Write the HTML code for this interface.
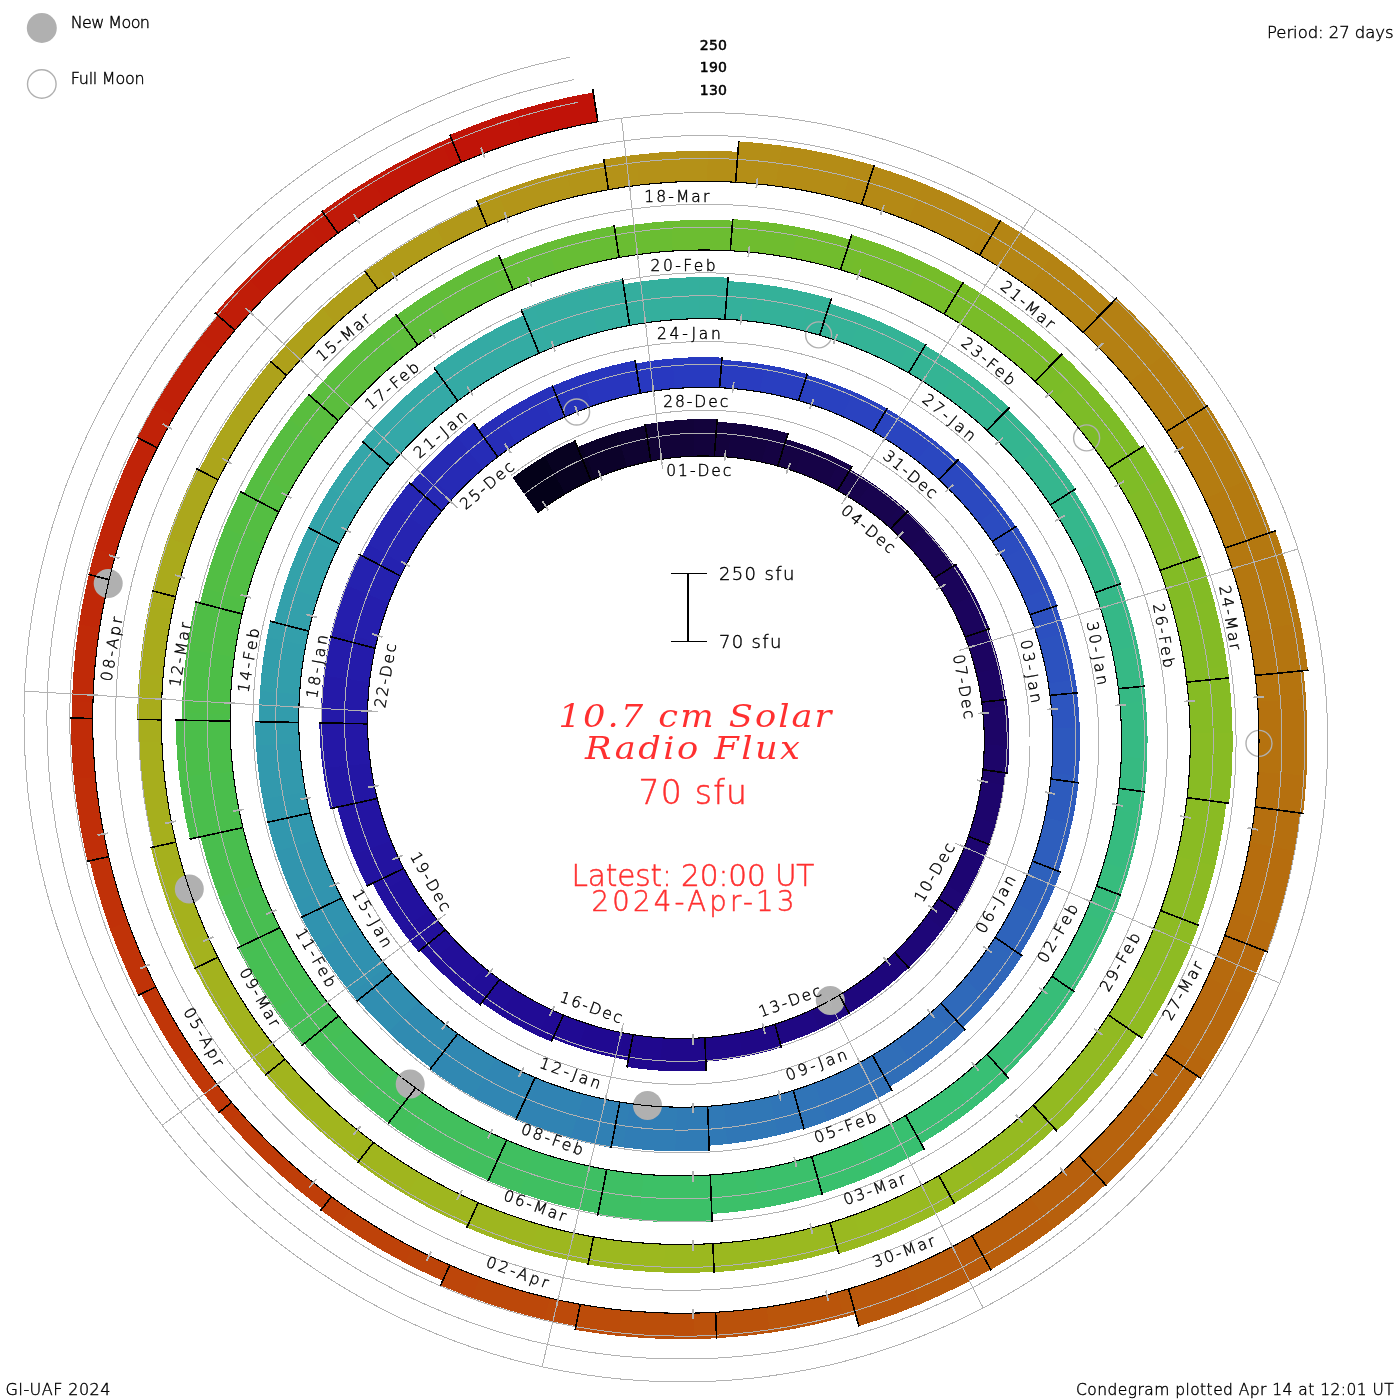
<!DOCTYPE html>
<html lang="en"><head><meta charset="utf-8"><title>10.7 cm Solar Radio Flux Condegram</title>
<style>html,body{margin:0;padding:0;background:#fff}svg{display:block}</style></head>
<body>
<svg width="1400" height="1400" viewBox="0 0 1400 1400">
<rect width="1400" height="1400" fill="#fff"/>
<g shape-rendering="crispEdges" stroke="none">
<polygon fill="#040119" points="537.7,512.8 546.6,506.1 555.8,499.9 565.2,494.0 544.7,456.0 533.7,462.8 523.0,470.1 512.6,477.7"/>
<polygon fill="#080221" points="565.2,494.0 573.6,489.2 582.2,484.7 591.0,480.5 574.7,440.5 564.5,445.4 554.5,450.5 544.7,456.0"/>
<polygon fill="#0a0225" points="591.0,480.5 592.4,479.9 593.7,479.3 595.0,478.7 582.0,445.2 580.5,445.9 579.0,446.6 577.4,447.3"/>
<polygon fill="#0c022a" points="595.0,478.7 605.4,474.4 616.0,470.5 626.7,467.1 617.9,432.3 605.8,436.1 593.8,440.4 582.0,445.2"/>
<polygon fill="#0f0331" points="626.7,467.1 634.7,464.9 642.8,462.9 650.9,461.2 645.4,425.7 636.2,427.6 627.0,429.9 617.9,432.3"/>
<polygon fill="#110335" points="650.9,461.2 653.9,460.6 656.8,460.1 659.7,459.6 655.2,422.8 651.9,423.4 648.5,424.0 645.2,424.6"/>
<polygon fill="#120339" points="659.7,459.6 670.9,458.0 682.2,456.8 693.6,456.2 693.7,419.2 680.8,419.8 667.9,421.1 655.2,422.8"/>
<polygon fill="#13033c" points="693.6,456.2 700.5,456.0 707.4,456.0 714.3,456.2 717.2,419.3 709.3,419.0 701.5,419.0 693.7,419.2"/>
<polygon fill="#14033d" points="714.3,456.2 718.8,456.4 723.3,456.7 727.8,457.0 732.1,422.9 727.1,422.5 722.0,422.2 717.0,421.9"/>
<polygon fill="#140340" points="727.8,457.0 739.2,458.3 750.5,460.0 761.8,462.1 770.3,428.9 757.6,426.4 744.9,424.4 732.1,422.9"/>
<polygon fill="#150343" points="761.8,462.1 767.1,463.3 772.4,464.6 777.7,466.0 788.2,433.3 782.2,431.7 776.3,430.2 770.3,428.9"/>
<polygon fill="#150344" points="777.7,466.0 783.5,467.7 789.3,469.5 795.0,471.5 805.4,445.2 799.1,443.1 792.7,441.0 786.3,439.2"/>
<polygon fill="#160347" points="795.0,471.5 805.8,475.5 816.5,480.0 827.0,485.0 840.5,460.2 829.0,454.7 817.3,449.7 805.4,445.2"/>
<polygon fill="#17034a" points="827.0,485.0 830.6,486.8 834.1,488.6 837.6,490.5 852.2,466.3 848.3,464.2 844.5,462.2 840.5,460.2"/>
<polygon fill="#17044c" points="837.6,490.5 844.2,494.3 850.8,498.3 857.2,502.4 871.5,482.6 864.5,478.1 857.4,473.7 850.2,469.6"/>
<polygon fill="#18044f" points="857.2,502.4 866.8,509.1 876.1,516.1 885.1,523.6 901.8,505.7 892.0,497.6 881.9,489.9 871.5,482.6"/>
<polygon fill="#180451" points="885.1,523.6 887.0,525.2 888.9,526.8 890.7,528.5 907.8,511.1 905.8,509.3 903.8,507.5 901.8,505.7"/>
<polygon fill="#190453" points="890.7,528.5 897.5,534.8 904.0,541.4 910.4,548.2 928.8,532.7 921.9,525.4 914.9,518.2 907.6,511.3"/>
<polygon fill="#1a0456" points="910.4,548.2 918.1,557.1 925.4,566.3 932.4,575.8 952.6,562.8 945.1,552.4 937.1,542.4 928.8,532.7"/>
<polygon fill="#1a0458" points="932.4,575.8 933.0,576.6 933.5,577.4 934.0,578.2 954.4,565.4 953.8,564.5 953.2,563.7 952.6,562.8"/>
<polygon fill="#1a045a" points="934.0,578.2 940.0,587.3 945.7,596.6 951.0,606.2 974.3,594.9 968.6,584.5 962.5,574.3 956.0,564.3"/>
<polygon fill="#1b045d" points="951.0,606.2 956.0,616.3 960.7,626.6 965.0,637.0 989.5,628.6 984.9,617.2 979.8,606.0 974.3,594.9"/>
<polygon fill="#1c045f" points="965.0,637.0 965.2,637.6 965.4,638.2 965.6,638.7 988.8,631.0 988.6,630.4 988.3,629.7 988.1,629.1"/>
<polygon fill="#1c0461" points="965.6,638.7 969.6,650.0 973.2,661.5 976.2,673.1 1000.2,668.2 996.9,655.6 993.1,643.2 988.8,631.0"/>
<polygon fill="#1c0463" points="976.2,673.1 978.4,682.6 980.2,692.3 981.7,702.0 1006.0,699.7 1004.4,689.1 1002.4,678.6 1000.2,668.2"/>
<polygon fill="#1c0465" points="981.7,702.0 981.9,704.2 982.2,706.4 982.5,708.6 1007.6,706.7 1007.3,704.3 1007.0,702.0 1006.7,699.6"/>
<polygon fill="#1d0566" points="982.5,708.6 983.6,720.6 984.2,732.7 984.3,744.8 1009.4,746.0 1009.3,732.9 1008.7,719.8 1007.6,706.7"/>
<polygon fill="#1d0569" points="984.3,744.8 984.0,753.1 983.6,761.4 982.9,769.7 1007.8,773.1 1008.6,764.1 1009.1,755.1 1009.4,746.0"/>
<polygon fill="#1d056a" points="982.9,769.7 982.5,773.5 982.0,777.3 981.5,781.1 1004.1,785.0 1004.6,781.0 1005.1,776.9 1005.6,772.8"/>
<polygon fill="#1d056c" points="981.5,781.1 979.6,793.1 977.2,805.0 974.3,816.9 996.1,823.7 999.3,810.9 1002.0,798.0 1004.1,785.0"/>
<polygon fill="#1d056e" points="974.3,816.9 972.4,823.4 970.4,829.9 968.3,836.4 989.7,844.6 992.0,837.7 994.1,830.7 996.1,823.7"/>
<polygon fill="#1d0570" points="968.3,836.4 966.5,841.5 964.6,846.7 962.5,851.7 982.7,860.8 984.9,855.4 987.0,849.9 988.9,844.4"/>
<polygon fill="#1d0572" points="962.5,851.7 957.7,863.0 952.3,874.1 946.5,885.0 965.4,896.5 971.7,884.9 977.4,873.0 982.7,860.8"/>
<polygon fill="#1e0674" points="946.5,885.0 943.9,889.5 941.2,894.0 938.5,898.5 956.7,911.0 959.7,906.2 962.6,901.4 965.4,896.5"/>
<polygon fill="#1e0675" points="938.5,898.5 934.6,904.4 930.5,910.3 926.4,916.1 942.8,929.2 947.3,923.0 951.6,916.7 955.8,910.3"/>
<polygon fill="#1e0678" points="926.4,916.1 918.8,925.9 910.8,935.5 902.4,944.6 917.1,959.7 926.1,949.9 934.6,939.7 942.8,929.2"/>
<polygon fill="#1e0679" points="902.4,944.6 899.9,947.3 897.3,949.8 894.7,952.4 908.8,968.0 911.6,965.2 914.4,962.5 917.1,959.7"/>
<polygon fill="#1e067b" points="894.7,952.4 888.3,958.5 881.7,964.4 875.0,970.1 887.4,986.5 894.7,980.4 901.7,974.1 908.6,967.7"/>
<polygon fill="#1e067d" points="875.0,970.1 865.1,977.8 854.9,985.1 844.4,992.0 854.7,1009.8 866.0,1002.5 876.9,994.7 887.4,986.5"/>
<polygon fill="#1f077f" points="844.4,992.0 842.7,993.1 841.0,994.1 839.3,995.2 849.2,1013.2 851.1,1012.1 852.9,1011.0 854.7,1009.8"/>
<polygon fill="#1f0780" points="839.3,995.2 830.1,1000.4 820.8,1005.4 811.2,1010.0 819.4,1029.4 829.6,1024.4 839.6,1019.2 849.4,1013.5"/>
<polygon fill="#1f0783" points="811.2,1010.0 799.7,1015.1 787.9,1019.7 775.9,1023.9 781.6,1044.1 794.4,1039.7 807.0,1034.8 819.4,1029.4"/>
<polygon fill="#1f0784" points="775.9,1023.9 775.6,1024.0 775.2,1024.1 774.9,1024.2 780.5,1044.4 780.9,1044.3 781.3,1044.2 781.6,1044.1"/>
<polygon fill="#1f0786" points="774.9,1024.2 763.1,1027.7 751.1,1030.7 739.0,1033.2 742.6,1057.0 755.7,1054.3 768.6,1051.1 781.3,1047.4"/>
<polygon fill="#1f0788" points="739.0,1033.2 727.7,1035.1 716.4,1036.6 704.9,1037.7 705.9,1061.7 718.2,1060.6 730.4,1059.0 742.6,1057.0"/>
<polygon fill="#1f078a" points="704.9,1037.7 703.6,1037.8 702.3,1037.9 701.0,1038.0 701.9,1070.8 703.3,1070.7 704.8,1070.6 706.2,1070.5"/>
<polygon fill="#20088b" points="701.0,1038.0 688.2,1038.5 675.4,1038.5 662.6,1037.9 659.4,1070.6 673.5,1071.2 687.7,1071.3 701.9,1070.8"/>
<polygon fill="#20088e" points="662.6,1037.9 652.8,1037.1 643.0,1036.1 633.2,1034.7 626.9,1066.9 637.7,1068.5 648.5,1069.7 659.4,1070.6"/>
<polygon fill="#20088f" points="633.2,1034.7 630.2,1034.2 627.2,1033.6 624.3,1033.1 618.5,1058.4 621.8,1059.0 625.0,1059.6 628.2,1060.1"/>
<polygon fill="#200991" points="624.3,1033.1 611.7,1030.4 599.1,1027.2 586.7,1023.5 577.9,1047.9 591.3,1052.0 604.9,1055.5 618.5,1058.4"/>
<polygon fill="#200a93" points="586.7,1023.5 578.9,1020.9 571.2,1018.0 563.5,1015.0 552.8,1038.6 561.1,1041.9 569.4,1045.0 577.9,1047.9"/>
<polygon fill="#210a94" points="563.5,1015.0 559.1,1013.1 554.8,1011.2 550.5,1009.2 537.1,1035.4 541.8,1037.6 546.6,1039.7 551.4,1041.7"/>
<polygon fill="#210b95" points="550.5,1009.2 538.8,1003.5 527.3,997.2 516.1,990.5 499.6,1014.8 511.9,1022.2 524.4,1029.1 537.1,1035.4"/>
<polygon fill="#210d97" points="516.1,990.5 510.6,986.9 505.1,983.2 499.7,979.4 481.7,1002.7 487.6,1006.8 493.6,1010.9 499.6,1014.8"/>
<polygon fill="#210d98" points="499.7,979.4 494.5,975.6 489.4,971.6 484.3,967.5 462.8,991.9 468.4,996.4 474.1,1000.8 479.9,1005.1"/>
<polygon fill="#220e99" points="484.3,967.5 474.3,959.0 464.6,950.0 455.4,940.7 431.1,962.2 441.3,972.5 451.9,982.4 462.8,991.9"/>
<polygon fill="#220f9b" points="455.4,940.7 452.0,937.1 448.7,933.4 445.5,929.7 420.2,950.1 423.8,954.2 427.4,958.2 431.1,962.2"/>
<polygon fill="#22109c" points="445.5,929.7 440.1,923.4 435.0,916.9 429.9,910.3 401.3,929.9 406.8,937.3 412.5,944.5 418.4,951.6"/>
<polygon fill="#22119e" points="429.9,910.3 422.3,899.5 415.1,888.3 408.4,876.8 377.5,892.8 384.9,905.5 392.9,917.9 401.3,929.9"/>
<polygon fill="#23129f" points="408.4,876.8 406.8,874.0 405.3,871.2 403.8,868.4 372.5,883.4 374.1,886.5 375.8,889.6 377.5,892.8"/>
<polygon fill="#2313a0" points="403.8,868.4 399.3,859.3 395.0,850.1 391.1,840.8 352.7,854.9 357.2,865.4 361.9,875.8 367.0,886.0"/>
<polygon fill="#2314a2" points="391.1,840.8 386.3,828.3 382.1,815.6 378.3,802.8 338.5,812.0 342.7,826.5 347.4,840.8 352.7,854.9"/>
<polygon fill="#2315a3" points="378.3,802.8 378.0,801.3 377.6,799.9 377.2,798.5 337.3,807.1 337.7,808.8 338.1,810.4 338.5,812.0"/>
<polygon fill="#2316a4" points="377.2,798.5 374.5,786.9 372.2,775.1 370.4,763.3 322.6,768.2 324.6,781.8 327.2,795.3 330.2,808.7"/>
<polygon fill="#2417a6" points="370.4,763.3 368.9,750.2 367.9,737.0 367.4,723.8 319.3,722.9 319.8,738.0 320.9,753.1 322.6,768.2"/>
<polygon fill="#2418a7" points="367.4,723.8 367.4,723.5 367.4,723.2 367.4,722.9 320.9,721.9 320.9,722.2 320.9,722.5 320.9,722.9"/>
<polygon fill="#2419a8" points="367.4,722.9 367.5,709.4 368.2,695.8 369.5,682.3 323.4,675.5 321.9,690.9 321.1,706.4 320.9,721.9"/>
<polygon fill="#241baa" points="369.5,682.3 371.0,670.9 372.9,659.5 375.2,648.2 330.1,636.6 327.4,649.5 325.2,662.5 323.4,675.5"/>
<polygon fill="#251dab" points="375.2,648.2 375.7,646.2 376.1,644.2 376.6,642.1 331.8,629.7 331.2,632.0 330.6,634.3 330.1,636.6"/>
<polygon fill="#251ead" points="376.6,642.1 380.1,628.9 384.1,615.9 388.7,603.0 345.8,585.0 340.5,599.7 335.8,614.6 331.8,629.7"/>
<polygon fill="#2521af" points="388.7,603.0 392.3,593.9 396.2,584.9 400.4,576.0 359.2,554.3 354.4,564.4 349.9,574.7 345.8,585.0"/>
<polygon fill="#2522b0" points="400.4,576.0 402.1,572.5 403.9,569.0 405.7,565.5 368.3,544.1 366.2,548.0 364.2,551.9 362.2,555.9"/>
<polygon fill="#2624b1" points="405.7,565.5 412.4,553.5 419.6,541.7 427.3,530.3 392.8,504.3 384.1,517.3 375.9,530.5 368.3,544.1"/>
<polygon fill="#2626b3" points="427.3,530.3 432.0,523.7 436.9,517.3 441.9,511.0 409.4,482.6 403.7,489.7 398.2,497.0 392.8,504.3"/>
<polygon fill="#2628b4" points="441.9,511.0 445.6,506.5 449.3,502.2 453.2,497.9 423.6,469.2 419.2,474.0 415.0,478.9 410.8,483.9"/>
<polygon fill="#262ab5" points="453.2,497.9 462.7,487.8 472.7,478.1 483.0,468.8 457.2,436.7 445.5,447.1 434.3,457.9 423.6,469.2"/>
<polygon fill="#262cb7" points="483.0,468.8 487.9,464.8 492.8,460.8 497.7,456.9 473.8,423.4 468.2,427.7 462.6,432.1 457.2,436.7"/>
<polygon fill="#272db8" points="497.7,456.9 503.8,452.3 510.1,447.9 516.4,443.6 498.8,415.0 491.8,419.7 484.9,424.6 478.2,429.6"/>
<polygon fill="#272fba" points="516.4,443.6 528.2,436.1 540.4,429.1 552.8,422.6 538.9,392.1 525.2,399.2 511.8,406.8 498.8,415.0"/>
<polygon fill="#2731bb" points="552.8,422.6 556.8,420.7 560.9,418.7 565.0,416.9 552.3,385.8 547.8,387.8 543.3,389.9 538.9,392.1"/>
<polygon fill="#2733bc" points="565.0,416.9 573.8,413.1 582.7,409.6 591.7,406.3 581.7,374.6 571.9,378.2 562.1,382.0 552.5,386.1"/>
<polygon fill="#2835be" points="591.7,406.3 605.1,401.9 618.7,398.1 632.4,394.9 626.5,362.2 611.4,365.7 596.5,369.9 581.7,374.6"/>
<polygon fill="#2837bf" points="632.4,394.9 635.1,394.3 637.7,393.8 640.3,393.3 635.2,360.5 632.3,361.0 629.4,361.6 626.5,362.2"/>
<polygon fill="#2838c0" points="640.3,393.3 651.6,391.3 663.0,389.8 674.5,388.6 672.8,358.5 660.4,359.7 648.0,361.4 635.7,363.5"/>
<polygon fill="#283ac0" points="674.5,388.6 688.6,387.7 702.9,387.3 717.1,387.6 719.2,357.5 703.7,357.2 688.3,357.5 672.8,358.5"/>
<polygon fill="#293bc0" points="717.1,387.6 718.0,387.6 718.8,387.6 719.6,387.7 722.0,357.6 721.0,357.6 720.1,357.5 719.2,357.5"/>
<polygon fill="#293cc0" points="719.6,387.7 733.0,388.6 746.4,390.0 759.7,391.9 765.1,364.6 750.7,362.4 736.3,360.9 721.8,359.9"/>
<polygon fill="#293ec0" points="759.7,391.9 772.8,394.3 785.8,397.2 798.6,400.6 807.1,374.1 793.3,370.4 779.2,367.2 765.1,364.6"/>
<polygon fill="#293fc0" points="798.6,400.6 799.6,400.9 800.7,401.2 801.7,401.5 810.2,375.8 809.1,375.5 808.0,375.1 806.9,374.8"/>
<polygon fill="#2941c0" points="801.7,401.5 815.4,405.9 828.9,410.8 842.2,416.3 853.9,391.8 839.5,385.9 824.9,380.5 810.2,375.8"/>
<polygon fill="#2a42c0" points="842.2,416.3 852.7,421.1 863.0,426.2 873.1,431.7 887.1,408.5 876.2,402.6 865.1,397.0 853.9,391.8"/>
<polygon fill="#2a44c0" points="873.1,431.7 875.7,433.2 878.2,434.6 880.8,436.1 895.2,413.6 892.4,412.0 889.7,410.4 886.9,408.8"/>
<polygon fill="#2a45c0" points="880.8,436.1 893.1,443.8 905.1,452.0 916.7,460.7 933.8,440.1 921.3,430.8 908.4,421.9 895.2,413.6"/>
<polygon fill="#2a47c0" points="916.7,460.7 924.2,466.7 931.6,473.0 938.8,479.5 957.5,460.4 949.8,453.4 941.9,446.7 933.8,440.1"/>
<polygon fill="#2b48c0" points="938.8,479.5 942.4,482.8 945.9,486.2 949.4,489.6 969.8,470.6 966.0,466.9 962.2,463.2 958.3,459.6"/>
<polygon fill="#2b49c0" points="949.4,489.6 959.5,500.2 969.2,511.2 978.4,522.5 1000.9,506.2 991.0,493.9 980.6,482.0 969.8,470.6"/>
<polygon fill="#2b4bc0" points="978.4,522.5 983.1,528.8 987.7,535.1 992.2,541.5 1015.7,526.7 1011.0,519.7 1006.0,512.9 1000.9,506.2"/>
<polygon fill="#2b4cc0" points="992.2,541.5 995.9,547.3 999.6,553.1 1003.2,559.0 1028.2,545.1 1024.4,538.8 1020.5,532.5 1016.4,526.3"/>
<polygon fill="#2c4dc0" points="1003.2,559.0 1010.4,571.8 1017.1,584.9 1023.3,598.3 1049.9,587.7 1043.3,573.2 1036.0,559.0 1028.2,545.1"/>
<polygon fill="#2c4fc0" points="1023.3,598.3 1025.6,603.8 1027.9,609.3 1030.0,614.8 1057.1,605.5 1054.8,599.5 1052.4,593.6 1049.9,587.7"/>
<polygon fill="#2c50c0" points="1030.0,614.8 1033.0,623.1 1035.8,631.5 1038.4,640.0 1065.0,633.1 1062.2,623.9 1059.2,614.9 1056.0,605.9"/>
<polygon fill="#2c52bf" points="1038.4,640.0 1042.3,654.3 1045.6,668.8 1048.3,683.4 1075.5,679.9 1072.7,664.1 1069.2,648.5 1065.0,633.1"/>
<polygon fill="#2d54bf" points="1048.3,683.4 1048.9,687.4 1049.5,691.4 1050.0,695.4 1077.4,692.7 1076.8,688.4 1076.2,684.1 1075.5,679.9"/>
<polygon fill="#2d55bf" points="1050.0,695.4 1051.2,706.2 1052.1,717.0 1052.7,727.9 1079.8,727.8 1079.2,716.1 1078.3,704.4 1077.0,692.7"/>
<polygon fill="#2d58be" points="1052.7,727.9 1052.9,742.9 1052.5,757.8 1051.5,772.8 1078.4,776.0 1079.6,759.9 1080.0,743.8 1079.8,727.8"/>
<polygon fill="#2d5abe" points="1051.5,772.8 1051.4,774.8 1051.1,776.9 1050.9,779.0 1077.8,782.7 1078.0,780.4 1078.2,778.2 1078.4,776.0"/>
<polygon fill="#2d5bbd" points="1050.9,779.0 1049.3,791.8 1047.3,804.6 1044.8,817.3 1071.8,824.0 1074.6,810.3 1076.8,796.6 1078.5,782.8"/>
<polygon fill="#2e5ebd" points="1044.8,817.3 1041.3,832.0 1037.2,846.5 1032.5,860.8 1058.5,870.8 1063.6,855.4 1068.0,839.8 1071.8,824.0"/>
<polygon fill="#2e5fbc" points="1032.5,860.8 1032.5,860.9 1032.4,861.0 1032.4,861.1 1058.4,871.2 1058.4,871.1 1058.5,870.9 1058.5,870.8"/>
<polygon fill="#2e61bc" points="1032.4,861.1 1027.1,875.2 1021.3,889.0 1014.8,902.6 1041.4,916.9 1048.4,902.2 1054.8,887.2 1060.5,872.0"/>
<polygon fill="#2e63bb" points="1014.8,902.6 1008.7,914.4 1002.1,926.0 995.1,937.3 1020.0,954.4 1027.6,942.1 1034.7,929.6 1041.4,916.9"/>
<polygon fill="#2f65bb" points="995.1,937.3 994.1,938.9 993.1,940.5 992.0,942.1 1018.8,961.0 1019.9,959.3 1021.1,957.6 1022.2,955.9"/>
<polygon fill="#2f66ba" points="992.0,942.1 983.3,954.6 974.1,966.7 964.4,978.5 988.6,1000.6 999.2,987.8 1009.3,974.6 1018.8,961.0"/>
<polygon fill="#2f69ba" points="964.4,978.5 956.8,987.0 949.0,995.2 940.9,1003.3 963.0,1027.6 971.8,1018.9 980.3,1009.9 988.6,1000.6"/>
<polygon fill="#2f6ab9" points="940.9,1003.3 938.1,1006.0 935.2,1008.7 932.3,1011.3 955.6,1038.6 958.7,1035.7 961.9,1032.8 965.0,1029.8"/>
<polygon fill="#2f6cb9" points="932.3,1011.3 920.7,1021.3 908.7,1030.9 896.3,1040.0 916.0,1070.0 929.6,1060.1 942.8,1049.6 955.6,1038.6"/>
<polygon fill="#306eb8" points="896.3,1040.0 888.5,1045.3 880.5,1050.4 872.4,1055.3 889.8,1086.7 898.7,1081.4 907.4,1075.8 916.0,1070.0"/>
<polygon fill="#3070b8" points="872.4,1055.3 867.3,1058.3 862.1,1061.2 856.8,1064.1 874.5,1100.0 880.3,1096.9 886.1,1093.7 891.8,1090.4"/>
<polygon fill="#3072b8" points="856.8,1064.1 843.0,1071.0 828.9,1077.3 814.5,1083.1 827.5,1121.0 843.5,1114.7 859.1,1107.7 874.5,1100.0"/>
<polygon fill="#3074b7" points="814.5,1083.1 807.5,1085.7 800.4,1088.1 793.3,1090.4 804.0,1129.0 811.9,1126.5 819.8,1123.8 827.5,1121.0"/>
<polygon fill="#3075b7" points="793.3,1090.4 785.6,1092.7 777.8,1094.8 770.0,1096.8 778.1,1135.3 786.7,1133.1 795.3,1130.8 803.8,1128.3"/>
<polygon fill="#3077b6" points="770.0,1096.8 754.8,1100.1 739.4,1102.8 724.0,1104.9 727.2,1144.1 744.3,1141.8 761.3,1138.9 778.1,1135.3"/>
<polygon fill="#3079b6" points="724.0,1104.9 718.5,1105.4 713.1,1105.9 707.6,1106.3 709.1,1145.6 715.2,1145.2 721.2,1144.7 727.2,1144.1"/>
<polygon fill="#307bb5" points="707.6,1106.3 697.5,1106.9 687.3,1107.2 677.1,1107.2 675.2,1151.4 686.6,1151.4 698.0,1151.2 709.3,1150.6"/>
<polygon fill="#307db5" points="677.1,1107.2 661.4,1106.6 645.8,1105.5 630.2,1103.6 622.8,1147.3 640.3,1149.4 657.7,1150.8 675.2,1151.4"/>
<polygon fill="#307fb4" points="630.2,1103.6 626.8,1103.1 623.4,1102.6 619.9,1102.1 611.4,1145.5 615.2,1146.1 619.0,1146.7 622.8,1147.3"/>
<polygon fill="#3080b4" points="619.9,1102.1 607.8,1099.8 595.8,1097.2 583.9,1094.2 570.5,1138.8 583.9,1142.2 597.4,1145.2 611.0,1147.8"/>
<polygon fill="#3083b3" points="583.9,1094.2 568.7,1089.8 553.7,1084.8 538.9,1079.1 520.1,1121.7 536.7,1128.1 553.5,1133.8 570.5,1138.8"/>
<polygon fill="#3084b3" points="538.9,1079.1 537.6,1078.6 536.4,1078.0 535.1,1077.5 515.8,1119.9 517.3,1120.5 518.7,1121.1 520.1,1121.7"/>
<polygon fill="#3086b3" points="535.1,1077.5 521.9,1071.6 508.8,1065.3 496.1,1058.4 472.9,1097.1 487.2,1104.8 501.7,1111.9 516.4,1118.5"/>
<polygon fill="#3088b2" points="496.1,1058.4 483.0,1050.7 470.2,1042.5 457.7,1033.7 430.1,1069.3 444.0,1079.1 458.3,1088.4 472.9,1097.1"/>
<polygon fill="#308ab2" points="457.7,1033.7 457.1,1033.3 456.5,1032.9 456.0,1032.5 429.1,1066.7 429.8,1067.2 430.4,1067.7 431.0,1068.1"/>
<polygon fill="#308bb1" points="456.0,1032.5 443.3,1022.7 431.1,1012.5 419.3,1001.7 388.4,1032.3 401.5,1044.4 415.1,1055.8 429.1,1066.7"/>
<polygon fill="#308eb1" points="419.3,1001.7 409.9,992.4 400.8,982.8 392.0,972.9 358.1,1000.2 367.9,1011.3 378.0,1022.0 388.4,1032.3"/>
<polygon fill="#308fb0" points="392.0,972.9 390.2,970.7 388.4,968.6 386.6,966.4 351.2,993.7 353.2,996.1 355.2,998.5 357.2,1000.9"/>
<polygon fill="#3091b0" points="386.6,966.4 376.7,953.7 367.3,940.7 358.4,927.2 320.0,949.9 329.8,964.9 340.2,979.5 351.2,993.7"/>
<polygon fill="#3093af" points="358.4,927.2 352.6,917.6 347.1,907.9 341.8,898.0 301.5,917.3 307.4,928.3 313.5,939.2 320.0,949.9"/>
<polygon fill="#3194af" points="341.8,898.0 339.6,893.6 337.4,889.1 335.3,884.7 295.4,901.9 297.7,906.9 300.1,911.9 302.6,916.8"/>
<polygon fill="#3195ae" points="335.3,884.7 328.8,869.8 322.9,854.7 317.6,839.4 275.8,851.6 281.6,868.6 288.1,885.4 295.4,901.9"/>
<polygon fill="#3197ae" points="317.6,839.4 314.9,830.7 312.4,821.9 310.1,813.0 267.6,822.3 270.1,832.1 272.8,841.9 275.8,851.6"/>
<polygon fill="#3198ad" points="310.1,813.0 308.4,806.1 306.9,799.1 305.5,792.1 262.6,799.0 264.1,806.8 265.8,814.5 267.6,822.3"/>
<polygon fill="#3299ad" points="305.5,792.1 302.9,776.1 300.8,759.9 299.5,743.6 256.0,745.1 257.4,763.2 259.6,781.2 262.6,799.0"/>
<polygon fill="#329bac" points="299.5,743.6 299.1,736.5 298.9,729.5 298.7,722.5 255.2,721.6 255.3,729.4 255.6,737.3 256.0,745.1"/>
<polygon fill="#329cac" points="298.7,722.5 298.8,713.1 299.0,703.8 299.5,694.5 260.0,690.9 259.4,701.2 259.1,711.4 259.1,721.7"/>
<polygon fill="#329eab" points="299.5,694.5 300.9,678.1 302.9,661.8 305.6,645.6 266.9,637.1 263.8,655.0 261.5,672.9 260.0,690.9"/>
<polygon fill="#339fab" points="305.6,645.6 306.6,640.7 307.6,635.9 308.7,631.1 270.2,621.2 269.0,626.5 267.9,631.8 266.9,637.1"/>
<polygon fill="#33a0ab" points="308.7,631.1 311.4,619.9 314.5,608.7 317.9,597.7 284.4,585.8 280.7,597.9 277.3,610.0 274.3,622.2"/>
<polygon fill="#33a2aa" points="317.9,597.7 323.3,582.0 329.3,566.6 336.0,551.5 304.2,535.6 296.9,552.1 290.3,568.8 284.4,585.8"/>
<polygon fill="#33a3aa" points="336.0,551.5 337.2,549.0 338.4,546.5 339.6,544.0 308.2,527.4 306.9,530.1 305.5,532.9 304.2,535.6"/>
<polygon fill="#33a4a9" points="339.6,544.0 345.9,531.7 352.7,519.6 359.8,507.8 330.3,488.1 322.5,500.9 315.1,514.1 308.2,527.4"/>
<polygon fill="#34a6a9" points="359.8,507.8 369.0,493.9 378.7,480.3 389.0,467.2 362.1,444.0 350.9,458.3 340.3,472.9 330.3,488.1"/>
<polygon fill="#34a7a8" points="389.0,467.2 389.4,466.7 389.8,466.3 390.1,465.8 363.4,442.5 363.0,443.0 362.6,443.5 362.1,444.0"/>
<polygon fill="#34a8a8" points="390.1,465.8 400.6,453.6 411.6,441.8 423.1,430.5 398.3,403.0 385.8,415.3 373.7,428.2 362.2,441.5"/>
<polygon fill="#34a9a6" points="423.1,430.5 434.3,420.2 445.8,410.4 457.8,401.0 436.3,370.9 423.2,381.1 410.5,391.8 398.3,403.0"/>
<polygon fill="#34aaa5" points="457.8,401.0 459.1,400.0 460.3,399.1 461.6,398.1 438.3,364.6 436.8,365.7 435.4,366.7 434.0,367.8"/>
<polygon fill="#34aaa4" points="461.6,398.1 475.3,388.4 489.5,379.3 504.0,370.8 485.0,334.6 469.0,344.0 453.4,354.0 438.3,364.6"/>
<polygon fill="#34aba3" points="504.0,370.8 515.5,364.6 527.2,358.7 539.1,353.3 523.6,315.5 510.5,321.4 497.6,327.8 485.0,334.6"/>
<polygon fill="#34aca2" points="539.1,353.3 542.6,351.8 546.1,350.3 549.6,348.8 533.1,304.9 529.1,306.5 525.2,308.1 521.3,309.8"/>
<polygon fill="#34aca1" points="549.6,348.8 565.4,342.7 581.5,337.3 597.8,332.6 586.8,287.0 568.7,292.2 550.7,298.2 533.1,304.9"/>
<polygon fill="#34ad9f" points="597.8,332.6 608.3,329.9 619.0,327.5 629.7,325.4 622.5,279.0 610.5,281.4 598.6,284.0 586.8,287.0"/>
<polygon fill="#34ae9e" points="629.7,325.4 635.7,324.4 641.7,323.4 647.7,322.5 643.1,281.2 636.5,282.1 629.9,283.2 623.3,284.3"/>
<polygon fill="#34af9d" points="647.7,322.5 664.7,320.5 681.7,319.3 698.7,318.7 699.3,277.1 680.5,277.7 661.8,279.0 643.1,281.2"/>
<polygon fill="#34af9c" points="698.7,318.7 707.5,318.7 716.2,318.8 724.9,319.2 728.2,277.7 718.5,277.3 708.9,277.1 699.3,277.1"/>
<polygon fill="#34b09b" points="724.9,319.2 733.3,319.7 741.6,320.4 750.0,321.2 755.3,283.4 746.1,282.5 737.0,281.7 727.9,281.1"/>
<polygon fill="#34b199" points="750.0,321.2 767.0,323.5 783.9,326.5 800.7,330.2 810.6,293.3 792.3,289.3 773.8,286.0 755.3,283.4"/>
<polygon fill="#34b198" points="800.7,330.2 807.0,331.7 813.3,333.4 819.6,335.2 831.3,298.9 824.4,296.9 817.5,295.1 810.6,293.3"/>
<polygon fill="#34b297" points="819.6,335.2 829.8,338.3 840.0,341.7 850.0,345.4 862.6,314.6 851.7,310.7 840.8,307.0 829.8,303.6"/>
<polygon fill="#34b396" points="850.0,345.4 866.1,351.8 881.8,358.9 897.3,366.7 913.5,337.7 896.9,329.3 879.9,321.6 862.6,314.6"/>
<polygon fill="#34b495" points="897.3,366.7 901.1,368.7 904.8,370.8 908.6,372.9 925.7,344.4 921.7,342.2 917.6,339.9 913.5,337.7"/>
<polygon fill="#34b494" points="908.6,372.9 919.8,379.5 930.8,386.5 941.6,393.8 960.7,368.0 949.1,360.1 937.2,352.6 925.2,345.4"/>
<polygon fill="#34b592" points="941.6,393.8 955.7,404.0 969.3,414.9 982.4,426.3 1004.6,403.1 990.4,390.8 975.8,379.1 960.7,368.0"/>
<polygon fill="#34b591" points="982.4,426.3 983.9,427.6 985.4,429.0 986.9,430.4 1009.4,407.5 1007.8,406.0 1006.2,404.5 1004.6,403.1"/>
<polygon fill="#34b590" points="986.9,430.4 998.0,441.1 1008.7,452.2 1019.0,463.7 1042.0,444.9 1031.1,432.5 1019.6,420.6 1007.8,409.2"/>
<polygon fill="#35b68e" points="1019.0,463.7 1030.0,477.0 1040.4,490.7 1050.3,504.9 1075.5,489.0 1064.9,473.9 1053.8,459.1 1042.0,444.9"/>
<polygon fill="#35b68d" points="1050.3,504.9 1050.4,505.1 1050.6,505.3 1050.7,505.6 1074.0,490.9 1073.8,490.7 1073.7,490.5 1073.5,490.3"/>
<polygon fill="#35b78c" points="1050.7,505.6 1060.1,520.4 1068.9,535.6 1077.1,551.1 1102.0,539.5 1093.3,522.9 1084.0,506.7 1074.0,490.9"/>
<polygon fill="#35b78a" points="1077.1,551.1 1083.5,564.7 1089.5,578.5 1095.0,592.6 1121.0,583.7 1115.2,568.7 1108.8,554.0 1102.0,539.5"/>
<polygon fill="#35b889" points="1095.0,592.6 1095.9,595.0 1096.8,597.4 1097.6,599.8 1122.7,591.8 1121.8,589.2 1120.8,586.6 1119.9,584.0"/>
<polygon fill="#35b887" points="1097.6,599.8 1103.1,616.6 1107.9,633.6 1112.0,650.8 1137.9,645.9 1133.6,627.7 1128.5,609.6 1122.7,591.8"/>
<polygon fill="#36b985" points="1112.0,650.8 1114.5,663.4 1116.6,676.0 1118.4,688.7 1144.6,686.2 1142.8,672.7 1140.5,659.3 1137.9,645.9"/>
<polygon fill="#36b984" points="1118.4,688.7 1119.0,693.6 1119.5,698.5 1120.0,703.4 1145.9,701.8 1145.4,696.6 1144.8,691.4 1144.2,686.2"/>
<polygon fill="#36ba83" points="1120.0,703.4 1121.2,721.1 1121.6,738.9 1121.3,756.7 1147.2,758.4 1147.6,739.5 1147.1,720.6 1145.9,701.8"/>
<polygon fill="#36ba81" points="1121.3,756.7 1120.8,767.3 1120.0,777.8 1119.0,788.3 1144.7,791.8 1145.8,780.7 1146.7,769.5 1147.2,758.4"/>
<polygon fill="#36bb80" points="1119.0,788.3 1118.1,795.5 1117.1,802.8 1116.0,810.0 1141.5,814.8 1142.7,807.2 1143.8,799.5 1144.7,791.8"/>
<polygon fill="#36bb7f" points="1116.0,810.0 1112.8,827.6 1108.8,845.0 1104.1,862.3 1128.8,870.3 1133.8,852.0 1138.1,833.5 1141.5,814.8"/>
<polygon fill="#37bc7d" points="1104.1,862.3 1101.7,870.2 1099.2,878.1 1096.5,885.9 1120.7,895.2 1123.6,887.0 1126.3,878.6 1128.8,870.3"/>
<polygon fill="#37bc7c" points="1096.5,885.9 1093.1,895.0 1089.5,904.0 1085.8,913.0 1109.6,924.1 1113.7,914.6 1117.5,905.0 1121.0,895.4"/>
<polygon fill="#37bd7a" points="1085.8,913.0 1078.2,929.3 1070.0,945.3 1061.2,961.1 1083.5,975.0 1092.9,958.4 1101.6,941.4 1109.6,924.1"/>
<polygon fill="#37bd79" points="1061.2,961.1 1058.1,966.1 1055.0,971.2 1051.8,976.2 1073.5,991.1 1076.9,985.8 1080.2,980.4 1083.5,975.0"/>
<polygon fill="#37bd78" points="1051.8,976.2 1045.0,986.3 1038.0,996.1 1030.7,1005.9 1052.0,1023.2 1059.7,1012.9 1067.2,1002.4 1074.4,991.7"/>
<polygon fill="#37be76" points="1030.7,1005.9 1019.3,1019.9 1007.3,1033.5 994.7,1046.6 1013.7,1066.5 1027.1,1052.6 1039.8,1038.2 1052.0,1023.2"/>
<polygon fill="#37be75" points="994.7,1046.6 992.2,1049.2 989.6,1051.7 987.1,1054.2 1005.5,1074.5 1008.3,1071.9 1011.0,1069.2 1013.7,1066.5"/>
<polygon fill="#38bf74" points="987.1,1054.2 976.3,1064.1 965.3,1073.6 953.9,1082.8 973.0,1108.5 985.2,1098.7 997.1,1088.5 1008.6,1077.9"/>
<polygon fill="#38bf72" points="953.9,1082.8 939.3,1093.7 924.2,1104.0 908.7,1113.6 924.5,1141.6 941.1,1131.2 957.3,1120.2 973.0,1108.5"/>
<polygon fill="#38c071" points="908.7,1113.6 907.7,1114.2 906.7,1114.9 905.6,1115.5 921.1,1143.5 922.2,1142.9 923.3,1142.2 924.5,1141.6"/>
<polygon fill="#38c070" points="905.6,1115.5 890.7,1123.8 875.5,1131.6 859.9,1138.7 874.5,1174.4 891.4,1166.6 908.0,1158.2 924.3,1149.2"/>
<polygon fill="#39c06d" points="859.9,1138.7 844.1,1145.3 828.0,1151.2 811.7,1156.6 822.1,1193.7 839.8,1187.9 857.3,1181.5 874.5,1174.4"/>
<polygon fill="#3ac06c" points="811.7,1156.6 810.6,1156.9 809.4,1157.3 808.2,1157.6 818.4,1195.2 819.6,1194.8 820.9,1194.4 822.2,1194.1"/>
<polygon fill="#3bc06b" points="808.2,1157.6 790.5,1162.5 772.6,1166.6 754.4,1170.0 759.8,1208.5 779.5,1204.9 799.1,1200.4 818.4,1195.2"/>
<polygon fill="#3cc069" points="754.4,1170.0 739.8,1172.1 725.1,1173.8 710.3,1175.0 711.8,1213.9 727.9,1212.6 743.9,1210.8 759.8,1208.5"/>
<polygon fill="#3cc068" points="710.3,1175.0 706.6,1175.2 703.0,1175.4 699.3,1175.5 700.0,1222.1 704.0,1221.9 708.1,1221.7 712.1,1221.5"/>
<polygon fill="#3dc066" points="699.3,1175.5 680.8,1175.9 662.3,1175.4 643.8,1174.2 638.7,1220.5 659.1,1221.9 679.6,1222.4 700.0,1222.1"/>
<polygon fill="#3ebf64" points="643.8,1174.2 631.4,1173.0 619.0,1171.4 606.7,1169.5 597.7,1215.2 611.3,1217.3 625.0,1219.1 638.7,1220.5"/>
<polygon fill="#3ebf63" points="606.7,1169.5 600.7,1168.4 594.7,1167.3 588.7,1166.0 578.3,1209.4 584.9,1210.8 591.5,1212.1 598.1,1213.3"/>
<polygon fill="#3fbf61" points="588.7,1166.0 570.6,1161.7 552.6,1156.7 534.9,1151.0 519.2,1192.8 538.7,1199.1 558.4,1204.7 578.3,1209.4"/>
<polygon fill="#40bf60" points="534.9,1151.0 525.4,1147.5 516.0,1143.9 506.7,1140.0 488.2,1180.7 498.4,1185.0 508.8,1189.0 519.2,1192.8"/>
<polygon fill="#41bf5e" points="506.7,1140.0 498.8,1136.6 491.0,1133.0 483.2,1129.3 462.6,1168.5 471.1,1172.6 479.7,1176.6 488.3,1180.4"/>
<polygon fill="#42bf5d" points="483.2,1129.3 466.6,1120.6 450.3,1111.3 434.5,1101.2 409.2,1137.6 426.6,1148.6 444.4,1158.9 462.6,1168.5"/>
<polygon fill="#42bf5b" points="434.5,1101.2 428.1,1096.9 421.8,1092.5 415.6,1088.0 388.5,1123.0 395.3,1128.0 402.2,1132.8 409.2,1137.6"/>
<polygon fill="#43bf5a" points="415.6,1088.0 406.7,1081.3 398.0,1074.4 389.5,1067.3 359.8,1100.2 369.2,1108.0 378.7,1115.6 388.5,1123.0"/>
<polygon fill="#44bf58" points="389.5,1067.3 375.4,1054.7 361.9,1041.5 348.9,1027.8 315.4,1056.8 329.6,1071.9 344.4,1086.3 359.8,1100.2"/>
<polygon fill="#45bf56" points="348.9,1027.8 345.4,1023.9 341.9,1020.0 338.5,1016.0 304.1,1043.8 307.8,1048.2 311.6,1052.5 315.4,1056.8"/>
<polygon fill="#45bf55" points="338.5,1016.0 329.9,1005.4 321.5,994.6 313.5,983.5 274.4,1009.6 283.2,1021.8 292.4,1033.8 302.0,1045.5"/>
<polygon fill="#46bf53" points="313.5,983.5 302.9,967.8 292.9,951.6 283.7,935.0 241.7,956.1 251.9,974.4 262.8,992.2 274.4,1009.6"/>
<polygon fill="#47be52" points="283.7,935.0 282.4,932.6 281.1,930.1 279.9,927.7 237.5,947.9 238.9,950.6 240.3,953.3 241.7,956.1"/>
<polygon fill="#48be51" points="279.9,927.7 272.8,913.0 266.2,898.2 260.1,883.1 219.1,897.6 225.7,914.1 232.9,930.4 240.6,946.4"/>
<polygon fill="#49be4e" points="260.1,883.1 253.7,865.1 248.0,846.9 243.1,828.4 200.6,837.7 206.0,857.9 212.1,877.9 219.1,897.6"/>
<polygon fill="#49be4d" points="243.1,828.4 243.1,828.1 243.0,827.9 242.9,827.6 200.4,836.8 200.5,837.1 200.6,837.4 200.6,837.7"/>
<polygon fill="#4abe4c" points="242.9,827.6 238.9,809.2 235.6,790.6 233.1,771.9 179.1,776.8 181.9,797.7 185.5,818.5 190.0,839.1"/>
<polygon fill="#4bbe4a" points="233.1,771.9 231.4,755.0 230.4,738.1 230.1,721.1 175.9,720.1 176.2,739.0 177.3,757.9 179.1,776.8"/>
<polygon fill="#4cbe49" points="230.1,721.1 230.0,718.9 230.1,716.6 230.1,714.4 182.0,712.8 182.0,715.2 182.0,717.7 182.0,720.2"/>
<polygon fill="#4dbe47" points="230.1,714.4 230.7,695.2 232.1,675.9 234.3,656.8 186.8,649.2 184.3,670.3 182.7,691.5 182.0,712.8"/>
<polygon fill="#4fbe46" points="234.3,656.8 236.4,642.4 239.1,628.2 242.1,614.0 195.6,602.0 192.1,617.6 189.2,633.4 186.8,649.2"/>
<polygon fill="#50be45" points="242.1,614.0 243.2,609.3 244.4,604.6 245.6,600.0 203.8,587.8 202.5,592.9 201.2,598.0 200.0,603.1"/>
<polygon fill="#52be44" points="245.6,600.0 251.0,581.4 257.1,563.0 264.0,544.9 224.0,527.6 216.5,547.4 209.7,567.5 203.8,587.8"/>
<polygon fill="#54be42" points="264.0,544.9 268.6,533.8 273.6,522.8 278.8,511.9 240.3,491.7 234.6,503.5 229.2,515.5 224.0,527.6"/>
<polygon fill="#55be41" points="278.8,511.9 282.2,505.4 285.6,498.8 289.1,492.3 254.9,472.2 251.1,479.2 247.3,486.3 243.7,493.4"/>
<polygon fill="#57bd40" points="289.1,492.3 299.0,475.5 309.5,459.1 320.7,443.2 289.3,419.0 277.1,436.2 265.6,454.0 254.9,472.2"/>
<polygon fill="#59bd3e" points="320.7,443.2 326.5,435.6 332.3,428.0 338.4,420.6 308.5,394.5 301.9,402.5 295.5,410.7 289.3,419.0"/>
<polygon fill="#5bbd3d" points="338.4,420.6 344.9,413.0 351.5,405.5 358.3,398.2 331.7,371.9 324.4,379.8 317.2,387.8 310.2,396.0"/>
<polygon fill="#5cbd3c" points="358.3,398.2 372.0,384.3 386.4,370.9 401.3,358.1 378.2,328.7 362.1,342.5 346.6,356.9 331.7,371.9"/>
<polygon fill="#5ebd3b" points="401.3,358.1 406.7,353.7 412.2,349.4 417.8,345.1 396.1,314.7 390.0,319.3 384.1,323.9 378.2,328.7"/>
<polygon fill="#60bd3a" points="417.8,345.1 428.0,337.7 438.4,330.5 449.0,323.6 430.2,292.2 418.7,299.6 407.5,307.3 396.5,315.3"/>
<polygon fill="#62bd38" points="449.0,323.6 465.9,313.4 483.2,304.0 500.9,295.2 486.0,261.7 467.0,271.1 448.3,281.3 430.2,292.2"/>
<polygon fill="#63bd37" points="500.9,295.2 504.9,293.3 509.0,291.5 513.1,289.7 499.2,255.8 494.8,257.7 490.4,259.7 486.0,261.7"/>
<polygon fill="#65bd36" points="513.1,289.7 527.2,283.8 541.5,278.4 556.0,273.4 546.8,242.7 531.3,248.0 516.0,253.7 500.9,260.0"/>
<polygon fill="#67bd34" points="556.0,273.4 574.9,267.7 594.1,262.7 613.5,258.6 608.2,227.0 587.5,231.4 567.0,236.6 546.8,242.7"/>
<polygon fill="#68bd33" points="613.5,258.6 615.4,258.2 617.2,257.9 619.1,257.5 614.1,225.9 612.2,226.2 610.2,226.6 608.2,227.0"/>
<polygon fill="#6abd32" points="619.1,257.5 636.8,254.7 654.7,252.5 672.7,251.0 671.4,220.9 652.3,222.5 633.3,224.7 614.4,227.8"/>
<polygon fill="#6cbd31" points="672.7,251.0 691.8,250.1 711.0,250.0 730.3,250.7 732.6,220.6 712.2,219.9 691.8,220.0 671.4,220.9"/>
<polygon fill="#6dbc30" points="730.3,250.7 731.0,250.7 731.7,250.8 732.4,250.8 735.0,219.3 734.3,219.2 733.5,219.2 732.7,219.1"/>
<polygon fill="#6fbc2f" points="732.4,250.8 752.4,252.4 772.2,254.8 792.0,258.1 798.5,227.1 777.4,223.6 756.3,221.0 735.0,219.3"/>
<polygon fill="#71bc2d" points="792.0,258.1 808.3,261.4 824.5,265.3 840.6,269.8 850.3,239.6 833.1,234.8 815.9,230.7 798.5,227.1"/>
<polygon fill="#73bc2c" points="840.6,269.8 843.8,270.8 847.0,271.7 850.3,272.8 862.2,238.1 858.7,237.0 855.3,235.9 851.8,234.9"/>
<polygon fill="#74bc2b" points="850.3,272.8 869.3,279.3 888.0,286.5 906.4,294.6 922.6,261.7 902.8,253.0 882.6,245.1 862.2,238.1"/>
<polygon fill="#76bc29" points="906.4,294.6 919.2,300.7 931.7,307.2 944.1,314.1 963.0,282.7 949.7,275.3 936.2,268.3 922.6,261.7"/>
<polygon fill="#78bc28" points="944.1,314.1 949.3,317.1 954.5,320.2 959.6,323.4 979.7,292.7 974.2,289.3 968.6,286.0 963.0,282.7"/>
<polygon fill="#79bc28" points="959.6,323.4 976.5,334.4 993.0,346.2 1009.0,358.6 1032.7,330.7 1015.6,317.3 997.9,304.6 979.7,292.7"/>
<polygon fill="#7abc27" points="1009.0,358.6 1017.8,366.0 1026.5,373.6 1035.0,381.4 1060.7,355.2 1051.6,346.8 1042.2,338.6 1032.7,330.7"/>
<polygon fill="#7bbc27" points="1035.0,381.4 1041.4,387.4 1047.6,393.5 1053.7,399.8 1081.8,374.0 1075.3,367.3 1068.6,360.6 1061.8,354.1"/>
<polygon fill="#7dbc27" points="1053.7,399.8 1067.4,414.8 1080.5,430.3 1093.0,446.4 1124.2,424.3 1110.7,406.9 1096.6,390.2 1081.8,374.0"/>
<polygon fill="#7ebc26" points="1093.0,446.4 1098.3,453.6 1103.4,460.9 1108.4,468.3 1140.7,447.9 1135.3,439.9 1129.8,432.1 1124.2,424.3"/>
<polygon fill="#7fbc26" points="1108.4,468.3 1114.6,477.9 1120.6,487.7 1126.4,497.6 1163.4,477.8 1157.1,467.0 1150.6,456.4 1143.9,445.9"/>
<polygon fill="#81bb26" points="1126.4,497.6 1136.1,515.6 1145.0,534.0 1153.2,552.8 1192.3,537.7 1183.5,517.3 1173.8,497.3 1163.4,477.8"/>
<polygon fill="#82bb26" points="1153.2,552.8 1155.5,558.6 1157.8,564.4 1160.0,570.3 1199.7,556.7 1197.3,550.3 1194.9,544.0 1192.3,537.7"/>
<polygon fill="#83bb25" points="1160.0,570.3 1164.7,583.7 1169.0,597.3 1172.9,611.0 1214.1,600.8 1209.8,585.9 1205.2,571.2 1200.1,556.6"/>
<polygon fill="#84bb25" points="1172.9,611.0 1177.9,630.9 1182.1,651.0 1185.4,671.3 1227.4,666.3 1223.9,644.3 1219.4,622.4 1214.1,600.8"/>
<polygon fill="#85bb25" points="1185.4,671.3 1185.9,674.9 1186.3,678.5 1186.8,682.1 1229.0,678.0 1228.5,674.1 1228.0,670.2 1227.4,666.3"/>
<polygon fill="#86bb24" points="1186.8,682.1 1188.5,699.0 1189.7,715.9 1190.2,733.0 1232.6,733.2 1232.0,714.7 1230.8,696.3 1229.0,678.0"/>
<polygon fill="#88bb24" points="1190.2,733.0 1190.1,753.6 1189.2,774.3 1187.4,794.9 1229.4,800.4 1231.4,778.0 1232.5,755.6 1232.6,733.2"/>
<polygon fill="#89bb24" points="1187.4,794.9 1187.3,795.8 1187.2,796.7 1187.1,797.6 1229.0,803.3 1229.2,802.3 1229.3,801.4 1229.4,800.4"/>
<polygon fill="#8abb23" points="1187.1,797.6 1184.4,817.2 1181.0,836.7 1176.8,856.1 1215.2,866.1 1219.8,845.2 1223.5,824.1 1226.4,803.0"/>
<polygon fill="#8cbb23" points="1176.8,856.1 1172.1,874.5 1166.7,892.7 1160.6,910.6 1197.6,924.9 1204.2,905.5 1210.1,885.9 1215.2,866.1"/>
<polygon fill="#8dbb23" points="1160.6,910.6 1159.9,912.3 1159.3,914.0 1158.7,915.8 1196.6,930.9 1197.3,929.0 1198.0,927.2 1198.7,925.3"/>
<polygon fill="#8ebb23" points="1158.7,915.8 1151.0,935.1 1142.5,954.1 1133.2,972.8 1169.0,992.5 1179.0,972.4 1188.3,951.8 1196.6,930.9"/>
<polygon fill="#90bb22" points="1133.2,972.8 1125.4,987.1 1117.1,1001.2 1108.4,1015.0 1142.1,1038.1 1151.6,1023.2 1160.5,1008.0 1169.0,992.5"/>
<polygon fill="#91ba22" points="1108.4,1015.0 1105.9,1018.8 1103.3,1022.6 1100.7,1026.4 1129.2,1047.1 1131.9,1043.0 1134.7,1039.0 1137.4,1034.9"/>
<polygon fill="#92ba22" points="1100.7,1026.4 1088.5,1043.4 1075.5,1059.8 1061.8,1075.7 1087.4,1099.7 1102.1,1082.7 1116.0,1065.2 1129.2,1047.1"/>
<polygon fill="#93ba21" points="1061.8,1075.7 1052.5,1085.7 1043.0,1095.5 1033.2,1105.0 1056.8,1131.0 1067.3,1120.9 1077.5,1110.4 1087.4,1099.7"/>
<polygon fill="#94ba21" points="1033.2,1105.0 1027.8,1110.1 1022.4,1115.0 1016.9,1119.9 1037.1,1144.2 1043.0,1139.1 1048.8,1133.8 1054.5,1128.5"/>
<polygon fill="#95ba21" points="1016.9,1119.9 1000.7,1133.3 983.9,1146.1 966.7,1158.2 983.7,1184.9 1002.1,1172.1 1019.9,1158.5 1037.1,1144.2"/>
<polygon fill="#97ba20" points="966.7,1158.2 957.5,1164.2 948.2,1170.0 938.8,1175.6 954.1,1203.4 964.1,1197.4 974.0,1191.3 983.7,1184.9"/>
<polygon fill="#98ba20" points="938.8,1175.6 930.0,1180.6 921.0,1185.5 912.0,1190.1 925.7,1219.1 935.4,1214.1 944.9,1209.0 954.3,1203.7"/>
<polygon fill="#99ba20" points="912.0,1190.1 892.8,1199.3 873.4,1207.6 853.5,1215.1 863.6,1245.5 884.7,1237.6 905.4,1228.8 925.7,1219.1"/>
<polygon fill="#99b920" points="853.5,1215.1 845.8,1217.8 838.0,1220.3 830.1,1222.8 838.7,1253.6 847.1,1251.1 855.4,1248.4 863.6,1245.5"/>
<polygon fill="#9ab920" points="830.1,1222.8 817.6,1226.4 805.0,1229.6 792.3,1232.6 797.9,1260.7 811.3,1257.6 824.6,1254.1 837.8,1250.3"/>
<polygon fill="#9ab920" points="792.3,1232.6 771.4,1236.7 750.4,1240.0 729.2,1242.4 731.2,1271.0 753.6,1268.4 775.8,1265.0 797.9,1260.7"/>
<polygon fill="#9bb81f" points="729.2,1242.4 723.8,1242.9 718.4,1243.3 712.9,1243.6 714.0,1272.2 719.8,1271.9 725.5,1271.4 731.2,1271.0"/>
<polygon fill="#9bb81f" points="712.9,1243.6 697.1,1244.3 681.2,1244.6 665.2,1244.3 663.7,1272.5 680.5,1272.8 697.3,1272.6 714.0,1271.9"/>
<polygon fill="#9cb81f" points="665.2,1244.3 643.9,1243.1 622.6,1241.1 601.3,1238.2 596.3,1266.0 618.7,1269.1 641.2,1271.3 663.7,1272.5"/>
<polygon fill="#9db71f" points="601.3,1238.2 598.7,1237.8 596.1,1237.3 593.5,1236.9 588.0,1264.6 590.8,1265.1 593.6,1265.5 596.3,1266.0"/>
<polygon fill="#9db71f" points="593.5,1236.9 575.0,1233.3 556.7,1229.1 538.5,1224.2 530.3,1250.4 549.5,1255.6 568.7,1260.1 588.2,1263.9"/>
<polygon fill="#9eb61f" points="538.5,1224.2 518.2,1217.8 498.0,1210.6 478.2,1202.6 466.9,1227.6 487.7,1236.1 508.9,1243.7 530.3,1250.4"/>
<polygon fill="#9eb61f" points="478.2,1202.6 478.1,1202.5 477.9,1202.5 477.8,1202.4 467.0,1226.0 467.2,1226.1 467.3,1226.2 467.5,1226.2"/>
<polygon fill="#9fb61f" points="477.8,1202.4 458.2,1193.5 438.9,1183.7 420.1,1173.2 406.5,1195.3 426.2,1206.4 446.4,1216.6 467.0,1226.0"/>
<polygon fill="#a0b51e" points="420.1,1173.2 404.2,1163.5 388.7,1153.2 373.5,1142.3 357.6,1162.8 373.5,1174.2 389.8,1185.1 406.5,1195.3"/>
<polygon fill="#a0b51e" points="373.5,1142.3 371.1,1140.5 368.7,1138.7 366.3,1136.9 350.5,1156.5 353.0,1158.5 355.5,1160.4 358.1,1162.2"/>
<polygon fill="#a1b51e" points="366.3,1136.9 349.4,1123.3 333.1,1109.1 317.3,1094.1 299.2,1111.6 315.7,1127.3 332.8,1142.3 350.5,1156.5"/>
<polygon fill="#a1b41e" points="317.3,1094.1 306.2,1082.8 295.5,1071.1 285.1,1059.1 265.4,1075.0 276.3,1087.5 287.6,1099.8 299.2,1111.6"/>
<polygon fill="#a2b41e" points="285.1,1059.1 281.3,1054.6 277.6,1050.1 273.9,1045.5 253.5,1060.8 257.3,1065.7 261.2,1070.5 265.2,1075.2"/>
<polygon fill="#a2b31e" points="273.9,1045.5 260.8,1028.0 248.5,1010.1 236.8,991.6 214.6,1004.4 226.8,1023.7 239.8,1042.6 253.5,1060.8"/>
<polygon fill="#a3b21e" points="236.8,991.6 230.2,980.4 223.9,968.9 217.9,957.3 194.8,968.3 201.1,980.5 207.7,992.5 214.6,1004.4"/>
<polygon fill="#a4b21e" points="217.9,957.3 214.0,949.4 210.2,941.5 206.6,933.5 183.0,943.3 186.8,951.7 190.7,960.1 194.8,968.3"/>
<polygon fill="#a5b11d" points="206.6,933.5 198.2,913.3 190.6,892.7 183.8,871.8 159.2,878.7 166.2,900.6 174.2,922.1 183.0,943.3"/>
<polygon fill="#a5b01d" points="183.8,871.8 180.9,862.0 178.3,852.1 175.8,842.1 150.8,847.5 153.4,858.0 156.2,868.4 159.2,878.7"/>
<polygon fill="#a6af1d" points="175.8,842.1 173.2,830.7 170.9,819.2 168.8,807.7 146.1,811.0 148.3,823.1 150.7,835.1 153.4,847.0"/>
<polygon fill="#a7ae1d" points="168.8,807.7 165.6,785.9 163.3,764.0 161.9,742.0 139.0,742.5 140.4,765.5 142.8,788.3 146.1,811.0"/>
<polygon fill="#a7ad1d" points="161.9,742.0 161.6,734.6 161.4,727.2 161.4,719.8 138.5,719.3 138.5,727.1 138.7,734.8 139.0,742.5"/>
<polygon fill="#a8ac1c" points="161.4,719.8 161.5,705.1 162.1,690.5 163.1,675.8 139.2,673.4 138.2,688.7 137.5,704.0 137.3,719.3"/>
<polygon fill="#a9ab1c" points="163.1,675.8 165.4,653.8 168.6,631.9 172.7,610.1 149.2,604.7 144.9,627.5 141.6,650.4 139.2,673.4"/>
<polygon fill="#aaab1c" points="172.7,610.1 173.6,605.7 174.6,601.2 175.6,596.8 152.3,590.8 151.3,595.4 150.2,600.1 149.2,604.7"/>
<polygon fill="#aaaa1c" points="175.6,596.8 179.9,579.7 184.8,562.7 190.3,545.9 167.7,537.7 162.0,555.2 156.9,573.0 152.3,590.8"/>
<polygon fill="#aba71c" points="190.3,545.9 198.0,525.1 206.5,504.5 215.9,484.3 194.5,473.3 184.7,494.4 175.8,515.8 167.7,537.7"/>
<polygon fill="#aca61b" points="215.9,484.3 216.6,482.8 217.3,481.4 218.0,479.9 196.8,468.7 196.0,470.2 195.2,471.8 194.5,473.3"/>
<polygon fill="#aca51b" points="218.0,479.9 227.6,461.6 238.0,443.7 249.0,426.2 231.3,414.1 219.9,432.3 209.1,450.9 199.1,470.0"/>
<polygon fill="#ada21b" points="249.0,426.2 260.8,408.8 273.4,391.9 286.6,375.5 270.5,361.4 256.8,378.5 243.7,396.0 231.3,414.1"/>
<polygon fill="#aea11b" points="286.6,375.5 287.5,374.5 288.3,373.5 289.1,372.5 273.7,358.8 272.8,359.8 272.0,360.9 271.1,361.9"/>
<polygon fill="#aea01a" points="289.1,372.5 304.0,355.7 319.6,339.5 335.8,324.0 322.2,308.6 305.3,324.6 289.2,341.4 273.7,358.8"/>
<polygon fill="#af9d1a" points="335.8,324.0 349.4,312.0 363.5,300.4 377.9,289.2 365.9,272.5 350.9,284.0 336.3,296.0 322.2,308.6"/>
<polygon fill="#b09c1a" points="377.9,289.2 381.3,286.7 384.8,284.2 388.2,281.7 375.8,263.4 372.2,266.0 368.6,268.6 365.0,271.2"/>
<polygon fill="#b09b19" points="388.2,281.7 406.9,269.0 426.0,257.2 445.7,246.1 435.6,226.4 415.2,237.9 395.2,250.2 375.8,263.4"/>
<polygon fill="#b19819" points="445.7,246.1 459.3,239.0 473.1,232.4 487.1,226.1 478.7,205.6 464.1,212.1 449.8,219.0 435.6,226.4"/>
<polygon fill="#b29719" points="487.1,226.1 493.8,223.2 500.5,220.5 507.3,217.8 497.9,192.0 490.8,194.8 483.7,197.7 476.7,200.6"/>
<polygon fill="#b39519" points="507.3,217.8 528.5,210.1 550.1,203.3 572.0,197.4 565.9,170.6 542.9,176.8 520.3,183.9 497.9,192.0"/>
<polygon fill="#b39418" points="572.0,197.4 584.1,194.6 596.3,192.0 608.5,189.7 604.2,162.5 591.4,164.9 578.6,167.6 565.9,170.6"/>
<polygon fill="#b49218" points="608.5,189.7 618.6,188.0 628.8,186.5 639.0,185.1 636.0,154.8 625.2,156.1 614.5,157.7 603.8,159.5"/>
<polygon fill="#b49118" points="639.0,185.1 661.6,182.9 684.4,181.6 707.1,181.3 707.9,150.8 683.9,151.1 659.9,152.4 636.0,154.8"/>
<polygon fill="#b48f17" points="707.1,181.3 716.6,181.4 726.1,181.7 735.6,182.2 738.0,151.8 727.9,151.3 717.9,150.9 707.9,150.8"/>
<polygon fill="#b48e17" points="735.6,182.2 748.9,183.1 762.2,184.4 775.4,186.0 781.5,145.6 767.3,143.9 753.0,142.5 738.8,141.5"/>
<polygon fill="#b48c16" points="775.4,186.0 798.0,189.4 820.5,193.8 842.7,199.1 853.8,159.8 829.9,154.1 805.8,149.3 781.5,145.6"/>
<polygon fill="#b48a16" points="842.7,199.1 849.0,200.8 855.3,202.5 861.6,204.4 874.0,165.5 867.3,163.5 860.6,161.6 853.8,159.8"/>
<polygon fill="#b48915" points="861.6,204.4 877.2,209.3 892.7,214.7 908.1,220.6 923.6,183.6 907.2,177.3 890.6,171.5 873.8,166.2"/>
<polygon fill="#b48715" points="908.1,220.6 929.2,229.5 950.0,239.3 970.4,250.0 990.4,215.3 968.6,203.8 946.3,193.3 923.6,183.6"/>
<polygon fill="#b48614" points="970.4,250.0 973.4,251.7 976.5,253.5 979.6,255.2 1000.3,220.9 997.0,219.0 993.7,217.2 990.4,215.3"/>
<polygon fill="#b48514" points="979.6,255.2 996.3,265.3 1012.7,275.9 1028.7,287.1 1053.1,254.9 1036.0,242.8 1018.4,231.4 1000.5,220.6"/>
<polygon fill="#b48313" points="1028.7,287.1 1047.0,301.1 1064.9,315.8 1082.0,331.3 1110.3,302.3 1091.9,285.7 1072.8,269.9 1053.1,254.9"/>
<polygon fill="#b48113" points="1082.0,331.3 1082.4,331.6 1082.8,332.0 1083.1,332.3 1111.5,303.4 1111.1,303.1 1110.7,302.7 1110.3,302.3"/>
<polygon fill="#b48013" points="1083.1,332.3 1099.3,348.2 1114.8,364.7 1129.6,381.8 1167.2,351.8 1151.1,333.2 1134.3,315.2 1116.8,298.0"/>
<polygon fill="#b47e12" points="1129.6,381.8 1142.5,398.0 1154.8,414.6 1166.5,431.7 1207.2,406.0 1194.5,387.5 1181.2,369.4 1167.2,351.8"/>
<polygon fill="#b47d12" points="1166.5,431.7 1167.9,433.8 1169.3,435.9 1170.7,438.1 1212.4,412.6 1210.9,410.2 1209.4,407.9 1207.8,405.6"/>
<polygon fill="#b47c11" points="1170.7,438.1 1182.8,457.9 1194.1,478.3 1204.5,499.1 1249.0,479.0 1237.7,456.3 1225.5,434.2 1212.4,412.6"/>
<polygon fill="#b47a10" points="1204.5,499.1 1211.8,515.2 1218.7,531.5 1225.0,548.1 1271.2,532.3 1264.4,514.3 1257.0,496.5 1249.0,479.0"/>
<polygon fill="#b47810" points="1225.0,548.1 1226.9,553.4 1228.7,558.7 1230.5,564.0 1281.2,548.4 1279.3,542.5 1277.3,536.7 1275.2,530.9"/>
<polygon fill="#b47710" points="1230.5,564.0 1237.4,586.3 1243.3,609.0 1248.3,631.8 1300.6,622.6 1295.1,597.6 1288.7,572.8 1281.2,548.4"/>
<polygon fill="#b47510" points="1248.3,631.8 1251.0,646.3 1253.3,660.8 1255.2,675.4 1308.0,670.3 1305.9,654.3 1303.4,638.4 1300.6,622.6"/>
<polygon fill="#b5740f" points="1255.2,675.4 1256.1,684.1 1256.9,692.8 1257.6,701.5 1306.0,699.1 1305.3,689.6 1304.4,680.2 1303.4,670.7"/>
<polygon fill="#b5720f" points="1257.6,701.5 1258.8,725.0 1258.9,748.5 1258.1,772.0 1306.5,775.5 1307.4,750.0 1307.2,724.5 1306.0,699.1"/>
<polygon fill="#b5700f" points="1258.1,772.0 1257.4,783.6 1256.4,795.3 1255.1,806.9 1303.2,813.4 1304.5,800.8 1305.6,788.2 1306.5,775.5"/>
<polygon fill="#b56f0f" points="1255.1,806.9 1253.6,818.7 1251.9,830.4 1249.9,842.1 1294.8,851.1 1297.0,838.5 1298.9,825.8 1300.5,813.1"/>
<polygon fill="#b66d0e" points="1249.9,842.1 1245.2,865.2 1239.6,888.2 1233.0,910.8 1276.4,925.4 1283.6,900.9 1289.7,876.1 1294.8,851.1"/>
<polygon fill="#b66b0e" points="1233.0,910.8 1230.3,919.1 1227.5,927.2 1224.7,935.4 1267.4,951.9 1270.5,943.1 1273.5,934.2 1276.4,925.4"/>
<polygon fill="#b66a0e" points="1224.7,935.4 1219.3,949.4 1213.6,963.3 1207.6,977.1 1246.4,995.8 1253.0,981.0 1259.1,966.0 1264.9,950.9"/>
<polygon fill="#b6680e" points="1207.6,977.1 1197.3,998.5 1186.1,1019.4 1174.0,1039.8 1210.3,1063.2 1223.3,1041.2 1235.3,1018.7 1246.4,995.8"/>
<polygon fill="#b7660d" points="1174.0,1039.8 1171.1,1044.5 1168.1,1049.2 1165.1,1053.9 1200.7,1078.3 1203.9,1073.3 1207.1,1068.2 1210.3,1063.2"/>
<polygon fill="#b7650d" points="1165.1,1053.9 1154.8,1068.9 1144.1,1083.7 1132.9,1098.1 1163.3,1123.5 1175.3,1108.2 1186.8,1092.4 1197.8,1076.3"/>
<polygon fill="#b7630d" points="1132.9,1098.1 1117.6,1116.3 1101.5,1133.9 1084.7,1150.9 1111.7,1179.9 1129.7,1161.8 1146.9,1143.0 1163.3,1123.5"/>
<polygon fill="#b7620d" points="1084.7,1150.9 1082.9,1152.5 1081.2,1154.2 1079.4,1155.9 1106.1,1185.3 1108.0,1183.5 1109.9,1181.7 1111.7,1179.9"/>
<polygon fill="#b7600d" points="1079.4,1155.9 1063.5,1170.3 1047.1,1184.1 1030.2,1197.4 1053.0,1228.9 1071.1,1214.8 1088.6,1200.1 1105.6,1184.7"/>
<polygon fill="#b85e0c" points="1030.2,1197.4 1011.3,1210.9 991.9,1223.7 972.0,1235.8 990.8,1269.9 1012.1,1257.0 1032.8,1243.4 1053.0,1228.9"/>
<polygon fill="#b85d0c" points="972.0,1235.8 971.4,1236.1 970.8,1236.5 970.2,1236.8 988.7,1270.6 989.3,1270.3 990.0,1269.9 990.6,1269.5"/>
<polygon fill="#b85b0c" points="970.2,1236.8 949.1,1248.3 927.6,1258.9 905.6,1268.6 919.8,1304.4 943.2,1294.1 966.2,1282.8 988.7,1270.6"/>
<polygon fill="#b9580c" points="905.6,1268.6 886.8,1276.0 867.8,1282.8 848.6,1288.9 858.9,1326.1 879.4,1319.6 899.7,1312.4 919.8,1304.4"/>
<polygon fill="#b9570b" points="848.6,1288.9 844.9,1290.0 841.1,1291.1 837.4,1292.1 843.9,1317.3 847.8,1316.2 851.6,1315.1 855.5,1313.9"/>
<polygon fill="#ba550b" points="837.4,1292.1 814.1,1298.1 790.5,1303.1 766.6,1307.1 769.9,1332.8 794.8,1328.7 819.5,1323.5 843.9,1317.3"/>
<polygon fill="#ba520b" points="766.6,1307.1 749.7,1309.3 732.7,1311.1 715.6,1312.3 716.6,1338.2 734.4,1336.9 752.2,1335.1 769.9,1332.8"/>
<polygon fill="#bb510b" points="715.6,1312.3 708.5,1312.7 701.5,1312.9 694.4,1313.1 694.5,1339.1 701.9,1338.9 709.2,1338.6 716.6,1338.2"/>
<polygon fill="#bb4e0a" points="694.4,1313.1 670.2,1313.1 646.0,1312.1 621.8,1310.1 618.7,1335.9 643.9,1338.0 669.2,1339.1 694.5,1339.1"/>
<polygon fill="#bc4c0a" points="621.8,1310.1 607.9,1308.5 594.1,1306.6 580.2,1304.3 575.2,1329.8 589.7,1332.2 604.1,1334.2 618.7,1335.9"/>
<polygon fill="#bc4a0a" points="580.2,1304.3 570.1,1302.4 560.0,1300.4 550.0,1298.1 544.6,1319.6 555.0,1321.9 565.5,1324.1 576.0,1326.0"/>
<polygon fill="#bc480a" points="550.0,1298.1 526.4,1292.1 503.1,1285.2 480.0,1277.2 472.0,1297.9 495.9,1306.1 520.1,1313.4 544.6,1319.6"/>
<polygon fill="#bd460a" points="480.0,1277.2 469.9,1273.4 459.8,1269.4 449.8,1265.1 440.6,1285.3 451.0,1289.7 461.5,1293.9 472.0,1297.9"/>
<polygon fill="#bd4409" points="449.8,1265.1 437.4,1259.6 425.2,1253.8 413.1,1247.7 404.9,1262.8 417.4,1269.1 430.0,1275.1 442.7,1280.8"/>
<polygon fill="#be4209" points="413.1,1247.7 391.6,1236.1 370.6,1223.5 350.2,1210.1 340.2,1224.0 361.2,1237.9 382.8,1250.8 404.9,1262.8"/>
<polygon fill="#be4009" points="350.2,1210.1 343.9,1205.7 337.6,1201.2 331.4,1196.6 320.9,1210.2 327.3,1214.9 333.7,1219.5 340.2,1224.0"/>
<polygon fill="#bf3e09" points="331.4,1196.6 318.1,1186.4 305.0,1175.8 292.3,1164.8 281.9,1176.0 295.0,1187.3 308.4,1198.2 322.1,1208.7"/>
<polygon fill="#bf3b08" points="292.3,1164.8 274.3,1148.1 256.9,1130.6 240.3,1112.5 228.7,1122.4 245.7,1141.0 263.5,1158.9 281.9,1176.0"/>
<polygon fill="#c03908" points="240.3,1112.5 237.4,1109.1 234.5,1105.7 231.6,1102.3 219.7,1111.9 222.7,1115.4 225.7,1118.9 228.7,1122.4"/>
<polygon fill="#c03808" points="231.6,1102.3 218.9,1086.6 206.8,1070.5 195.2,1054.1 181.5,1063.0 193.4,1080.0 205.8,1096.5 218.8,1112.6"/>
<polygon fill="#c03608" points="195.2,1054.1 181.8,1033.3 169.3,1012.1 157.6,990.3 142.8,997.5 154.8,1019.9 167.7,1041.7 181.5,1063.0"/>
<polygon fill="#c03408" points="157.6,990.3 157.0,989.2 156.5,988.1 155.9,986.9 141.1,994.0 141.7,995.2 142.3,996.3 142.8,997.5"/>
<polygon fill="#c03308" points="155.9,986.9 145.8,965.7 136.5,944.2 128.1,922.2 109.7,928.5 118.4,951.2 127.9,973.4 138.3,995.3"/>
<polygon fill="#c03108" points="128.1,922.2 120.8,900.6 114.3,878.8 108.7,856.7 89.6,860.8 95.5,883.6 102.2,906.2 109.7,928.5"/>
<polygon fill="#c03008" points="108.7,856.7 108.2,854.7 107.8,852.8 107.3,850.8 86.0,855.2 86.5,857.3 86.9,859.3 87.4,861.3"/>
<polygon fill="#c02e08" points="107.3,850.8 102.4,826.5 98.4,802.0 95.5,777.3 73.8,779.0 76.8,804.6 80.9,830.0 86.0,855.2"/>
<polygon fill="#c02c08" points="95.5,777.3 93.9,757.7 93.0,738.1 92.7,718.5 70.9,718.0 71.2,738.4 72.2,758.7 73.8,779.0"/>
<polygon fill="#c02b08" points="92.7,718.5 92.7,713.2 92.8,707.9 92.9,702.6 71.9,701.7 71.8,707.1 71.7,712.6 71.7,718.0"/>
<polygon fill="#c02a08" points="92.9,702.6 94.1,677.7 96.3,652.8 99.6,628.1 78.9,624.5 75.5,650.1 73.2,675.9 71.9,701.7"/>
<polygon fill="#c02808" points="99.6,628.1 102.3,611.9 105.5,595.7 109.1,579.7 88.8,574.5 85.0,591.1 81.7,607.7 78.9,624.5"/>
<polygon fill="#c02708" points="109.1,579.7 111.1,571.4 113.3,563.0 115.6,554.8 95.5,548.7 93.1,557.2 90.9,565.8 88.8,574.5"/>
<polygon fill="#c02508" points="115.6,554.8 122.9,530.8 131.3,507.1 140.6,483.8 121.4,475.3 111.8,499.4 103.1,523.9 95.5,548.7"/>
<polygon fill="#c02308" points="140.6,483.8 145.9,471.7 151.4,459.8 157.3,447.9 138.7,438.1 132.7,450.4 126.9,462.8 121.4,475.3"/>
<polygon fill="#c02208" points="157.3,447.9 162.7,437.3 168.4,426.8 174.3,416.4 155.0,404.8 148.9,415.5 143.0,426.4 137.3,437.4"/>
<polygon fill="#c02008" points="174.3,416.4 187.4,394.9 201.4,374.0 216.2,353.6 198.5,339.6 183.1,360.7 168.6,382.5 155.0,404.8"/>
<polygon fill="#c01f08" points="216.2,353.6 222.3,345.7 228.5,337.9 234.9,330.3 217.9,315.5 211.3,323.4 204.9,331.5 198.5,339.6"/>
<polygon fill="#c01d08" points="234.9,330.3 244.9,318.7 255.1,307.4 265.7,296.3 247.5,277.8 236.5,289.3 225.7,301.1 215.3,313.2"/>
<polygon fill="#c01b08" points="265.7,296.3 283.8,278.6 302.6,261.7 322.1,245.5 306.3,224.9 286.0,241.7 266.4,259.4 247.5,277.8"/>
<polygon fill="#c01a08" points="322.1,245.5 327.3,241.4 332.6,237.3 337.9,233.3 322.8,212.2 317.3,216.4 311.8,220.6 306.3,224.9"/>
<polygon fill="#c01908" points="337.9,233.3 353.1,222.4 368.6,212.0 384.5,202.0 370.8,178.6 354.2,189.0 338.0,199.9 322.2,211.3"/>
<polygon fill="#c01708" points="384.5,202.0 406.4,189.3 428.9,177.4 451.9,166.5 441.3,141.6 417.2,153.0 393.7,165.3 370.8,178.6"/>
<polygon fill="#c01508" points="451.9,166.5 455.0,165.2 458.0,163.8 461.1,162.5 450.9,137.4 447.6,138.8 444.5,140.2 441.3,141.6"/>
<polygon fill="#c01408" points="461.1,162.5 481.6,154.1 502.4,146.5 523.4,139.6 515.2,111.0 493.1,118.2 471.3,126.2 449.8,134.9"/>
<polygon fill="#c01208" points="523.4,139.6 548.0,132.7 572.8,126.7 597.9,121.8 593.3,92.4 567.0,97.5 540.9,103.7 515.2,111.0"/>
</g>
<g fill="none" stroke="#b2b2b2" stroke-width="1" shape-rendering="crispEdges">
<polyline points="524.4,494.2 531.1,489.1 538.0,484.2 545.1,479.5 552.3,475.1 559.6,470.8 567.1,466.7 574.7,462.9 582.4,459.3 590.2,455.9 598.1,452.7 606.1,449.7 614.2,447.0 622.4,444.5 630.7,442.3 639.0,440.3 647.4,438.5 655.9,437.0 664.4,435.7 672.9,434.7 681.5,433.9 690.1,433.4 698.8,433.1 707.4,433.1 716.1,433.3 724.7,433.8 733.4,434.6 742.0,435.5 750.6,436.8 759.2,438.3 767.7,440.0 776.2,442.0 784.7,444.3 793.1,446.7 801.4,449.5 809.6,452.5 817.8,455.7 825.9,459.1 833.8,462.8 841.7,466.8 849.5,470.9 857.1,475.3 864.6,479.9 872.0,484.8 879.3,489.8 886.4,495.1 893.3,500.6 900.2,506.3 906.8,512.2 913.3,518.3 919.6,524.6 925.7,531.0 931.6,537.7 937.4,544.5 942.9,551.5 948.3,558.7 953.4,566.0 958.4,573.5 963.1,581.1 967.6,588.9 971.9,596.8 975.9,604.9 979.8,613.0 983.3,621.3 986.7,629.7 989.8,638.2 992.6,646.8 995.2,655.4 997.6,664.2 999.7,673.0 1001.5,681.9 1003.1,690.9 1004.5,699.9 1005.5,708.9 1006.3,718.0 1006.9,727.1 1007.1,736.3 1007.1,745.4 1006.9,754.6 1006.3,763.7 1005.5,772.9 1004.5,782.0 1003.2,791.1 1001.6,800.2 999.7,809.2 997.6,818.2 995.2,827.1 992.5,835.9 989.6,844.7 986.5,853.4 983.0,862.0 979.4,870.6 975.4,879.0 971.3,887.3 966.9,895.5 962.2,903.6 957.3,911.5 952.2,919.3 946.8,926.9 941.2,934.4 935.4,941.8 929.4,949.0 923.1,956.0 916.7,962.8 910.0,969.4 903.2,975.9 896.2,982.2 888.9,988.2 881.5,994.1 873.9,999.7 866.2,1005.1 858.3,1010.3 850.2,1015.3 842.0,1020.0 833.6,1024.5 825.1,1028.8 816.5,1032.8 807.8,1036.5 798.9,1040.1 790.0,1043.3 780.9,1046.3 771.7,1049.0 762.5,1051.5 753.2,1053.7 743.8,1055.6 734.3,1057.3 724.8,1058.7 715.3,1059.8 705.7,1060.6 696.1,1061.1 686.4,1061.4 676.8,1061.4 667.1,1061.1 657.5,1060.5 647.8,1059.7 638.2,1058.5 628.6,1057.1 619.1,1055.4 609.6,1053.4 600.1,1051.2 590.7,1048.6 581.4,1045.8 572.1,1042.7 563.0,1039.4 553.9,1035.8 544.9,1031.9 536.1,1027.7 527.3,1023.3 518.7,1018.6 510.2,1013.7 501.8,1008.5 493.6,1003.1 485.6,997.4 477.7,991.5 470.0,985.4 462.4,979.0 455.1,972.5 447.9,965.7 440.9,958.6 434.1,951.4 427.5,944.0 421.2,936.4 415.0,928.6 409.1,920.6 403.4,912.4 398.0,904.1 392.8,895.6 387.8,886.9 383.1,878.1 378.6,869.1 374.4,860.1 370.5,850.9 366.8,841.5 363.4,832.1 360.2,822.5 357.4,812.9 354.8,803.2 352.5,793.3 350.5,783.5 348.8,773.5 347.3,763.5 346.2,753.5 345.3,743.4 344.8,733.3 344.5,723.1 344.6,713.0 344.9,702.8 345.5,692.7 346.4,682.6 347.6,672.4 349.2,662.4 351.0,652.3 353.1,642.3 355.5,632.4 358.1,622.5 361.1,612.7 364.4,603.0 367.9,593.4 371.7,583.8 375.8,574.4 380.2,565.1 384.9,555.9 389.8,546.9 395.0,537.9 400.4,529.2 406.2,520.6 412.1,512.1 418.3,503.8 424.8,495.7 431.5,487.8 438.4,480.1 445.6,472.6 453.0,465.2 460.6,458.1 468.4,451.2 476.4,444.6 484.6,438.1 493.0,431.9 501.6,426.0 510.4,420.2 519.3,414.8 528.4,409.6 537.7,404.6 547.1,400.0 556.6,395.6 566.3,391.4 576.1,387.6 586.0,384.0 596.0,380.8 606.2,377.8 616.4,375.1 626.7,372.7 637.1,370.6 647.5,368.8 658.0,367.3 668.5,366.2 679.1,365.3 689.7,364.7 700.4,364.5 711.0,364.5 721.7,364.9 732.3,365.5 742.9,366.5 753.6,367.8 764.1,369.4 774.7,371.3 785.1,373.5 795.6,376.1 805.9,378.9 816.2,382.0 826.4,385.5 836.5,389.2 846.5,393.2 856.3,397.6 866.1,402.2 875.7,407.1 885.2,412.2 894.5,417.7 903.7,423.4 912.7,429.4 921.6,435.7 930.2,442.2 938.7,449.0 947.0,456.0 955.1,463.3 963.0,470.8 970.6,478.6 978.1,486.6 985.3,494.8 992.3,503.2 999.0,511.8 1005.5,520.6 1011.7,529.6 1017.7,538.8 1023.4,548.2 1028.8,557.7 1034.0,567.4 1038.9,577.3 1043.5,587.3 1047.8,597.4 1051.8,607.7 1055.5,618.1 1058.9,628.6 1062.0,639.2 1064.8,649.9 1067.3,660.7 1069.5,671.6 1071.3,682.5 1072.9,693.5 1074.1,704.5 1075.0,715.6 1075.6,726.7 1075.8,737.9 1075.7,749.0 1075.4,760.2 1074.6,771.3 1073.6,782.4 1072.2,793.6 1070.5,804.6 1068.5,815.6 1066.2,826.6 1063.5,837.5 1060.5,848.3 1057.2,859.1 1053.6,869.7 1049.7,880.3 1045.5,890.7 1040.9,901.1 1036.1,911.3 1031.0,921.3 1025.5,931.2 1019.8,941.0 1013.8,950.6 1007.5,960.0 1000.9,969.3 994.1,978.3 987.0,987.2 979.6,995.8 972.0,1004.3 964.1,1012.5 956.0,1020.5 947.6,1028.3 939.1,1035.8 930.3,1043.1 921.2,1050.1 912.0,1056.9 902.6,1063.4 893.0,1069.6 883.2,1075.6 873.2,1081.2 863.0,1086.6 852.7,1091.7 842.2,1096.5 831.6,1101.0 820.9,1105.2 810.0,1109.0 799.0,1112.6 787.9,1115.8 776.7,1118.7 765.5,1121.3 754.1,1123.5 742.7,1125.5 731.2,1127.1 719.6,1128.3 708.1,1129.3 696.4,1129.8 684.8,1130.1 673.2,1130.0 661.5,1129.6 649.9,1128.8 638.2,1127.7 626.6,1126.2 615.1,1124.5 603.6,1122.3 592.1,1119.9 580.7,1117.1 569.4,1114.0 558.2,1110.5 547.1,1106.7 536.1,1102.6 525.2,1098.2 514.4,1093.4 503.8,1088.4 493.3,1083.0 482.9,1077.3 472.7,1071.3 462.7,1065.0 452.9,1058.4 443.3,1051.6 433.8,1044.4 424.6,1037.0 415.5,1029.3 406.7,1021.3 398.1,1013.1 389.8,1004.6 381.7,995.8 373.9,986.9 366.3,977.7 359.0,968.3 351.9,958.6 345.1,948.8 338.6,938.7 332.4,928.5 326.5,918.0 320.9,907.4 315.7,896.7 310.7,885.7 306.0,874.7 301.7,863.5 297.6,852.1 294.0,840.6 290.6,829.1 287.6,817.4 284.9,805.6 282.6,793.8 280.6,781.8 278.9,769.8 277.6,757.8 276.7,745.7 276.1,733.6 275.8,721.5 275.9,709.3 276.4,697.2 277.2,685.0 278.4,672.9 279.9,660.8 281.8,648.8 284.0,636.8 286.6,624.9 289.5,613.0 292.8,601.2 296.4,589.5 300.4,577.9 304.7,566.4 309.3,555.1 314.3,543.9 319.6,532.8 325.2,521.8 331.2,511.1 337.4,500.5 344.0,490.0 350.9,479.8 358.0,469.8 365.5,459.9 373.3,450.3 381.3,440.9 389.6,431.7 398.2,422.8 407.0,414.1 416.2,405.7 425.5,397.5 435.1,389.6 444.9,382.0 455.0,374.7 465.3,367.6 475.7,360.9 486.4,354.5 497.3,348.3 508.3,342.5 519.6,337.0 530.9,331.8 542.5,327.0 554.2,322.5 566.0,318.3 577.9,314.5 590.0,311.0 602.2,307.9 614.4,305.1 626.8,302.7 639.2,300.6 651.7,298.9 664.2,297.6 676.8,296.6 689.4,296.0 702.1,295.8 714.7,295.9 727.3,296.4 740.0,297.3 752.6,298.5 765.2,300.1 777.7,302.1 790.2,304.4 802.6,307.1 815.0,310.2 827.2,313.6 839.4,317.4 851.5,321.5 863.4,326.0 875.2,330.8 886.9,336.0 898.4,341.5 909.8,347.4 921.0,353.6 932.0,360.1 942.9,367.0 953.5,374.1 963.9,381.6 974.2,389.4 984.2,397.5 993.9,405.9 1003.5,414.5 1012.7,423.5 1021.8,432.7 1030.5,442.2 1039.0,451.9 1047.2,461.9 1055.1,472.1 1062.7,482.6 1070.0,493.3 1077.0,504.2 1083.7,515.3 1090.1,526.6 1096.1,538.1 1101.8,549.8 1107.2,561.6 1112.2,573.6 1116.9,585.8 1121.2,598.1 1125.2,610.5 1128.8,623.1 1132.0,635.7 1134.9,648.5 1137.4,661.3 1139.5,674.2 1141.3,687.2 1142.7,700.3 1143.7,713.3 1144.3,726.5 1144.5,739.6 1144.4,752.7 1143.8,765.9 1142.9,779.0 1141.6,792.1 1139.9,805.2 1137.9,818.2 1135.4,831.2 1132.6,844.1 1129.4,856.9 1125.8,869.7 1121.9,882.3 1117.6,894.8 1112.9,907.2 1107.9,919.5 1102.5,931.6 1096.7,943.6 1090.6,955.4 1084.2,967.1 1077.4,978.5 1070.2,989.8 1062.8,1000.8 1055.0,1011.7 1046.9,1022.3 1038.5,1032.6 1029.8,1042.8 1020.8,1052.7 1011.5,1062.3 1001.9,1071.7 992.0,1080.7 981.9,1089.5 971.5,1098.0 960.9,1106.2 950.0,1114.1 938.9,1121.7 927.6,1129.0 916.0,1135.9 904.3,1142.5 892.3,1148.8 880.2,1154.7 867.9,1160.2 855.4,1165.4 842.8,1170.3 830.0,1174.8 817.1,1178.9 804.0,1182.6 790.9,1185.9 777.7,1188.9 764.3,1191.5 750.9,1193.7 737.4,1195.5 723.9,1196.9 710.3,1197.9 696.7,1198.5 683.1,1198.8 669.4,1198.6 655.8,1198.0 642.2,1197.1 628.5,1195.7 615.0,1194.0 601.5,1191.8 588.0,1189.3 574.6,1186.3 561.3,1183.0 548.1,1179.3 535.0,1175.2 522.0,1170.7 509.1,1165.8 496.4,1160.6 483.8,1154.9 471.4,1149.0 459.1,1142.6 447.1,1135.9 435.2,1128.8 423.5,1121.4 412.1,1113.7 400.8,1105.6 389.8,1097.2 379.1,1088.5 368.6,1079.4 358.3,1070.1 348.3,1060.4 338.6,1050.4 329.2,1040.2 320.1,1029.7 311.3,1018.9 302.8,1007.9 294.6,996.6 286.8,985.1 279.3,973.3 272.1,961.3 265.3,949.1 258.8,936.7 252.7,924.1 246.9,911.3 241.5,898.4 236.5,885.3 231.9,872.1 227.7,858.7 223.8,845.2 220.3,831.5 217.3,817.8 214.6,804.0 212.4,790.1 210.5,776.1 209.0,762.0 208.0,748.0 207.4,733.9 207.2,719.7 207.3,705.6 207.9,691.4 209.0,677.3 210.4,663.2 212.2,649.1 214.5,635.1 217.1,621.2 220.2,607.3 223.6,593.5 227.5,579.8 231.8,566.2 236.5,552.8 241.5,539.5 247.0,526.3 252.8,513.2 259.0,500.4 265.6,487.7 272.6,475.2 279.9,462.9 287.6,450.8 295.6,439.0 304.0,427.3 312.7,415.9 321.8,404.8 331.2,393.9 340.9,383.3 350.9,373.0 361.2,362.9 371.8,353.2 382.7,343.8 393.9,334.7 405.3,325.9 417.0,317.4 429.0,309.3 441.2,301.5 453.6,294.1 466.2,287.0 479.1,280.3 492.1,274.0 505.4,268.1 518.8,262.5 532.3,257.3 546.1,252.6 559.9,248.2 573.9,244.2 588.1,240.6 602.3,237.5 616.6,234.7 631.0,232.4 645.5,230.5 660.0,229.0 674.6,227.9 689.2,227.3 703.8,227.1 718.5,227.3 733.1,227.9 747.7,229.0 762.3,230.5 776.9,232.4 791.4,234.7 805.8,237.5 820.2,240.7 834.5,244.3 848.6,248.3 862.7,252.7 876.6,257.6 890.4,262.8 904.1,268.5 917.5,274.5 930.8,281.0 944.0,287.8 956.9,295.0 969.6,302.6 982.1,310.6 994.4,318.9 1006.4,327.6 1018.2,336.6 1029.7,346.0 1040.9,355.7 1051.9,365.8 1062.6,376.2 1073.0,386.8 1083.0,397.8 1092.8,409.1 1102.2,420.7 1111.3,432.5 1120.0,444.7 1128.4,457.0 1136.4,469.7 1144.1,482.5 1151.4,495.6 1158.3,508.9 1164.8,522.4 1171.0,536.1 1176.7,550.0 1182.1,564.0 1187.0,578.2 1191.5,592.6 1195.6,607.0 1199.3,621.6 1202.5,636.4 1205.4,651.2 1207.8,666.1 1209.7,681.0 1211.2,696.1 1212.3,711.1 1213.0,726.3 1213.2,741.4 1213.0,756.5 1212.3,771.7 1211.2,786.8 1209.6,801.9 1207.6,816.9 1205.2,831.9 1202.3,846.9 1199.0,861.7 1195.3,876.5 1191.1,891.1 1186.5,905.6 1181.5,920.0 1176.1,934.3 1170.2,948.4 1163.9,962.3 1157.3,976.1 1150.2,989.6 1142.7,1003.0 1134.9,1016.1 1126.6,1029.0 1118.0,1041.7 1109.0,1054.1 1099.7,1066.3 1089.9,1078.2 1079.9,1089.8 1069.5,1101.1 1058.8,1112.1 1047.7,1122.9 1036.3,1133.3 1024.7,1143.3 1012.7,1153.0 1000.4,1162.4 987.9,1171.4 975.1,1180.1 962.1,1188.4 948.8,1196.3 935.2,1203.8 921.5,1211.0 907.5,1217.7 893.4,1224.0 879.1,1230.0 864.5,1235.5 849.9,1240.5 835.0,1245.2 820.1,1249.4 805.0,1253.2 789.8,1256.5 774.5,1259.5 759.1,1261.9 743.6,1263.9 728.1,1265.5 712.5,1266.6 696.9,1267.3 681.2,1267.5 665.6,1267.2 650.0,1266.5 634.3,1265.3 618.8,1263.7 603.2,1261.7 587.7,1259.1 572.3,1256.1 557.0,1252.7 541.7,1248.9 526.6,1244.5 511.6,1239.8 496.8,1234.6 482.0,1229.0 467.5,1222.9 453.1,1216.4 438.9,1209.5 424.9,1202.2 411.1,1194.5 397.6,1186.3 384.3,1177.8 371.2,1168.9 358.4,1159.6 345.8,1149.9 333.5,1139.9 321.5,1129.5 309.9,1118.8 298.5,1107.7 287.4,1096.2 276.7,1084.5 266.3,1072.4 256.3,1060.1 246.6,1047.4 237.3,1034.5 228.4,1021.3 219.8,1007.8 211.7,994.1 203.9,980.1 196.6,965.9 189.6,951.5 183.1,936.9 177.0,922.1 171.4,907.1 166.1,891.9 161.3,876.6 157.0,861.1 153.1,845.6 149.6,829.9 146.7,814.1 144.1,798.2 142.1,782.2 140.5,766.2 139.3,750.1 138.7,734.0 138.5,717.9 138.7,701.7 139.5,685.6 140.7,669.5 142.4,653.4 144.5,637.4 147.1,621.4 150.2,605.5 153.8,589.7 157.8,573.9 162.3,558.3 167.2,542.9 172.5,527.5 178.4,512.4 184.6,497.4 191.3,482.5 198.5,467.9 206.0,453.5 214.0,439.2 222.4,425.3 231.2,411.5 240.4,398.0 250.0,384.8 260.0,371.9 270.4,359.2 281.1,346.9 292.2,334.8 303.6,323.1 315.4,311.7 327.5,300.7 340.0,290.0 352.8,279.6 365.8,269.7 379.2,260.1 392.8,250.9 406.7,242.1 420.9,233.7 435.3,225.7 449.9,218.1 464.8,211.0 479.9,204.3 495.1,198.0 510.6,192.2 526.2,186.8 542.0,181.8 558.0,177.4 574.0,173.4 590.2,169.8 606.5,166.8 622.9,164.2 639.4,162.1 655.9,160.4 672.5,159.3 689.1,158.6 705.7,158.4 722.3,158.7 739.0,159.5 755.6,160.7 772.2,162.5 788.7,164.7 805.2,167.4 821.6,170.6 837.9,174.3 854.1,178.4 870.1,183.0 886.1,188.1 901.9,193.7 917.5,199.7 933.0,206.1 948.3,213.1 963.3,220.4 978.2,228.2 992.9,236.5 1007.3,245.1 1021.4,254.2 1035.3,263.7 1048.9,273.6 1062.3,283.9 1075.3,294.6 1088.0,305.7 1100.4,317.1 1112.5,328.9 1124.2,341.1 1135.6,353.6 1146.6,366.4 1157.2,379.6 1167.5,393.0 1177.4,406.8 1186.8,420.9 1195.9,435.2 1204.5,449.8 1212.8,464.7 1220.5,479.8 1227.9,495.1 1234.8,510.6 1241.3,526.4 1247.2,542.3 1252.8,558.4 1257.8,574.7 1262.4,591.1 1266.5,607.6 1270.2,624.3 1273.3,641.1 1276.0,658.0 1278.2,674.9 1279.8,692.0 1281.0,709.0 1281.7,726.2 1281.9,743.3 1281.6,760.4 1280.7,777.6 1279.4,794.7 1277.6,811.7 1275.3,828.8 1272.5,845.7 1269.2,862.6 1265.4,879.4 1261.1,896.1 1256.4,912.6 1251.1,929.0 1245.4,945.3 1239.2,961.4 1232.5,977.3 1225.4,993.1 1217.8,1008.6 1209.8,1023.9 1201.3,1039.0 1192.3,1053.8 1183.0,1068.4 1173.2,1082.7 1163.0,1096.7 1152.3,1110.4 1141.3,1123.8 1129.9,1136.9 1118.1,1149.6 1106.0,1162.1 1093.4,1174.1 1080.6,1185.8 1067.3,1197.2 1053.8,1208.1 1039.9,1218.7 1025.7,1228.8 1011.3,1238.5 996.5,1247.9 981.5,1256.7 966.2,1265.2 950.6,1273.2 934.8,1280.8 918.8,1287.9 902.6,1294.5 886.2,1300.6 869.6,1306.3 852.9,1311.5 836.0,1316.2 818.9,1320.5 801.8,1324.2 784.5,1327.4 767.1,1330.1 749.7,1332.4 732.1,1334.1 714.6,1335.3 697.0,1336.0 679.3,1336.1 661.7,1335.8 644.1,1335.0 626.4,1333.6 608.9,1331.7 591.4,1329.3 573.9,1326.4 556.5,1323.0 539.3,1319.1 522.1,1314.7 505.1,1309.8 488.2,1304.4 471.5,1298.5 454.9,1292.1 438.5,1285.2 422.3,1277.8 406.4,1270.0 390.6,1261.7 375.1,1253.0 359.9,1243.8 344.9,1234.1 330.2,1224.1 315.8,1213.5 301.7,1202.6 287.9,1191.3 274.4,1179.5 261.3,1167.4 248.5,1154.9 236.1,1142.0 224.1,1128.7 212.5,1115.1 201.2,1101.2 190.4,1086.9 179.9,1072.3 169.9,1057.4 160.4,1042.2 151.2,1026.7 142.6,1011.0 134.3,995.0 126.6,978.7 119.3,962.3 112.5,945.6 106.1,928.7 100.3,911.7 95.0,894.4 90.1,877.1 85.8,859.5 82.0,841.9 78.7,824.1 75.9,806.2 73.6,788.3 71.9,770.2 70.7,752.2 70.0,734.1 69.8,715.9 70.1,697.8 71.0,679.7 72.4,661.6 74.4,643.5 76.9,625.5 79.8,607.5 83.4,589.7 87.4,571.9 91.9,554.3 97.0,536.8 102.6,519.4 108.7,502.2 115.3,485.2 122.3,468.4 129.9,451.7 138.0,435.3 146.5,419.1 155.5,403.2 165.0,387.5 174.9,372.2 185.3,357.0 196.1,342.2 207.3,327.7 219.0,313.6 231.1,299.7 243.6,286.3 256.4,273.2 269.7,260.4 283.3,248.1 297.3,236.1 311.7,224.5 326.4,213.4 341.4,202.7 356.7,192.4 372.3,182.6 388.2,173.2 404.4,164.3 420.9,155.9 437.5,147.9 454.5,140.4 471.6,133.4 489.0,126.9 506.5,121.0 524.2,115.5 542.1,110.5 560.1,106.1 578.3,102.2"/>
<polyline points="511.0,475.5 518.3,470.1 525.8,464.8 533.4,459.8 541.2,455.0 549.1,450.4 557.2,446.1 565.4,442.0 573.7,438.1 582.1,434.4 590.7,431.0 599.3,427.9 608.1,425.0 616.9,422.3 625.8,419.9 634.8,417.8 643.9,415.9 653.0,414.3 662.2,413.0 671.4,411.9 680.6,411.1 689.9,410.5 699.2,410.2 708.5,410.2 717.9,410.5 727.2,411.1 736.5,411.9 745.8,413.0 755.0,414.3 764.3,415.9 773.5,417.8 782.6,420.0 791.7,422.4 800.7,425.1 809.6,428.1 818.5,431.3 827.3,434.8 835.9,438.6 844.5,442.6 853.0,446.8 861.3,451.3 869.5,456.1 877.6,461.1 885.5,466.3 893.3,471.7 900.9,477.4 908.4,483.3 915.7,489.5 922.8,495.8 929.8,502.4 936.5,509.2 943.1,516.1 949.5,523.3 955.6,530.7 961.6,538.2 967.3,545.9 972.8,553.8 978.1,561.9 983.2,570.1 988.0,578.4 992.5,586.9 996.9,595.6 1001.0,604.4 1004.8,613.3 1008.3,622.3 1011.7,631.4 1014.7,640.6 1017.5,649.9 1020.0,659.3 1022.2,668.8 1024.2,678.4 1025.8,688.0 1027.2,697.7 1028.4,707.4 1029.2,717.1 1029.8,726.9 1030.0,736.7 1030.0,746.5 1029.7,756.4 1029.1,766.2 1028.2,776.0 1027.1,785.8 1025.6,795.5 1023.9,805.2 1021.9,814.9 1019.6,824.5 1017.0,834.1 1014.1,843.6 1011.0,853.0 1007.6,862.3 1003.9,871.5 999.9,880.6 995.7,889.7 991.2,898.6 986.5,907.3 981.4,916.0 976.2,924.4 970.7,932.8 964.9,941.0 958.9,949.0 952.7,956.8 946.2,964.5 939.5,972.0 932.6,979.3 925.4,986.4 918.1,993.3 910.5,1000.0 902.8,1006.4 894.8,1012.7 886.7,1018.7 878.4,1024.5 869.9,1030.0 861.3,1035.3 852.5,1040.4 843.5,1045.2 834.4,1049.7 825.2,1054.0 815.8,1058.0 806.3,1061.7 796.7,1065.2 787.0,1068.4 777.2,1071.3 767.3,1073.9 757.4,1076.2 747.3,1078.2 737.2,1080.0 727.0,1081.4 716.8,1082.6 706.6,1083.5 696.3,1084.0 686.0,1084.3 675.7,1084.3 665.3,1083.9 655.0,1083.3 644.7,1082.3 634.5,1081.1 624.2,1079.6 614.0,1077.7 603.8,1075.6 593.7,1073.2 583.7,1070.4 573.8,1067.4 563.9,1064.1 554.1,1060.5 544.4,1056.6 534.8,1052.4 525.4,1048.0 516.0,1043.2 506.8,1038.2 497.8,1032.9 488.9,1027.4 480.1,1021.6 471.6,1015.5 463.1,1009.2 454.9,1002.7 446.9,995.8 439.0,988.8 431.4,981.5 423.9,974.0 416.7,966.3 409.7,958.4 402.9,950.2 396.4,941.9 390.1,933.3 384.0,924.6 378.2,915.7 372.7,906.6 367.4,897.4 362.4,888.0 357.7,878.4 353.2,868.7 349.0,858.9 345.1,848.9 341.5,838.8 338.2,828.7 335.1,818.4 332.4,808.0 330.0,797.5 327.9,787.0 326.1,776.4 324.5,765.7 323.3,755.0 322.5,744.3 321.9,733.5 321.6,722.7 321.7,711.9 322.1,701.0 322.7,690.2 323.7,679.4 325.1,668.7 326.7,657.9 328.6,647.2 330.9,636.6 333.5,626.0 336.3,615.5 339.5,605.1 343.0,594.7 346.8,584.5 350.9,574.3 355.3,564.3 360.0,554.4 364.9,544.6 370.2,535.0 375.7,525.5 381.6,516.2 387.7,507.1 394.0,498.1 400.7,489.3 407.6,480.7 414.7,472.2 422.1,464.0 429.7,456.0 437.6,448.3 445.7,440.7 454.0,433.4 462.6,426.3 471.3,419.5 480.3,412.9 489.4,406.6 498.7,400.5 508.3,394.7 517.9,389.2 527.8,384.0 537.8,379.0 548.0,374.4 558.3,370.0 568.7,365.9 579.2,362.2 589.9,358.7 600.7,355.6 611.5,352.7 622.5,350.2 633.5,348.0 644.6,346.1 655.8,344.5 667.0,343.3 678.2,342.4 689.5,341.8 700.8,341.6 712.1,341.6 723.5,342.0 734.8,342.8 746.1,343.8 757.3,345.2 768.6,347.0 779.7,349.0 790.9,351.4 801.9,354.1 812.9,357.1 823.8,360.4 834.6,364.1 845.3,368.1 855.9,372.4 866.4,377.0 876.8,381.9 887.0,387.1 897.0,392.6 906.9,398.5 916.7,404.6 926.2,410.9 935.6,417.6 944.8,424.6 953.8,431.8 962.6,439.2 971.1,447.0 979.5,455.0 987.6,463.2 995.5,471.7 1003.1,480.4 1010.5,489.3 1017.6,498.5 1024.5,507.8 1031.1,517.4 1037.4,527.2 1043.5,537.1 1049.2,547.3 1054.7,557.6 1059.8,568.0 1064.7,578.6 1069.2,589.4 1073.4,600.3 1077.4,611.3 1081.0,622.5 1084.2,633.7 1087.2,645.1 1089.8,656.5 1092.1,668.1 1094.0,679.7 1095.7,691.3 1096.9,703.0 1097.9,714.8 1098.5,726.5 1098.7,738.3 1098.6,750.2 1098.2,762.0 1097.4,773.8 1096.3,785.6 1094.8,797.3 1093.0,809.0 1090.8,820.7 1088.3,832.3 1085.5,843.9 1082.3,855.3 1078.8,866.7 1075.0,878.0 1070.8,889.2 1066.3,900.2 1061.5,911.2 1056.3,921.9 1050.9,932.6 1045.1,943.1 1039.0,953.4 1032.7,963.6 1026.0,973.5 1019.0,983.3 1011.8,992.9 1004.2,1002.3 996.4,1011.4 988.3,1020.3 980.0,1029.0 971.4,1037.5 962.5,1045.7 953.4,1053.7 944.1,1061.3 934.5,1068.8 924.8,1075.9 914.8,1082.8 904.6,1089.4 894.2,1095.6 883.6,1101.6 872.9,1107.3 862.0,1112.7 850.9,1117.7 839.6,1122.4 828.3,1126.8 816.8,1130.9 805.1,1134.6 793.4,1138.0 781.6,1141.1 769.6,1143.8 757.6,1146.2 745.5,1148.2 733.4,1149.9 721.2,1151.2 708.9,1152.1 696.6,1152.7 684.3,1153.0 672.0,1152.9 659.7,1152.4 647.4,1151.6 635.1,1150.4 622.9,1148.8 610.7,1146.9 598.5,1144.7 586.4,1142.0 574.4,1139.1 562.4,1135.8 550.6,1132.1 538.8,1128.1 527.2,1123.7 515.7,1119.0 504.3,1114.0 493.1,1108.6 482.0,1102.9 471.1,1096.9 460.3,1090.5 449.8,1083.9 439.4,1076.9 429.2,1069.6 419.2,1062.1 409.5,1054.2 400.0,1046.1 390.7,1037.6 381.6,1028.9 372.8,1019.9 364.3,1010.7 356.0,1001.2 348.0,991.5 340.3,981.6 332.9,971.4 325.7,961.0 318.9,950.3 312.4,939.5 306.2,928.5 300.3,917.3 294.7,905.9 289.5,894.4 284.6,882.7 280.0,870.8 275.8,858.9 271.9,846.8 268.4,834.5 265.2,822.2 262.4,809.8 259.9,797.3 257.8,784.7 256.1,772.0 254.8,759.3 253.8,746.6 253.2,733.8 252.9,721.0 253.1,708.2 253.6,695.4 254.5,682.6 255.7,669.8 257.3,657.1 259.3,644.3 261.7,631.7 264.4,619.1 267.5,606.6 271.0,594.2 274.8,581.9 279.0,569.6 283.6,557.6 288.5,545.6 293.7,533.8 299.3,522.1 305.3,510.6 311.6,499.2 318.2,488.0 325.1,477.1 332.4,466.3 339.9,455.7 347.8,445.3 356.0,435.2 364.5,425.3 373.3,415.7 382.3,406.3 391.7,397.1 401.3,388.3 411.2,379.7 421.3,371.4 431.6,363.4 442.2,355.7 453.1,348.3 464.1,341.2 475.4,334.4 486.8,327.9 498.5,321.8 510.3,316.1 522.3,310.6 534.5,305.5 546.8,300.8 559.2,296.4 571.8,292.4 584.5,288.8 597.4,285.5 610.3,282.6 623.3,280.1 636.4,277.9 649.5,276.1 662.7,274.7 675.9,273.7 689.2,273.1 702.5,272.9 715.8,273.0 729.2,273.6 742.5,274.5 755.7,275.8 769.0,277.5 782.2,279.6 795.3,282.1 808.4,284.9 821.4,288.2 834.3,291.8 847.0,295.8 859.7,300.2 872.3,304.9 884.7,310.0 897.0,315.5 909.1,321.3 921.1,327.5 932.9,334.0 944.4,340.9 955.8,348.1 967.0,355.7 978.0,363.5 988.7,371.7 999.3,380.2 1009.5,389.1 1019.5,398.2 1029.3,407.6 1038.7,417.3 1047.9,427.3 1056.8,437.6 1065.5,448.1 1073.8,458.8 1081.8,469.9 1089.4,481.1 1096.8,492.6 1103.8,504.3 1110.5,516.2 1116.8,528.3 1122.8,540.5 1128.4,553.0 1133.7,565.6 1138.6,578.4 1143.1,591.4 1147.3,604.4 1151.0,617.6 1154.4,630.9 1157.4,644.3 1160.0,657.8 1162.3,671.4 1164.1,685.0 1165.5,698.7 1166.5,712.5 1167.2,726.3 1167.4,740.1 1167.2,753.9 1166.7,767.7 1165.7,781.5 1164.3,795.3 1162.5,809.0 1160.3,822.7 1157.8,836.3 1154.8,849.9 1151.4,863.3 1147.6,876.7 1143.5,890.0 1138.9,903.1 1134.0,916.1 1128.7,929.0 1123.0,941.8 1117.0,954.3 1110.5,966.7 1103.7,978.9 1096.6,990.9 1089.1,1002.7 1081.3,1014.3 1073.1,1025.7 1064.6,1036.8 1055.7,1047.7 1046.6,1058.4 1037.1,1068.7 1027.3,1078.8 1017.2,1088.6 1006.9,1098.2 996.2,1107.4 985.3,1116.3 974.2,1124.9 962.7,1133.2 951.1,1141.1 939.2,1148.7 927.0,1156.0 914.7,1162.9 902.1,1169.5 889.4,1175.6 876.5,1181.5 863.4,1186.9 850.1,1192.0 836.7,1196.6 823.2,1200.9 809.5,1204.8 795.7,1208.3 781.8,1211.4 767.8,1214.1 753.7,1216.4 739.6,1218.3 725.4,1219.8 711.2,1220.8 696.9,1221.4 682.6,1221.7 668.3,1221.5 654.0,1220.9 639.7,1219.8 625.4,1218.4 611.2,1216.5 597.0,1214.3 582.9,1211.6 568.9,1208.5 554.9,1205.0 541.0,1201.1 527.3,1196.7 513.7,1192.0 500.2,1186.9 486.9,1181.4 473.7,1175.5 460.7,1169.2 447.8,1162.5 435.2,1155.5 422.8,1148.1 410.5,1140.3 398.5,1132.2 386.8,1123.7 375.3,1114.9 364.0,1105.7 353.0,1096.2 342.3,1086.4 331.8,1076.2 321.7,1065.8 311.8,1055.1 302.3,1044.0 293.1,1032.7 284.2,1021.2 275.6,1009.3 267.4,997.2 259.5,984.9 252.0,972.3 244.9,959.5 238.1,946.5 231.7,933.4 225.7,920.0 220.1,906.4 214.8,892.7 210.0,878.8 205.6,864.8 201.6,850.6 198.0,836.3 194.8,821.9 192.0,807.5 189.6,792.9 187.7,778.3 186.2,763.6 185.1,748.8 184.5,734.0 184.3,719.2 184.5,704.4 185.1,689.6 186.2,674.8 187.7,660.1 189.6,645.3 192.0,630.7 194.8,616.1 198.0,601.6 201.7,587.1 205.7,572.8 210.2,558.6 215.1,544.5 220.4,530.5 226.1,516.7 232.2,503.1 238.8,489.7 245.7,476.4 253.0,463.3 260.6,450.5 268.7,437.8 277.1,425.4 285.9,413.3 295.1,401.3 304.5,389.7 314.4,378.3 324.5,367.2 335.0,356.4 345.8,346.0 357.0,335.8 368.4,325.9 380.1,316.4 392.1,307.2 404.3,298.4 416.8,289.9 429.6,281.8 442.6,274.0 455.8,266.6 469.3,259.7 482.9,253.1 496.7,246.8 510.8,241.0 525.0,235.7 539.3,230.7 553.8,226.1 568.5,222.0 583.3,218.2 598.1,215.0 613.1,212.1 628.2,209.7 643.3,207.7 658.5,206.2 673.7,205.1 689.0,204.4 704.3,204.2 719.6,204.4 734.9,205.1 750.2,206.2 765.5,207.8 780.7,209.8 795.9,212.3 810.9,215.2 826.0,218.5 840.9,222.3 855.7,226.5 870.4,231.2 884.9,236.2 899.3,241.7 913.6,247.6 927.7,254.0 941.6,260.7 955.3,267.9 968.8,275.4 982.0,283.4 995.1,291.7 1007.9,300.4 1020.5,309.5 1032.8,319.0 1044.8,328.8 1056.5,339.0 1068.0,349.5 1079.1,360.3 1089.9,371.5 1100.5,383.0 1110.6,394.8 1120.5,406.9 1129.9,419.3 1139.1,431.9 1147.8,444.9 1156.2,458.1 1164.2,471.5 1171.8,485.2 1179.0,499.1 1185.8,513.2 1192.2,527.5 1198.2,542.0 1203.7,556.6 1208.9,571.5 1213.6,586.5 1217.8,601.6 1221.7,616.8 1225.1,632.2 1228.0,647.7 1230.5,663.2 1232.5,678.9 1234.1,694.6 1235.2,710.3 1235.9,726.1 1236.1,741.9 1235.8,757.7 1235.1,773.5 1233.9,789.3 1232.3,805.0 1230.2,820.7 1227.7,836.4 1224.6,852.0 1221.2,867.5 1217.3,882.9 1212.9,898.1 1208.1,913.3 1202.9,928.3 1197.2,943.2 1191.0,957.9 1184.5,972.4 1177.5,986.8 1170.1,1000.9 1162.3,1014.8 1154.1,1028.6 1145.5,1042.0 1136.5,1055.2 1127.1,1068.2 1117.3,1080.9 1107.2,1093.3 1096.7,1105.4 1085.8,1117.2 1074.6,1128.7 1063.0,1139.9 1051.2,1150.7 1039.0,1161.2 1026.5,1171.3 1013.7,1181.1 1000.6,1190.5 987.3,1199.5 973.7,1208.1 959.8,1216.4 945.7,1224.2 931.3,1231.7 916.8,1238.7 902.0,1245.3 887.0,1251.4 871.9,1257.1 856.6,1262.4 841.1,1267.3 825.5,1271.7 809.8,1275.6 793.9,1279.1 777.9,1282.1 761.9,1284.6 745.8,1286.7 729.6,1288.3 713.3,1289.5 697.0,1290.2 680.7,1290.4 664.4,1290.1 648.1,1289.3 631.9,1288.1 615.6,1286.4 599.4,1284.2 583.3,1281.6 567.2,1278.5 551.2,1274.9 535.3,1270.8 519.6,1266.3 503.9,1261.4 488.5,1255.9 473.1,1250.0 458.0,1243.7 443.0,1237.0 428.2,1229.7 413.6,1222.1 399.3,1214.0 385.1,1205.6 371.3,1196.7 357.6,1187.4 344.3,1177.7 331.2,1167.6 318.4,1157.1 305.9,1146.3 293.8,1135.1 281.9,1123.5 270.4,1111.6 259.3,1099.3 248.5,1086.8 238.0,1073.9 228.0,1060.7 218.3,1047.2 209.0,1033.4 200.1,1019.4 191.6,1005.1 183.5,990.5 175.9,975.7 168.7,960.7 161.9,945.5 155.6,930.0 149.7,914.4 144.2,898.6 139.3,882.7 134.7,866.6 130.7,850.4 127.1,834.0 124.0,817.6 121.4,801.0 119.3,784.4 117.6,767.7 116.4,750.9 115.8,734.2 115.6,717.4 115.9,700.6 116.7,683.8 117.9,667.0 119.7,650.2 121.9,633.5 124.7,616.9 127.9,600.4 131.6,583.9 135.8,567.5 140.5,551.3 145.6,535.2 151.2,519.2 157.3,503.4 163.8,487.8 170.8,472.4 178.2,457.2 186.1,442.1 194.4,427.4 203.2,412.8 212.3,398.5 221.9,384.5 231.9,370.7 242.3,357.3 253.1,344.1 264.3,331.3 275.9,318.7 287.8,306.6 300.1,294.7 312.7,283.2 325.7,272.1 338.9,261.4 352.5,251.0 366.5,241.0 380.6,231.5 395.1,222.3 409.9,213.6 424.9,205.3 440.1,197.4 455.6,190.0 471.3,183.0 487.2,176.5 503.3,170.5 519.5,164.9 536.0,159.8 552.5,155.1 569.2,151.0 586.1,147.3 603.0,144.1 620.1,141.4 637.2,139.3 654.4,137.6 671.6,136.4 688.9,135.7 706.2,135.5 723.5,135.8 740.8,136.6 758.1,138.0 775.3,139.8 792.5,142.1 809.6,145.0 826.7,148.3 843.6,152.1 860.5,156.4 877.2,161.3 893.8,166.6 910.2,172.3 926.4,178.6 942.5,185.3 958.4,192.5 974.1,200.2 989.5,208.3 1004.7,216.9 1019.7,225.9 1034.4,235.4 1048.9,245.3 1063.0,255.6 1076.9,266.3 1090.4,277.4 1103.6,288.9 1116.5,300.8 1129.0,313.1 1141.2,325.7 1153.0,338.7 1164.5,352.1 1175.5,365.8 1186.2,379.8 1196.4,394.1 1206.2,408.7 1215.6,423.6 1224.6,438.8 1233.1,454.2 1241.2,469.9 1248.9,485.9 1256.0,502.0 1262.7,518.4 1268.9,534.9 1274.7,551.7 1279.9,568.6 1284.7,585.7 1288.9,602.9 1292.7,620.2 1296.0,637.6 1298.7,655.2 1301.0,672.8 1302.7,690.5 1303.9,708.2 1304.6,726.0 1304.8,743.8 1304.4,761.6 1303.6,779.4 1302.2,797.2 1300.3,814.9 1297.9,832.6 1295.0,850.2 1291.5,867.7 1287.6,885.2 1283.1,902.5 1278.2,919.7 1272.7,936.7 1266.7,953.6 1260.3,970.3 1253.3,986.9 1245.9,1003.2 1238.0,1019.3 1229.7,1035.2 1220.8,1050.9 1211.5,1066.2 1201.8,1081.4 1191.6,1096.2 1181.0,1110.7 1170.0,1125.0 1158.5,1138.9 1146.7,1152.5 1134.4,1165.7 1121.8,1178.6 1108.8,1191.1 1095.4,1203.3 1081.7,1215.0 1067.6,1226.4 1053.2,1237.3 1038.4,1247.9 1023.4,1258.0 1008.1,1267.6 992.5,1276.8 976.6,1285.6 960.4,1293.9 944.0,1301.7 927.4,1309.1 910.6,1316.0 893.6,1322.3 876.4,1328.2 859.0,1333.6 841.4,1338.5 823.7,1342.9 805.9,1346.7 788.0,1350.1 769.9,1352.9 751.8,1355.2 733.6,1356.9 715.4,1358.2 697.1,1358.9 678.8,1359.0 660.5,1358.7 642.2,1357.8 623.9,1356.4 605.7,1354.4 587.5,1351.9 569.4,1348.9 551.4,1345.3 533.5,1341.3 515.7,1336.7 498.0,1331.6 480.5,1325.9 463.1,1319.8 446.0,1313.2 429.0,1306.0 412.2,1298.4 395.6,1290.2 379.3,1281.6 363.2,1272.6 347.4,1263.0 331.9,1253.0 316.6,1242.5 301.7,1231.6 287.1,1220.3 272.8,1208.5 258.8,1196.3 245.2,1183.7 232.0,1170.7 219.1,1157.3 206.7,1143.5 194.6,1129.4 182.9,1114.9 171.7,1100.1 160.9,1085.0 150.5,1069.5 140.6,1053.8 131.1,1037.7 122.2,1021.4 113.6,1004.8 105.6,988.0 98.1,970.9 91.0,953.6 84.5,936.1 78.4,918.4 72.9,900.5 67.9,882.5 63.4,864.3 59.5,846.0 56.0,827.6 53.2,809.0 50.8,790.4 49.0,771.7 47.8,753.0 47.1,734.2 46.9,715.4 47.3,696.6 48.2,677.8 49.7,659.0 51.7,640.3 54.3,621.6 57.4,603.1 61.0,584.5 65.2,566.1 70.0,547.9 75.2,529.7 81.0,511.7 87.3,493.9 94.2,476.3 101.5,458.8 109.4,441.6 117.7,424.6 126.6,407.8 135.9,391.3 145.8,375.1 156.0,359.1 166.8,343.5 178.0,328.1 189.7,313.1 201.8,298.5 214.3,284.1 227.3,270.2 240.6,256.6 254.4,243.4 268.5,230.6 283.0,218.2 297.9,206.3 313.1,194.7 328.7,183.6 344.6,173.0 360.7,162.8 377.2,153.1 394.0,143.9 411.1,135.2 428.3,126.9 445.9,119.2 463.6,112.0 481.6,105.3 499.8,99.1 518.1,93.4 536.7,88.3 555.3,83.7 574.1,79.6"/>
<polyline points="497.7,456.9 505.6,451.1 513.6,445.5 521.8,440.1 530.2,435.0 538.7,430.1 547.3,425.4 556.1,421.0 565.0,416.9 574.1,413.0 583.3,409.4 592.5,406.0 601.9,402.9 611.4,400.1 621.0,397.5 630.6,395.3 640.3,393.3 650.1,391.6 660.0,390.2 669.8,389.0 679.8,388.2 689.7,387.6 699.7,387.4 709.7,387.4 719.6,387.7 729.6,388.3 739.6,389.2 749.5,390.4 759.5,391.8 769.3,393.6 779.2,395.7 789.0,398.0 798.7,400.6 808.3,403.6 817.9,406.7 827.4,410.2 836.7,414.0 846.0,418.0 855.2,422.3 864.2,426.9 873.1,431.7 881.9,436.8 890.5,442.2 899.0,447.8 907.3,453.6 915.5,459.7 923.5,466.1 931.3,472.7 938.9,479.5 946.3,486.5 953.5,493.8 960.5,501.3 967.3,508.9 973.9,516.8 980.2,524.9 986.3,533.2 992.2,541.6 997.8,550.2 1003.2,559.0 1008.3,568.0 1013.2,577.1 1017.8,586.3 1022.2,595.7 1026.2,605.2 1030.0,614.9 1033.5,624.6 1036.8,634.5 1039.7,644.4 1042.4,654.5 1044.7,664.6 1046.8,674.8 1048.6,685.1 1050.0,695.5 1051.2,705.8 1052.1,716.3 1052.7,726.7 1052.9,737.2 1052.9,747.6 1052.5,758.1 1051.9,768.6 1050.9,779.1 1049.7,789.5 1048.1,799.9 1046.2,810.3 1044.1,820.6 1041.6,830.9 1038.8,841.1 1035.7,851.2 1032.4,861.2 1028.7,871.2 1024.7,881.0 1020.5,890.7 1016.0,900.3 1011.1,909.8 1006.1,919.2 1000.7,928.4 995.1,937.4 989.2,946.3 983.0,955.0 976.6,963.5 969.9,971.9 963.0,980.1 955.8,988.0 948.4,995.8 940.8,1003.4 933.0,1010.7 924.9,1017.8 916.6,1024.7 908.1,1031.3 899.5,1037.7 890.6,1043.9 881.6,1049.8 872.3,1055.4 862.9,1060.7 853.4,1065.8 843.7,1070.6 833.8,1075.2 823.8,1079.4 813.7,1083.4 803.5,1087.1 793.2,1090.4 782.7,1093.5 772.2,1096.3 761.5,1098.7 750.8,1100.9 740.1,1102.7 729.2,1104.2 718.4,1105.5 707.4,1106.4 696.5,1106.9 685.5,1107.2 674.5,1107.1 663.6,1106.8 652.6,1106.1 641.6,1105.0 630.7,1103.7 619.8,1102.0 608.9,1100.1 598.1,1097.8 587.4,1095.2 576.7,1092.2 566.1,1089.0 555.6,1085.5 545.2,1081.6 534.9,1077.4 524.7,1073.0 514.7,1068.2 504.8,1063.2 495.0,1057.8 485.4,1052.2 475.9,1046.3 466.6,1040.1 457.5,1033.6 448.6,1026.9 439.8,1019.9 431.3,1012.6 423.0,1005.1 414.9,997.4 407.0,989.4 399.3,981.2 391.9,972.7 384.7,964.1 377.8,955.2 371.1,946.1 364.7,936.8 358.5,927.3 352.6,917.7 347.0,907.8 341.7,897.8 336.7,887.7 332.0,877.4 327.6,866.9 323.4,856.3 319.6,845.6 316.1,834.8 312.9,823.9 310.0,812.8 307.5,801.7 305.2,790.5 303.3,779.3 301.8,767.9 300.5,756.6 299.6,745.1 299.0,733.7 298.7,722.2 298.8,710.7 299.2,699.3 300.0,687.8 301.1,676.3 302.5,664.9 304.2,653.5 306.3,642.2 308.7,630.9 311.5,619.6 314.5,608.5 317.9,597.4 321.7,586.5 325.7,575.6 330.1,564.8 334.7,554.2 339.7,543.7 345.0,533.4 350.6,523.2 356.5,513.1 362.7,503.2 369.2,493.5 375.9,484.0 383.0,474.7 390.3,465.6 397.9,456.7 405.8,448.0 413.9,439.5 422.2,431.3 430.8,423.3 439.6,415.6 448.7,408.1 458.0,400.8 467.5,393.9 477.2,387.2 487.1,380.8 497.2,374.7 507.5,368.8 517.9,363.3 528.5,358.1 539.3,353.2 550.2,348.5 561.3,344.3 572.5,340.3 583.8,336.6 595.2,333.3 606.7,330.3 618.3,327.7 630.0,325.4 641.8,323.4 653.6,321.7 665.5,320.5 677.4,319.5 689.3,318.9 701.3,318.7 713.3,318.8 725.3,319.2 737.2,320.0 749.2,321.1 761.1,322.6 773.0,324.5 784.8,326.7 796.6,329.2 808.3,332.1 819.9,335.3 831.5,338.9 842.9,342.8 854.2,347.0 865.4,351.6 876.5,356.4 887.5,361.7 898.2,367.2 908.9,373.0 919.3,379.2 929.6,385.7 939.7,392.4 949.7,399.5 959.4,406.9 968.9,414.5 978.1,422.4 987.2,430.6 996.0,439.1 1004.6,447.8 1012.9,456.8 1021.0,466.0 1028.8,475.5 1036.3,485.2 1043.5,495.1 1050.5,505.2 1057.1,515.6 1063.5,526.1 1069.6,536.8 1075.3,547.7 1080.8,558.8 1085.9,570.0 1090.7,581.4 1095.1,592.9 1099.2,604.6 1103.0,616.4 1106.5,628.3 1109.6,640.3 1112.3,652.4 1114.7,664.5 1116.8,676.8 1118.5,689.1 1119.8,701.5 1120.8,713.9 1121.4,726.3 1121.6,738.8 1121.5,751.3 1121.0,763.8 1120.2,776.2 1119.0,788.7 1117.4,801.1 1115.5,813.5 1113.2,825.8 1110.5,838.1 1107.5,850.3 1104.1,862.4 1100.4,874.4 1096.3,886.3 1091.9,898.1 1087.1,909.7 1082.0,921.3 1076.6,932.6 1070.8,943.9 1064.7,954.9 1058.3,965.8 1051.5,976.5 1044.5,987.0 1037.1,997.4 1029.4,1007.5 1021.5,1017.3 1013.2,1027.0 1004.7,1036.4 995.8,1045.6 986.7,1054.5 977.4,1063.1 967.8,1071.5 957.9,1079.6 947.8,1087.4 937.5,1094.9 927.0,1102.2 916.2,1109.1 905.2,1115.7 894.1,1122.0 882.7,1128.0 871.2,1133.6 859.5,1138.9 847.7,1143.9 835.7,1148.5 823.5,1152.8 811.3,1156.7 798.9,1160.3 786.4,1163.5 773.8,1166.3 761.1,1168.8 748.4,1170.9 735.6,1172.7 722.7,1174.0 709.8,1175.0 696.8,1175.6 683.9,1175.9 670.9,1175.7 657.9,1175.2 644.9,1174.3 632.0,1173.1 619.1,1171.4 606.2,1169.4 593.4,1167.0 580.7,1164.2 568.0,1161.1 555.4,1157.6 542.9,1153.7 530.6,1149.4 518.3,1144.8 506.2,1139.8 494.2,1134.5 482.4,1128.9 470.7,1122.8 459.2,1116.5 447.9,1109.8 436.8,1102.7 425.9,1095.4 415.2,1087.7 404.7,1079.7 394.4,1071.4 384.4,1062.8 374.6,1053.9 365.1,1044.8 355.9,1035.3 346.9,1025.6 338.2,1015.6 329.8,1005.3 321.7,994.8 313.8,984.1 306.4,973.1 299.2,962.0 292.3,950.6 285.8,938.9 279.6,927.2 273.8,915.2 268.3,903.0 263.1,890.7 258.3,878.2 253.9,865.6 249.8,852.9 246.1,840.0 242.8,827.0 239.9,814.0 237.3,800.8 235.1,787.5 233.3,774.2 231.9,760.9 230.9,747.4 230.3,734.0 230.0,720.5 230.2,707.1 230.8,693.6 231.7,680.1 233.0,666.7 234.8,653.3 236.9,639.9 239.4,626.6 242.3,613.4 245.6,600.2 249.2,587.2 253.3,574.2 257.7,561.4 262.5,548.7 267.7,536.1 273.2,523.6 279.1,511.4 285.4,499.3 292.0,487.3 298.9,475.6 306.2,464.1 313.9,452.8 321.9,441.6 330.2,430.8 338.8,420.1 347.7,409.7 357.0,399.6 366.5,389.8 376.3,380.2 386.4,370.9 396.8,361.8 407.4,353.1 418.4,344.7 429.5,336.6 440.9,328.9 452.5,321.4 464.3,314.3 476.4,307.6 488.6,301.2 501.1,295.1 513.7,289.4 526.5,284.1 539.4,279.1 552.5,274.5 565.7,270.3 579.1,266.5 592.5,263.1 606.1,260.1 619.8,257.4 633.5,255.2 647.3,253.3 661.2,251.9 675.1,250.8 689.0,250.2 703.0,250.0 717.0,250.2 731.0,250.7 744.9,251.7 758.9,253.1 772.8,254.9 786.6,257.1 800.4,259.8 814.1,262.8 827.7,266.2 841.3,270.0 854.7,274.2 868.0,278.8 881.2,283.8 894.2,289.2 907.1,294.9 919.8,301.0 932.4,307.6 944.7,314.4 956.9,321.7 968.8,329.2 980.6,337.2 992.1,345.5 1003.3,354.1 1014.3,363.0 1025.1,372.3 1035.6,381.9 1045.8,391.8 1055.7,402.0 1065.4,412.4 1074.7,423.2 1083.7,434.2 1092.4,445.6 1100.8,457.1 1108.8,468.9 1116.5,481.0 1123.9,493.2 1130.9,505.7 1137.5,518.4 1143.7,531.3 1149.6,544.4 1155.1,557.6 1160.3,571.0 1165.0,584.6 1169.3,598.3 1173.3,612.2 1176.8,626.1 1179.9,640.2 1182.7,654.3 1185.0,668.6 1186.9,682.9 1188.4,697.2 1189.4,711.6 1190.1,726.1 1190.3,740.6 1190.1,755.0 1189.5,769.5 1188.4,784.0 1187.0,798.4 1185.1,812.8 1182.8,827.1 1180.1,841.4 1176.9,855.6 1173.4,869.7 1169.4,883.7 1165.1,897.6 1160.3,911.4 1155.1,925.0 1149.5,938.5 1143.6,951.9 1137.2,965.0 1130.5,978.0 1123.3,990.8 1115.8,1003.4 1108.0,1015.7 1099.7,1027.9 1091.2,1039.8 1082.2,1051.4 1073.0,1062.8 1063.3,1073.9 1053.4,1084.8 1043.2,1095.4 1032.6,1105.6 1021.7,1115.6 1010.6,1125.2 999.2,1134.6 987.4,1143.6 975.5,1152.2 963.2,1160.5 950.8,1168.5 938.1,1176.1 925.1,1183.3 912.0,1190.1 898.6,1196.6 885.1,1202.7 871.4,1208.4 857.5,1213.6 843.5,1218.5 829.3,1223.0 815.0,1227.1 800.5,1230.7 786.0,1234.0 771.3,1236.8 756.6,1239.1 741.8,1241.1 726.9,1242.6 712.0,1243.7 697.1,1244.3 682.1,1244.6 667.1,1244.3 652.2,1243.7 637.2,1242.6 622.3,1241.1 607.4,1239.1 592.5,1236.7 577.8,1233.9 563.1,1230.6 548.5,1227.0 534.0,1222.8 519.6,1218.3 505.4,1213.4 491.3,1208.0 477.4,1202.2 463.6,1196.0 450.0,1189.4 436.5,1182.5 423.3,1175.1 410.3,1167.3 397.6,1159.2 385.0,1150.6 372.7,1141.8 360.7,1132.5 348.9,1122.9 337.4,1113.0 326.2,1102.7 315.3,1092.1 304.7,1081.2 294.4,1069.9 284.4,1058.4 274.8,1046.5 265.5,1034.4 256.6,1022.0 248.0,1009.4 239.8,996.5 231.9,983.4 224.5,970.0 217.4,956.4 210.8,942.6 204.5,928.6 198.6,914.4 193.2,900.1 188.1,885.5 183.5,870.9 179.3,856.1 175.6,841.1 172.2,826.1 169.4,811.0 166.9,795.7 164.9,780.4 163.3,765.1 162.2,749.7 161.6,734.2 161.4,718.7 161.6,703.3 162.3,687.8 163.4,672.3 165.0,656.9 167.1,641.5 169.5,626.2 172.5,611.0 175.9,595.8 179.7,580.7 183.9,565.8 188.6,550.9 193.8,536.2 199.3,521.6 205.3,507.2 211.7,493.0 218.5,478.9 225.8,465.1 233.4,451.5 241.4,438.0 249.8,424.8 258.7,411.9 267.8,399.2 277.4,386.8 287.3,374.6 297.6,362.7 308.2,351.2 319.2,339.9 330.5,329.0 342.1,318.4 354.0,308.1 366.3,298.1 378.8,288.6 391.6,279.3 404.6,270.5 418.0,262.0 431.6,253.9 445.4,246.3 459.4,239.0 473.7,232.1 488.1,225.6 502.8,219.6 517.6,214.0 532.6,208.8 547.8,204.0 563.0,199.7 578.5,195.9 594.0,192.4 609.6,189.5 625.3,187.0 641.1,184.9 657.0,183.3 672.9,182.2 688.9,181.5 704.8,181.3 720.8,181.6 736.8,182.3 752.7,183.5 768.6,185.1 784.5,187.2 800.3,189.8 816.1,192.9 831.7,196.4 847.3,200.3 862.7,204.7 878.0,209.6 893.2,214.9 908.2,220.6 923.1,226.8 937.8,233.4 952.3,240.5 966.6,248.0 980.6,255.8 994.5,264.1 1008.1,272.9 1021.4,282.0 1034.5,291.4 1047.4,301.3 1059.9,311.6 1072.1,322.2 1084.0,333.2 1095.7,344.5 1106.9,356.1 1117.9,368.1 1128.5,380.5 1138.7,393.1 1148.6,406.0 1158.1,419.2 1167.2,432.7 1175.9,446.5 1184.3,460.5 1192.2,474.7 1199.7,489.2 1206.8,503.9 1213.4,518.9 1219.6,534.0 1225.4,549.3 1230.8,564.7 1235.7,580.4 1240.1,596.1 1244.1,612.0 1247.6,628.1 1250.6,644.2 1253.2,660.4 1255.3,676.7 1256.9,693.1 1258.1,709.5 1258.8,725.9 1259.0,742.4 1258.7,758.9 1257.9,775.3 1256.7,791.8 1255.0,808.2 1252.8,824.6 1250.1,840.9 1247.0,857.1 1243.3,873.2 1239.3,889.3 1234.7,905.2 1229.7,921.0 1224.2,936.6 1218.3,952.1 1211.9,967.4 1205.0,982.6 1197.7,997.5 1190.0,1012.2 1181.9,1026.7 1173.3,1041.0 1164.3,1055.0 1154.9,1068.8 1145.1,1082.3 1135.0,1095.5 1124.4,1108.4 1113.4,1121.0 1102.1,1133.3 1090.4,1145.2 1078.4,1156.9 1066.0,1168.1 1053.3,1179.0 1040.3,1189.6 1027.0,1199.7 1013.4,1209.5 999.4,1218.9 985.3,1227.9 970.8,1236.5 956.1,1244.6 941.2,1252.3 926.0,1259.6 910.6,1266.5 895.0,1272.9 879.3,1278.8 863.3,1284.3 847.2,1289.3 830.9,1293.9 814.6,1298.0 798.0,1301.6 781.4,1304.7 764.7,1307.4 747.9,1309.5 731.1,1311.2 714.2,1312.4 697.2,1313.1 680.2,1313.2 663.3,1312.9 646.3,1312.2 629.4,1310.9 612.4,1309.1 595.6,1306.8 578.8,1304.0 562.1,1300.8 545.4,1297.0 528.9,1292.8 512.5,1288.1 496.3,1282.9 480.2,1277.3 464.2,1271.1 448.4,1264.5 432.9,1257.5 417.5,1250.0 402.3,1242.0 387.4,1233.6 372.7,1224.8 358.3,1215.5 344.1,1205.8 330.2,1195.7 316.6,1185.2 303.3,1174.3 290.3,1163.0 277.7,1151.4 265.4,1139.3 253.4,1126.9 241.8,1114.2 230.6,1101.1 219.8,1087.7 209.3,1073.9 199.2,1059.9 189.6,1045.6 180.3,1031.0 171.5,1016.1 163.1,1000.9 155.2,985.5 147.7,969.9 140.7,954.1 134.1,938.0 128.0,921.8 122.3,905.4 117.2,888.8 112.5,872.0 108.3,855.1 104.6,838.1 101.4,821.0 98.7,803.8 96.5,786.5 94.8,769.2 93.6,751.8 92.9,734.3 92.7,716.9 93.0,699.4 93.8,681.9 95.2,664.5 97.0,647.1 99.4,629.7 102.2,612.4 105.6,595.2 109.5,578.1 113.8,561.1 118.7,544.2 124.0,527.5 129.9,510.9 136.2,494.5 143.0,478.3 150.3,462.3 158.0,446.4 166.2,430.8 174.8,415.5 184.0,400.4 193.5,385.5 203.5,370.9 213.9,356.7 224.7,342.7 235.9,329.0 247.6,315.7 259.6,302.7 272.0,290.0 284.7,277.7 297.9,265.8 311.3,254.2 325.1,243.1 339.3,232.3 353.7,222.0 368.5,212.1 383.5,202.6 398.9,193.5 414.4,184.9 430.3,176.7 446.4,169.0 462.7,161.8 479.2,155.1 495.9,148.8 512.8,143.0 529.9,137.7 547.1,132.9 564.5,128.6 582.0,124.8 599.6,121.5 617.3,118.7 635.1,116.5 652.9,114.7 670.8,113.5 688.8,112.8 706.7,112.6 724.7,113.0 742.7,113.8 760.6,115.2 778.5,117.1 796.3,119.6 814.1,122.5 831.8,126.0 849.4,130.0 866.9,134.5 884.2,139.5 901.4,145.0 918.5,151.0 935.4,157.5 952.1,164.5 968.5,172.0 984.8,180.0 1000.8,188.4 1016.6,197.3 1032.2,206.7 1047.4,216.5 1062.4,226.8 1077.1,237.5 1091.5,248.6 1105.5,260.2 1119.2,272.2 1132.6,284.5 1145.6,297.3 1158.2,310.4 1170.5,323.9 1182.3,337.8 1193.8,352.0 1204.8,366.5 1215.5,381.4 1225.6,396.6 1235.4,412.0 1244.7,427.8 1253.5,443.8 1261.9,460.1 1269.8,476.7 1277.2,493.4 1284.2,510.4 1290.6,527.6 1296.6,545.0 1302.0,562.5 1306.9,580.2 1311.3,598.1 1315.2,616.1 1318.6,634.2 1321.4,652.4 1323.8,670.6 1325.5,689.0 1326.8,707.4 1327.5,725.8 1327.7,744.3 1327.3,762.8 1326.4,781.2 1325.0,799.7 1323.0,818.1 1320.5,836.4 1317.4,854.7 1313.8,872.9 1309.7,890.9 1305.1,908.9 1299.9,926.7 1294.3,944.4 1288.1,961.9 1281.4,979.3 1274.2,996.4 1266.5,1013.3 1258.3,1030.0 1249.6,1046.5 1240.4,1062.7 1230.8,1078.7 1220.7,1094.4 1210.1,1109.8 1199.1,1124.8 1187.6,1139.6 1175.7,1154.0 1163.4,1168.1 1150.7,1181.8 1137.6,1195.2 1124.1,1208.1 1110.2,1220.7 1096.0,1232.9 1081.4,1244.7 1066.4,1256.0 1051.2,1266.9 1035.6,1277.4 1019.7,1287.4 1003.5,1296.9 987.0,1306.0 970.2,1314.6 953.3,1322.7 936.0,1330.3 918.6,1337.4 900.9,1344.0 883.1,1350.1 865.0,1355.7 846.8,1360.7 828.5,1365.3 810.0,1369.2 791.4,1372.7 772.7,1375.6 754.0,1378.0 735.1,1379.8 716.2,1381.0 697.3,1381.8 678.3,1381.9 659.3,1381.5 640.4,1380.6 621.4,1379.1 602.5,1377.1 583.7,1374.5 564.9,1371.3 546.3,1367.7 527.7,1363.4 509.3,1358.7 491.0,1353.3 472.8,1347.5 454.8,1341.1 437.0,1334.2 419.4,1326.8 402.1,1318.9 384.9,1310.5 368.0,1301.5 351.3,1292.1 335.0,1282.2 318.9,1271.8 303.1,1261.0 287.6,1249.7 272.5,1237.9 257.7,1225.7 243.2,1213.0 229.1,1200.0 215.4,1186.5 202.1,1172.6 189.2,1158.4 176.7,1143.7 164.7,1128.7 153.0,1113.4 141.8,1097.7 131.1,1081.7 120.9,1065.3 111.1,1048.7 101.8,1031.8 92.9,1014.6 84.6,997.2 76.8,979.5 69.5,961.5 62.8,943.4 56.5,925.1 50.8,906.6 45.6,887.9 41.0,869.1 36.9,850.1 33.4,831.0 30.4,811.8 28.0,792.5 26.2,773.2 24.9,753.8 24.2,734.4 24.0,714.9 24.4,695.4 25.4,676.0 26.9,656.5 29.0,637.1 31.7,617.8 34.9,598.6 38.7,579.4 43.1,560.4 48.0,541.4 53.4,522.7 59.5,504.0 66.0,485.6 73.1,467.3 80.7,449.3 88.8,431.4 97.5,413.8 106.7,396.5 116.4,379.4 126.5,362.6 137.2,346.1 148.4,329.9 160.0,314.1 172.1,298.5 184.6,283.3 197.6,268.5 211.0,254.1 224.8,240.0 239.0,226.4 253.7,213.2 268.7,200.3 284.1,188.0 299.9,176.1 316.0,164.6 332.4,153.6 349.2,143.1 366.2,133.0 383.6,123.5 401.2,114.5 419.1,106.0 437.3,98.0 455.7,90.5 474.3,83.6 493.1,77.2 512.1,71.3 531.2,66.0 550.6,61.3 570.0,57.1"/>
<line x1="662.5" y1="469.2" x2="621.5" y2="118.1"/>
<line x1="841.5" y1="504.3" x2="1035.8" y2="209.0"/>
<line x1="959.2" y1="650.4" x2="1297.9" y2="549.0"/>
<line x1="955.2" y1="843.2" x2="1279.8" y2="983.2"/>
<line x1="824.6" y1="992.1" x2="983.2" y2="1308.0"/>
<line x1="623.6" y1="1022.8" x2="542.1" y2="1366.8"/>
<line x1="445.6" y1="914.3" x2="162.1" y2="1125.4"/>
<line x1="377.5" y1="711.7" x2="24.6" y2="691.2"/>
<line x1="457.6" y1="508.0" x2="250.4" y2="312.5"/>
</g>
<circle cx="830.3" cy="1000.4" r="14.5" fill="#b0b0b0"/>
<circle cx="647.5" cy="1105.6" r="14.5" fill="#b0b0b0"/>
<circle cx="410.2" cy="1084.0" r="14.5" fill="#b0b0b0"/>
<circle cx="189.3" cy="888.9" r="14.5" fill="#b0b0b0"/>
<circle cx="108.2" cy="583.6" r="14.5" fill="#b0b0b0"/>
<circle cx="576.6" cy="412.0" r="13" fill="none" stroke="#b0b0b0" stroke-width="1.4"/>
<circle cx="818.6" cy="334.9" r="13" fill="none" stroke="#b0b0b0" stroke-width="1.4"/>
<circle cx="1086.6" cy="437.9" r="13" fill="none" stroke="#b0b0b0" stroke-width="1.4"/>
<circle cx="1259.0" cy="743.4" r="13" fill="none" stroke="#b0b0b0" stroke-width="1.4"/>
<polyline fill="none" stroke="#000" stroke-width="1.1" shape-rendering="crispEdges" points="537.7,512.8 543.9,508.1 550.2,503.6 556.7,499.3 563.3,495.1 570.1,491.2 576.9,487.4 583.9,483.8 591.0,480.5 598.2,477.3 605.5,474.4 612.9,471.6 620.3,469.1 627.9,466.8 635.5,464.7 643.2,462.8 650.9,461.2 658.7,459.7 666.6,458.5 674.5,457.6 682.4,456.8 690.3,456.3 698.3,456.0 706.3,456.0 714.3,456.2 722.3,456.6 730.3,457.2 738.2,458.1 746.2,459.3 754.1,460.6 762.0,462.2 769.9,464.0 777.7,466.0 785.4,468.3 793.1,470.8 800.7,473.6 808.3,476.5 815.7,479.7 823.1,483.1 830.4,486.7 837.6,490.5 844.7,494.6 851.6,498.8 858.5,503.3 865.2,507.9 871.8,512.8 878.3,517.8 884.6,523.1 890.7,528.5 896.7,534.1 902.6,539.9 908.3,545.9 913.8,552.0 919.1,558.3 924.3,564.8 929.3,571.4 934.0,578.2 938.6,585.1 943.0,592.1 947.2,599.3 951.2,606.6 955.0,614.1 958.5,621.6 961.9,629.3 965.0,637.0 967.9,644.9 970.6,652.8 973.0,660.9 975.2,669.0 977.2,677.1 978.9,685.4 980.4,693.7 981.7,702.0 982.7,710.4 983.4,718.8 984.0,727.3 984.2,735.7 984.3,744.2 984.0,752.7 983.6,761.2 982.9,769.7 981.9,778.2 980.7,786.6 979.2,795.0 977.5,803.4 975.6,811.7 973.4,820.0 971.0,828.2 968.3,836.4 965.4,844.5 962.2,852.5 958.8,860.4 955.2,868.2 951.4,875.9 947.3,883.6 943.0,891.1 938.5,898.5 933.7,905.7 928.8,912.8 923.6,919.8 918.2,926.6 912.6,933.3 906.9,939.9 900.9,946.2 894.7,952.4 888.4,958.4 881.9,964.3 875.2,969.9 868.3,975.4 861.3,980.6 854.1,985.7 846.7,990.5 839.3,995.2 831.6,999.6 823.9,1003.8 816.0,1007.8 808.0,1011.5 799.9,1015.1 791.6,1018.3 783.3,1021.4 774.9,1024.2 766.4,1026.8 757.8,1029.1 749.1,1031.2 740.4,1033.0 731.6,1034.5 722.7,1035.8 713.9,1036.9 704.9,1037.7 696.0,1038.2 687.0,1038.5 678.0,1038.5 669.0,1038.3 660.1,1037.8 651.1,1037.0 642.1,1035.9 633.2,1034.7 624.3,1033.1 615.4,1031.3 606.6,1029.2 597.8,1026.9 589.2,1024.3 580.5,1021.4 572.0,1018.3 563.5,1015.0 555.1,1011.4 546.9,1007.5 538.7,1003.4 530.7,999.1 522.7,994.5 514.9,989.7 507.3,984.7 499.7,979.4 492.4,974.0 485.2,968.3 478.1,962.3 471.2,956.2 464.5,949.9 458.0,943.4 451.6,936.7 445.5,929.7 439.5,922.7 433.8,915.4 428.2,907.9 422.9,900.3 417.8,892.6 412.9,884.7 408.2,876.6 403.8,868.4 399.6,860.0 395.7,851.6 392.0,843.0 388.5,834.3 385.3,825.5 382.4,816.6 379.7,807.6 377.2,798.5 375.1,789.3 373.2,780.1 371.5,770.8 370.2,761.5 369.1,752.1 368.2,742.7 367.7,733.3 367.4,723.8 367.4,714.3 367.7,704.8 368.3,695.3 369.1,685.9 370.2,676.4 371.6,667.0 373.3,657.6 375.2,648.2 377.4,638.9 379.9,629.7 382.6,620.5 385.7,611.4 388.9,602.4 392.5,593.5 396.3,584.7 400.4,576.0 404.7,567.4 409.3,558.9 414.1,550.5 419.2,542.3 424.5,534.2 430.1,526.3 435.9,518.6 441.9,511.0 448.1,503.5 454.6,496.3 461.3,489.2 468.2,482.4 475.3,475.7 482.6,469.2 490.1,462.9 497.7,456.9 505.6,451.1 513.6,445.5 521.8,440.1 530.1,435.0 538.7,430.1 547.3,425.4 556.1,421.0 565.0,416.9 574.1,413.0 583.3,409.4 592.5,406.0 601.9,402.9 611.4,400.1 621.0,397.5 630.6,395.3 640.3,393.3 650.1,391.6 659.9,390.2 669.8,389.0 679.7,388.2 689.7,387.6 699.6,387.4 709.6,387.4 719.6,387.7 729.6,388.3 739.6,389.2 749.5,390.4 759.4,391.8 769.3,393.6 779.1,395.7 788.9,398.0 798.6,400.6 808.3,403.5 817.8,406.7 827.3,410.2 836.7,414.0 846.0,418.0 855.1,422.3 864.2,426.9 873.1,431.7 881.9,436.8 890.5,442.1 899.0,447.8 907.3,453.6 915.4,459.7 923.4,466.1 931.2,472.6 938.8,479.5 946.2,486.5 953.5,493.7 960.5,501.2 967.3,508.9 973.8,516.8 980.2,524.8 986.3,533.1 992.2,541.5 997.8,550.2 1003.2,559.0 1008.3,567.9 1013.2,577.0 1017.8,586.3 1022.1,595.6 1026.2,605.2 1030.0,614.8 1033.5,624.6 1036.7,634.4 1039.7,644.4 1042.3,654.4 1044.7,664.6 1046.8,674.8 1048.6,685.0 1050.0,695.4 1051.2,705.7 1052.1,716.2 1052.7,726.6 1052.9,737.1 1052.9,747.6 1052.5,758.0 1051.9,768.5 1050.9,779.0 1049.7,789.4 1048.1,799.8 1046.2,810.2 1044.1,820.5 1041.6,830.8 1038.8,841.0 1035.8,851.1 1032.4,861.1 1028.7,871.1 1024.8,880.9 1020.5,890.6 1016.0,900.2 1011.2,909.7 1006.1,919.1 1000.7,928.3 995.1,937.3 989.2,946.2 983.1,954.9 976.6,963.5 970.0,971.8 963.1,980.0 955.9,988.0 948.5,995.7 940.9,1003.3 933.1,1010.6 925.0,1017.7 916.7,1024.6 908.2,1031.2 899.6,1037.6 890.7,1043.8 881.7,1049.7 872.4,1055.3 863.1,1060.7 853.5,1065.8 843.8,1070.6 834.0,1075.1 824.0,1079.4 813.9,1083.3 803.6,1087.0 793.3,1090.4 782.8,1093.5 772.3,1096.2 761.7,1098.7 751.0,1100.8 740.2,1102.7 729.4,1104.2 718.5,1105.4 707.6,1106.3 696.7,1106.9 685.7,1107.2 674.7,1107.1 663.7,1106.8 652.7,1106.1 641.8,1105.1 630.9,1103.7 619.9,1102.1 609.1,1100.1 598.3,1097.8 587.5,1095.2 576.9,1092.3 566.3,1089.0 555.8,1085.5 545.4,1081.7 535.1,1077.5 524.9,1073.1 514.9,1068.3 504.9,1063.3 495.2,1057.9 485.5,1052.3 476.1,1046.4 466.8,1040.2 457.7,1033.7 448.7,1027.0 440.0,1020.0 431.4,1012.8 423.1,1005.3 415.0,997.5 407.1,989.5 399.4,981.3 392.0,972.9 384.8,964.2 377.9,955.3 371.2,946.3 364.8,937.0 358.6,927.5 352.7,917.8 347.1,908.0 341.8,898.0 336.8,887.9 332.1,877.6 327.6,867.1 323.5,856.5 319.7,845.8 316.2,835.0 313.0,824.1 310.1,813.0 307.5,801.9 305.3,790.7 303.4,779.5 301.8,768.2 300.5,756.8 299.6,745.4 299.0,733.9 298.7,722.5 298.8,711.0 299.2,699.5 300.0,688.0 301.0,676.6 302.4,665.1 304.2,653.7 306.3,642.4 308.7,631.1 311.4,619.9 314.5,608.7 317.9,597.7 321.6,586.7 325.6,575.8 330.0,565.1 334.6,554.4 339.6,544.0 344.9,533.6 350.5,523.4 356.4,513.3 362.6,503.5 369.0,493.8 375.8,484.2 382.8,474.9 390.1,465.8 397.7,456.9 405.6,448.2 413.7,439.7 422.0,431.5 430.6,423.5 439.4,415.7 448.5,408.2 457.8,401.0 467.3,394.0 477.0,387.3 486.9,380.9 497.0,374.8 507.2,369.0 517.7,363.4 528.3,358.2 539.1,353.3 550.0,348.7 561.0,344.4 572.2,340.4 583.5,336.7 594.9,333.4 606.4,330.4 618.0,327.7 629.7,325.4 641.5,323.4 653.3,321.8 665.2,320.5 677.1,319.5 689.0,318.9 701.0,318.7 713.0,318.8 724.9,319.2 736.9,320.0 748.9,321.1 760.8,322.6 772.7,324.4 784.5,326.6 796.3,329.1 808.0,332.0 819.6,335.2 831.2,338.8 842.6,342.6 853.9,346.9 865.1,351.4 876.2,356.3 887.2,361.5 897.9,367.0 908.6,372.9 919.1,379.0 929.4,385.5 939.5,392.3 949.4,399.3 959.1,406.7 968.6,414.3 977.9,422.2 986.9,430.4 995.8,438.9 1004.3,447.6 1012.7,456.5 1020.7,465.8 1028.5,475.2 1036.1,484.9 1043.3,494.8 1050.3,504.9 1057.0,515.2 1063.3,525.8 1069.4,536.5 1075.2,547.4 1080.6,558.4 1085.7,569.7 1090.5,581.0 1095.0,592.6 1099.1,604.2 1102.9,616.0 1106.4,627.9 1109.5,639.9 1112.2,652.0 1114.7,664.2 1116.7,676.4 1118.4,688.7 1119.7,701.1 1120.7,713.5 1121.3,725.9 1121.6,738.4 1121.5,750.9 1121.0,763.4 1120.2,775.8 1119.0,788.3 1117.4,800.7 1115.5,813.1 1113.2,825.4 1110.6,837.7 1107.6,849.9 1104.2,862.0 1100.5,874.0 1096.5,885.9 1092.1,897.7 1087.3,909.3 1082.2,920.9 1076.8,932.3 1071.0,943.5 1064.9,954.6 1058.5,965.5 1051.8,976.2 1044.7,986.7 1037.4,997.0 1029.7,1007.1 1021.7,1017.0 1013.5,1026.6 1005.0,1036.1 996.1,1045.2 987.1,1054.2 977.7,1062.8 968.1,1071.2 958.3,1079.3 948.2,1087.1 937.9,1094.7 927.3,1101.9 916.6,1108.8 905.6,1115.5 894.5,1121.8 883.1,1127.8 871.6,1133.4 859.9,1138.7 848.1,1143.7 836.1,1148.3 824.0,1152.6 811.7,1156.6 799.3,1160.1 786.9,1163.4 774.3,1166.2 761.6,1168.7 748.9,1170.8 736.0,1172.6 723.2,1174.0 710.3,1175.0 697.3,1175.6 684.4,1175.9 671.4,1175.8 658.4,1175.3 645.4,1174.4 632.5,1173.1 619.6,1171.5 606.7,1169.5 593.9,1167.1 581.1,1164.3 568.5,1161.2 555.9,1157.7 543.4,1153.8 531.0,1149.6 518.8,1145.0 506.7,1140.0 494.7,1134.7 482.8,1129.1 471.2,1123.1 459.7,1116.7 448.3,1110.1 437.2,1103.0 426.3,1095.7 415.6,1088.0 405.1,1080.1 394.8,1071.8 384.8,1063.2 375.0,1054.3 365.5,1045.2 356.2,1035.7 347.2,1026.0 338.5,1016.0 330.1,1005.8 322.0,995.3 314.2,984.6 306.7,973.6 299.5,962.4 292.6,951.0 286.1,939.4 279.9,927.7 274.0,915.7 268.5,903.5 263.3,891.2 258.5,878.8 254.1,866.2 250.0,853.4 246.3,840.6 242.9,827.6 240.0,814.5 237.4,801.4 235.2,788.1 233.4,774.8 232.0,761.4 230.9,748.0 230.3,734.6 230.1,721.1 230.2,707.6 230.7,694.2 231.6,680.7 233.0,667.3 234.7,653.9 236.8,640.5 239.3,627.2 242.1,614.0 245.4,600.8 249.0,587.8 253.1,574.8 257.5,561.9 262.3,549.2 267.4,536.6 272.9,524.2 278.8,511.9 285.1,499.8 291.7,487.9 298.6,476.1 305.9,464.6 313.5,453.3 321.5,442.2 329.8,431.3 338.4,420.6 347.3,410.2 356.5,400.1 366.0,390.2 375.9,380.6 385.9,371.3 396.3,362.3 406.9,353.5 417.8,345.1 429.0,337.0 440.3,329.2 451.9,321.8 463.8,314.7 475.8,307.9 488.0,301.5 500.5,295.4 513.1,289.7 525.8,284.3 538.8,279.4 551.9,274.8 565.1,270.5 578.4,266.7 591.9,263.3 605.4,260.2 619.1,257.5 632.8,255.3 646.6,253.4 660.5,251.9 674.4,250.9 688.3,250.2 702.3,250.0 716.3,250.1 730.3,250.7 744.2,251.7 758.2,253.0 772.1,254.8 785.9,257.0 799.7,259.6 813.4,262.6 827.1,266.0 840.6,269.8 854.0,274.0 867.3,278.6 880.5,283.5 893.6,288.9 906.4,294.6 919.2,300.7 931.7,307.2 944.1,314.1 956.2,321.3 968.2,328.8 980.0,336.8 991.5,345.0 1002.7,353.6 1013.8,362.5 1024.5,371.8 1035.0,381.4 1045.3,391.2 1055.2,401.4 1064.9,411.9 1074.2,422.6 1083.2,433.7 1092.0,444.9 1100.3,456.5 1108.4,468.3 1116.1,480.3 1123.5,492.6 1130.5,505.0 1137.1,517.7 1143.4,530.6 1149.3,543.7 1154.8,556.9 1160.0,570.3 1164.7,583.9 1169.1,597.6 1173.1,611.4 1176.6,625.3 1179.8,639.4 1182.5,653.5 1184.9,667.8 1186.8,682.1 1188.3,696.4 1189.4,710.8 1190.0,725.3 1190.3,739.7 1190.1,754.2 1189.5,768.7 1188.5,783.2 1187.1,797.6 1185.2,812.0 1182.9,826.3 1180.2,840.6 1177.1,854.8 1173.6,868.9 1169.7,882.9 1165.3,896.8 1160.6,910.6 1155.4,924.3 1149.9,937.8 1143.9,951.1 1137.6,964.3 1130.8,977.3 1123.7,990.1 1116.3,1002.6 1108.4,1015.0 1100.2,1027.2 1091.7,1039.1 1082.8,1050.8 1073.5,1062.2 1063.9,1073.3 1054.0,1084.2 1043.8,1094.7 1033.2,1105.0 1022.4,1115.0 1011.3,1124.7 999.8,1134.0 988.1,1143.0 976.2,1151.7 964.0,1160.0 951.5,1168.0 938.8,1175.6 925.9,1182.9 912.8,1189.7 899.4,1196.2 885.9,1202.3 872.2,1208.0 858.3,1213.3 844.3,1218.2 830.1,1222.8 815.8,1226.8 801.4,1230.5 786.9,1233.8 772.2,1236.6 757.5,1239.0 742.7,1241.0 727.8,1242.5 712.9,1243.6 698.0,1244.3 683.0,1244.6 668.0,1244.4 653.1,1243.7 638.1,1242.7 623.2,1241.2 608.3,1239.3 593.5,1236.9 578.7,1234.1 564.0,1230.9 549.4,1227.2 534.9,1223.1 520.5,1218.6 506.3,1213.7 492.2,1208.3 478.2,1202.6 464.4,1196.4 450.8,1189.9 437.4,1182.9 424.2,1175.6 411.2,1167.8 398.4,1159.7 385.8,1151.2 373.5,1142.3 361.4,1133.1 349.6,1123.5 338.1,1113.6 326.9,1103.4 316.0,1092.8 305.3,1081.9 295.0,1070.7 285.1,1059.1 275.4,1047.3 266.1,1035.2 257.1,1022.9 248.5,1010.2 240.3,997.3 232.4,984.2 225.0,970.9 217.9,957.3 211.2,943.5 204.9,929.5 199.0,915.3 193.5,901.0 188.4,886.5 183.8,871.8 179.6,857.1 175.8,842.1 172.4,827.1 169.5,812.0 167.1,796.7 165.0,781.5 163.4,766.1 162.3,750.7 161.6,735.3 161.4,719.8 161.6,704.3 162.2,688.8 163.3,673.4 164.9,658.0 166.9,642.6 169.4,627.3 172.3,612.0 175.6,596.8 179.4,581.7 183.6,566.8 188.3,551.9 193.4,537.2 198.9,522.6 204.9,508.2 211.2,494.0 218.0,479.9 225.2,466.1 232.8,452.4 240.8,439.0 249.2,425.7 258.0,412.8 267.2,400.1 276.7,387.6 286.6,375.5 296.9,363.6 307.5,352.0 318.4,340.7 329.7,329.7 341.3,319.1 353.2,308.8 365.4,298.8 377.9,289.2 390.7,280.0 403.7,271.1 417.0,262.6 430.6,254.5 444.4,246.8 458.4,239.5 472.6,232.6 487.1,226.1 501.7,220.0 516.5,214.4 531.5,209.1 546.6,204.4 561.9,200.0 577.3,196.1 592.9,192.7 608.5,189.7 624.2,187.1 640.0,185.0 655.8,183.4 671.7,182.2 687.7,181.5 703.6,181.3 719.6,181.5 735.6,182.2 751.5,183.4 767.5,185.0 783.3,187.1 799.1,189.6 814.9,192.6 830.6,196.1 846.1,200.0 861.6,204.4 876.9,209.2 892.1,214.5 907.1,220.2 922.0,226.3 936.7,232.9 951.2,239.9 965.5,247.4 979.6,255.2 993.4,263.5 1007.1,272.2 1020.4,281.3 1033.6,290.7 1046.4,300.6 1058.9,310.8 1071.2,321.4 1083.1,332.3 1094.8,343.6 1106.1,355.2 1117.1,367.2 1127.7,379.5 1137.9,392.1 1147.8,405.0 1157.4,418.2 1166.5,431.7 1175.3,445.4 1183.6,459.4 1191.6,473.6 1199.1,488.1 1206.2,502.8 1212.9,517.7 1219.2,532.8 1225.0,548.1 1230.4,563.5 1235.3,579.1 1239.8,594.9 1243.8,610.8 1247.3,626.8 1250.4,642.9 1253.0,659.1 1255.2,675.4 1256.8,691.8 1258.0,708.2 1258.7,724.6 1259.0,741.1 1258.7,757.5 1258.0,774.0 1256.8,790.5 1255.1,806.9 1253.0,823.3 1250.3,839.6 1247.2,855.8 1243.7,871.9 1239.6,888.0 1235.1,903.9 1230.1,919.7 1224.7,935.4 1218.8,950.9 1212.4,966.2 1205.6,981.3 1198.4,996.3 1190.7,1011.0 1182.6,1025.6 1174.0,1039.8 1165.1,1053.9 1155.7,1067.7 1146.0,1081.2 1135.8,1094.4 1125.3,1107.3 1114.3,1120.0 1103.1,1132.3 1091.4,1144.3 1079.4,1155.9 1067.1,1167.2 1054.4,1178.1 1041.4,1188.7 1028.1,1198.9 1014.5,1208.7 1000.6,1218.2 986.4,1227.2 972.0,1235.8 957.3,1244.0 942.4,1251.7 927.3,1259.0 911.9,1265.9 896.3,1272.4 880.6,1278.3 864.7,1283.9 848.6,1288.9 832.3,1293.5 815.9,1297.7 799.4,1301.3 782.8,1304.5 766.1,1307.2 749.3,1309.4 732.5,1311.1 715.6,1312.3 698.7,1313.0 681.7,1313.3 664.7,1313.0 647.8,1312.2 630.8,1311.0 613.9,1309.3 597.0,1307.0 580.2,1304.3 563.5,1301.1 546.9,1297.4 530.3,1293.2 513.9,1288.5 497.7,1283.4 481.5,1277.8 465.6,1271.7 449.8,1265.1 434.2,1258.1 418.8,1250.7 403.6,1242.7 388.7,1234.4 374.0,1225.6 359.5,1216.3 345.3,1206.7 331.4,1196.6 317.8,1186.2 304.5,1175.3 291.5,1164.0 278.8,1152.4 266.5,1140.4 254.5,1128.0 242.8,1115.3 231.6,1102.3 220.7,1088.9 210.2,1075.2 200.1,1061.2 190.4,1046.9 181.1,1032.3 172.3,1017.4 163.9,1002.3 155.9,986.9 148.4,971.3 141.3,955.5 134.7,939.5 128.5,923.2 122.8,906.8 117.6,890.3 112.9,873.5 108.7,856.7 104.9,839.7 101.7,822.6 98.9,805.4 96.6,788.1 94.9,770.8 93.7,753.4 92.9,735.9 92.7,718.5 93.0,701.0 93.7,683.5 95.0,666.1 96.8,648.7 99.1,631.3 101.9,614.0 105.3,596.8 109.1,579.7 113.4,562.7 118.2,545.8 123.5,529.1 129.3,512.5 135.6,496.0 142.3,479.8 149.6,463.7 157.3,447.9 165.4,432.3 174.0,416.9 183.1,401.8 192.6,386.9 202.5,372.3 212.9,358.0 223.7,344.0 234.9,330.3 246.4,316.9 258.4,303.9 270.8,291.2 283.5,278.9 296.6,266.9 310.0,255.3 323.8,244.1 337.9,233.3 352.4,223.0 367.1,213.0 382.1,203.5 397.4,194.4 413.0,185.7 428.8,177.5 444.8,169.8 461.1,162.5 477.6,155.7 494.3,149.4 511.2,143.5 528.2,138.2 545.4,133.3 562.8,129.0 580.3,125.1 597.9,121.8"/>
<g stroke="#000" stroke-width="1.6" shape-rendering="crispEdges">
<line x1="591.0" y1="480.5" x2="574.5" y2="440.1"/>
<line x1="650.9" y1="461.2" x2="645.1" y2="424.1"/>
<line x1="714.3" y1="456.2" x2="717.2" y2="418.8"/>
<line x1="777.7" y1="466.0" x2="788.3" y2="432.9"/>
<line x1="837.6" y1="490.5" x2="852.4" y2="465.9"/>
<line x1="890.7" y1="528.5" x2="908.2" y2="510.7"/>
<line x1="934.0" y1="578.2" x2="956.4" y2="564.1"/>
<line x1="965.0" y1="637.0" x2="990.0" y2="628.5"/>
<line x1="981.7" y1="702.0" x2="1007.2" y2="699.5"/>
<line x1="982.9" y1="769.7" x2="1008.3" y2="773.2"/>
<line x1="968.3" y1="836.4" x2="990.1" y2="844.8"/>
<line x1="938.5" y1="898.5" x2="957.1" y2="911.3"/>
<line x1="894.7" y1="952.4" x2="909.2" y2="968.3"/>
<line x1="839.3" y1="995.2" x2="849.6" y2="1014.0"/>
<line x1="774.9" y1="1024.2" x2="781.5" y2="1047.8"/>
<line x1="704.9" y1="1037.7" x2="706.2" y2="1071.0"/>
<line x1="633.2" y1="1034.7" x2="626.8" y2="1067.4"/>
<line x1="563.5" y1="1015.0" x2="551.1" y2="1042.2"/>
<line x1="499.7" y1="979.4" x2="479.6" y2="1005.5"/>
<line x1="445.5" y1="929.7" x2="418.1" y2="951.9"/>
<line x1="403.8" y1="868.4" x2="366.5" y2="886.2"/>
<line x1="377.2" y1="798.5" x2="329.7" y2="808.8"/>
<line x1="367.4" y1="723.8" x2="318.8" y2="722.8"/>
<line x1="375.2" y1="648.2" x2="329.6" y2="636.5"/>
<line x1="400.4" y1="576.0" x2="358.7" y2="554.0"/>
<line x1="441.9" y1="511.0" x2="409.0" y2="482.3"/>
<line x1="497.7" y1="456.9" x2="473.5" y2="423.0"/>
<line x1="565.0" y1="416.9" x2="552.1" y2="385.3"/>
<line x1="640.3" y1="393.3" x2="635.1" y2="360.0"/>
<line x1="719.6" y1="387.7" x2="722.0" y2="357.1"/>
<line x1="798.6" y1="400.6" x2="807.3" y2="373.6"/>
<line x1="873.1" y1="431.7" x2="887.3" y2="408.1"/>
<line x1="938.8" y1="479.5" x2="958.7" y2="459.2"/>
<line x1="992.2" y1="541.5" x2="1016.8" y2="526.0"/>
<line x1="1030.0" y1="614.8" x2="1057.5" y2="605.4"/>
<line x1="1050.0" y1="695.4" x2="1077.9" y2="692.7"/>
<line x1="1050.9" y1="779.0" x2="1079.0" y2="782.8"/>
<line x1="1032.4" y1="861.1" x2="1061.0" y2="872.2"/>
<line x1="995.1" y1="937.3" x2="1022.6" y2="956.2"/>
<line x1="940.9" y1="1003.3" x2="965.3" y2="1030.2"/>
<line x1="872.4" y1="1055.3" x2="892.0" y2="1090.8"/>
<line x1="793.3" y1="1090.4" x2="804.2" y2="1129.5"/>
<line x1="707.6" y1="1106.3" x2="709.3" y2="1151.1"/>
<line x1="619.9" y1="1102.1" x2="610.9" y2="1148.2"/>
<line x1="535.1" y1="1077.5" x2="515.6" y2="1120.4"/>
<line x1="457.7" y1="1033.7" x2="429.8" y2="1069.7"/>
<line x1="392.0" y1="972.9" x2="356.9" y2="1001.2"/>
<line x1="341.8" y1="898.0" x2="301.1" y2="917.5"/>
<line x1="310.1" y1="813.0" x2="267.1" y2="822.4"/>
<line x1="298.7" y1="722.5" x2="254.7" y2="721.6"/>
<line x1="308.7" y1="631.1" x2="269.7" y2="621.1"/>
<line x1="339.6" y1="544.0" x2="307.8" y2="527.2"/>
<line x1="390.1" y1="465.8" x2="361.9" y2="441.1"/>
<line x1="457.8" y1="401.0" x2="433.7" y2="367.4"/>
<line x1="539.1" y1="353.3" x2="521.1" y2="309.4"/>
<line x1="629.7" y1="325.4" x2="622.4" y2="278.5"/>
<line x1="724.9" y1="319.2" x2="728.2" y2="277.2"/>
<line x1="819.6" y1="335.2" x2="831.4" y2="298.4"/>
<line x1="908.6" y1="372.9" x2="926.0" y2="344.0"/>
<line x1="986.9" y1="430.4" x2="1009.7" y2="407.2"/>
<line x1="1050.3" y1="504.9" x2="1075.9" y2="488.8"/>
<line x1="1095.0" y1="592.6" x2="1121.5" y2="583.5"/>
<line x1="1118.4" y1="688.7" x2="1145.1" y2="686.1"/>
<line x1="1119.0" y1="788.3" x2="1145.2" y2="791.9"/>
<line x1="1096.5" y1="885.9" x2="1121.5" y2="895.5"/>
<line x1="1051.8" y1="976.2" x2="1074.8" y2="992.0"/>
<line x1="987.1" y1="1054.2" x2="1008.9" y2="1078.3"/>
<line x1="905.6" y1="1115.5" x2="924.5" y2="1149.7"/>
<line x1="811.7" y1="1156.6" x2="822.3" y2="1194.6"/>
<line x1="710.3" y1="1175.0" x2="712.1" y2="1222.0"/>
<line x1="606.7" y1="1169.5" x2="597.6" y2="1215.7"/>
<line x1="506.7" y1="1140.0" x2="488.0" y2="1181.2"/>
<line x1="415.6" y1="1088.0" x2="388.2" y2="1123.4"/>
<line x1="338.5" y1="1016.0" x2="301.6" y2="1045.8"/>
<line x1="279.9" y1="927.7" x2="237.1" y2="948.1"/>
<line x1="242.9" y1="827.6" x2="189.5" y2="839.2"/>
<line x1="230.1" y1="721.1" x2="175.4" y2="720.1"/>
<line x1="242.1" y1="614.0" x2="195.1" y2="601.8"/>
<line x1="278.8" y1="511.9" x2="239.9" y2="491.4"/>
<line x1="338.4" y1="420.6" x2="308.1" y2="394.2"/>
<line x1="417.8" y1="345.1" x2="395.8" y2="314.3"/>
<line x1="513.1" y1="289.7" x2="499.0" y2="255.3"/>
<line x1="619.1" y1="257.5" x2="614.1" y2="225.4"/>
<line x1="730.3" y1="250.7" x2="732.8" y2="218.6"/>
<line x1="840.6" y1="269.8" x2="851.9" y2="234.4"/>
<line x1="944.1" y1="314.1" x2="963.3" y2="282.3"/>
<line x1="1035.0" y1="381.4" x2="1062.1" y2="353.8"/>
<line x1="1108.4" y1="468.3" x2="1144.3" y2="445.6"/>
<line x1="1160.0" y1="570.3" x2="1200.5" y2="556.4"/>
<line x1="1186.8" y1="682.1" x2="1229.4" y2="677.9"/>
<line x1="1187.1" y1="797.6" x2="1229.5" y2="803.4"/>
<line x1="1160.6" y1="910.6" x2="1199.1" y2="925.5"/>
<line x1="1108.4" y1="1015.0" x2="1142.5" y2="1038.4"/>
<line x1="1033.2" y1="1105.0" x2="1057.2" y2="1131.4"/>
<line x1="938.8" y1="1175.6" x2="954.6" y2="1204.1"/>
<line x1="830.1" y1="1222.8" x2="838.9" y2="1254.1"/>
<line x1="712.9" y1="1243.6" x2="714.1" y2="1272.7"/>
<line x1="593.5" y1="1236.9" x2="587.9" y2="1265.1"/>
<line x1="478.2" y1="1202.6" x2="466.6" y2="1228.1"/>
<line x1="373.5" y1="1142.3" x2="357.3" y2="1163.2"/>
<line x1="285.1" y1="1059.1" x2="264.8" y2="1075.5"/>
<line x1="217.9" y1="957.3" x2="194.4" y2="968.5"/>
<line x1="175.8" y1="842.1" x2="150.3" y2="847.7"/>
<line x1="161.4" y1="719.8" x2="136.8" y2="719.3"/>
<line x1="175.6" y1="596.8" x2="151.8" y2="590.7"/>
<line x1="218.0" y1="479.9" x2="196.3" y2="468.5"/>
<line x1="286.6" y1="375.5" x2="270.1" y2="361.1"/>
<line x1="377.9" y1="289.2" x2="364.7" y2="270.8"/>
<line x1="487.1" y1="226.1" x2="476.5" y2="200.2"/>
<line x1="608.5" y1="189.7" x2="603.7" y2="159.0"/>
<line x1="735.6" y1="182.2" x2="738.8" y2="141.0"/>
<line x1="861.6" y1="204.4" x2="874.2" y2="165.0"/>
<line x1="979.6" y1="255.2" x2="1000.7" y2="220.2"/>
<line x1="1083.1" y1="332.3" x2="1117.2" y2="297.6"/>
<line x1="1166.5" y1="431.7" x2="1208.3" y2="405.3"/>
<line x1="1225.0" y1="548.1" x2="1275.7" y2="530.7"/>
<line x1="1255.2" y1="675.4" x2="1308.5" y2="670.2"/>
<line x1="1255.1" y1="806.9" x2="1303.7" y2="813.5"/>
<line x1="1224.7" y1="935.4" x2="1267.8" y2="952.0"/>
<line x1="1165.1" y1="1053.9" x2="1201.1" y2="1078.6"/>
<line x1="1079.4" y1="1155.9" x2="1106.4" y2="1185.7"/>
<line x1="972.0" y1="1235.8" x2="991.1" y2="1270.3"/>
<line x1="848.6" y1="1288.9" x2="859.0" y2="1326.6"/>
<line x1="715.6" y1="1312.3" x2="716.6" y2="1338.7"/>
<line x1="580.2" y1="1304.3" x2="575.1" y2="1330.3"/>
<line x1="449.8" y1="1265.1" x2="440.4" y2="1285.7"/>
<line x1="331.4" y1="1196.6" x2="320.6" y2="1210.6"/>
<line x1="231.6" y1="1102.3" x2="218.4" y2="1112.9"/>
<line x1="155.9" y1="986.9" x2="137.9" y2="995.5"/>
<line x1="108.7" y1="856.7" x2="86.9" y2="861.4"/>
<line x1="92.7" y1="718.5" x2="70.4" y2="718.0"/>
<line x1="109.1" y1="579.7" x2="88.3" y2="574.3"/>
<line x1="157.3" y1="447.9" x2="136.9" y2="437.2"/>
<line x1="234.9" y1="330.3" x2="214.9" y2="312.9"/>
<line x1="337.9" y1="233.3" x2="321.9" y2="210.9"/>
<line x1="461.1" y1="162.5" x2="449.7" y2="134.5"/>
<line x1="597.9" y1="121.8" x2="592.7" y2="88.9"/>
</g>
<g stroke="#b2b2b2" stroke-width="1.8" shape-rendering="crispEdges">
<line x1="548.5" y1="510.4" x2="542.5" y2="501.3"/>
<line x1="602.2" y1="480.6" x2="598.5" y2="470.4"/>
<line x1="661.9" y1="463.9" x2="660.6" y2="453.1"/>
<line x1="724.4" y1="461.4" x2="725.7" y2="450.5"/>
<line x1="786.4" y1="473.5" x2="790.1" y2="463.2"/>
<line x1="844.5" y1="499.8" x2="850.5" y2="490.7"/>
<line x1="895.4" y1="539.2" x2="903.3" y2="531.7"/>
<line x1="936.1" y1="589.7" x2="945.6" y2="584.3"/>
<line x1="964.4" y1="648.9" x2="974.8" y2="645.7"/>
<line x1="978.4" y1="713.5" x2="989.2" y2="712.8"/>
<line x1="977.0" y1="780.2" x2="987.7" y2="782.1"/>
<line x1="960.1" y1="845.3" x2="970.1" y2="849.6"/>
<line x1="928.4" y1="905.3" x2="937.1" y2="911.9"/>
<line x1="883.3" y1="956.9" x2="890.3" y2="965.2"/>
<line x1="827.0" y1="996.9" x2="831.9" y2="1006.6"/>
<line x1="762.4" y1="1023.1" x2="765.0" y2="1033.7"/>
<line x1="693.0" y1="1033.8" x2="693.0" y2="1044.7"/>
<line x1="622.4" y1="1028.0" x2="619.9" y2="1038.6"/>
<line x1="554.4" y1="1006.0" x2="549.5" y2="1015.7"/>
<line x1="492.9" y1="968.6" x2="485.9" y2="976.9"/>
<line x1="441.3" y1="917.5" x2="432.5" y2="924.0"/>
<line x1="402.5" y1="855.4" x2="392.5" y2="859.7"/>
<line x1="378.9" y1="785.5" x2="368.2" y2="787.4"/>
<line x1="372.1" y1="711.4" x2="361.2" y2="710.8"/>
<line x1="382.6" y1="637.2" x2="372.2" y2="634.0"/>
<line x1="410.2" y1="566.8" x2="400.8" y2="561.4"/>
<line x1="453.6" y1="504.3" x2="445.7" y2="496.8"/>
<line x1="510.8" y1="453.0" x2="504.8" y2="443.9"/>
<line x1="578.7" y1="416.1" x2="575.0" y2="405.8"/>
<line x1="653.9" y1="395.6" x2="652.6" y2="384.8"/>
<line x1="732.4" y1="393.1" x2="733.7" y2="382.3"/>
<line x1="809.9" y1="408.9" x2="813.6" y2="398.7"/>
<line x1="882.2" y1="442.4" x2="888.2" y2="433.3"/>
<line x1="945.3" y1="492.0" x2="953.3" y2="484.6"/>
<line x1="995.6" y1="555.4" x2="1005.1" y2="549.9"/>
<line x1="1030.2" y1="629.1" x2="1040.6" y2="626.0"/>
<line x1="1046.9" y1="709.5" x2="1057.8" y2="708.9"/>
<line x1="1044.7" y1="792.1" x2="1055.4" y2="794.0"/>
<line x1="1023.2" y1="872.5" x2="1033.2" y2="876.9"/>
<line x1="983.5" y1="946.4" x2="992.2" y2="952.9"/>
<line x1="927.4" y1="1009.5" x2="934.4" y2="1017.8"/>
<line x1="857.8" y1="1058.3" x2="862.7" y2="1068.0"/>
<line x1="778.3" y1="1089.9" x2="780.8" y2="1100.5"/>
<line x1="693.0" y1="1102.5" x2="693.0" y2="1113.3"/>
<line x1="606.5" y1="1094.9" x2="604.0" y2="1105.5"/>
<line x1="523.6" y1="1067.4" x2="518.7" y2="1077.1"/>
<line x1="448.8" y1="1021.2" x2="441.7" y2="1029.5"/>
<line x1="386.2" y1="958.5" x2="377.4" y2="965.0"/>
<line x1="339.4" y1="882.6" x2="329.4" y2="886.9"/>
<line x1="311.3" y1="797.4" x2="300.5" y2="799.3"/>
<line x1="303.5" y1="707.4" x2="292.6" y2="706.8"/>
<line x1="316.8" y1="617.5" x2="306.4" y2="614.3"/>
<line x1="350.7" y1="532.5" x2="341.3" y2="527.0"/>
<line x1="403.7" y1="457.1" x2="395.7" y2="449.6"/>
<line x1="473.0" y1="395.6" x2="467.0" y2="386.5"/>
<line x1="555.2" y1="351.5" x2="551.5" y2="341.3"/>
<line x1="645.9" y1="327.4" x2="644.7" y2="316.6"/>
<line x1="740.4" y1="324.9" x2="741.6" y2="314.1"/>
<line x1="833.4" y1="344.3" x2="837.1" y2="334.1"/>
<line x1="920.0" y1="385.0" x2="926.0" y2="375.9"/>
<line x1="995.3" y1="444.9" x2="1003.2" y2="437.4"/>
<line x1="1055.1" y1="521.0" x2="1064.6" y2="515.6"/>
<line x1="1096.0" y1="609.4" x2="1106.5" y2="606.3"/>
<line x1="1115.5" y1="705.5" x2="1126.4" y2="704.9"/>
<line x1="1112.3" y1="804.0" x2="1123.0" y2="805.9"/>
<line x1="1086.3" y1="899.8" x2="1096.3" y2="904.1"/>
<line x1="1038.6" y1="987.4" x2="1047.4" y2="993.9"/>
<line x1="971.6" y1="1062.1" x2="978.6" y2="1070.5"/>
<line x1="888.7" y1="1119.7" x2="893.6" y2="1129.4"/>
<line x1="794.1" y1="1156.8" x2="796.6" y2="1167.4"/>
<line x1="693.0" y1="1171.2" x2="693.0" y2="1182.0"/>
<line x1="590.7" y1="1161.7" x2="588.2" y2="1172.3"/>
<line x1="492.8" y1="1128.8" x2="487.9" y2="1138.5"/>
<line x1="404.6" y1="1073.8" x2="397.6" y2="1082.2"/>
<line x1="331.1" y1="999.6" x2="322.3" y2="1006.1"/>
<line x1="276.3" y1="909.8" x2="266.3" y2="914.1"/>
<line x1="243.6" y1="809.3" x2="232.9" y2="811.2"/>
<line x1="234.9" y1="703.4" x2="224.0" y2="702.8"/>
<line x1="251.0" y1="597.8" x2="240.5" y2="594.6"/>
<line x1="291.2" y1="498.1" x2="281.8" y2="492.7"/>
<line x1="353.7" y1="410.0" x2="345.8" y2="402.5"/>
<line x1="435.3" y1="338.2" x2="429.3" y2="329.1"/>
<line x1="531.7" y1="287.0" x2="528.0" y2="276.7"/>
<line x1="638.0" y1="259.2" x2="636.7" y2="248.4"/>
<line x1="748.3" y1="256.7" x2="749.6" y2="245.8"/>
<line x1="856.9" y1="279.8" x2="860.6" y2="269.5"/>
<line x1="957.7" y1="327.6" x2="963.7" y2="318.5"/>
<line x1="1045.3" y1="397.7" x2="1053.2" y2="390.3"/>
<line x1="1114.6" y1="486.7" x2="1124.1" y2="481.2"/>
<line x1="1161.8" y1="589.7" x2="1172.3" y2="586.6"/>
<line x1="1184.1" y1="701.5" x2="1195.0" y2="700.9"/>
<line x1="1180.0" y1="816.0" x2="1190.7" y2="817.9"/>
<line x1="1149.4" y1="927.0" x2="1159.4" y2="931.3"/>
<line x1="1093.7" y1="1028.4" x2="1102.5" y2="1034.9"/>
<line x1="1015.8" y1="1114.7" x2="1022.8" y2="1123.1"/>
<line x1="919.5" y1="1181.1" x2="924.4" y2="1190.8"/>
<line x1="810.0" y1="1223.6" x2="812.5" y2="1234.2"/>
<line x1="693.0" y1="1239.8" x2="693.0" y2="1250.8"/>
<line x1="574.9" y1="1228.6" x2="572.3" y2="1239.2"/>
<line x1="461.9" y1="1190.2" x2="457.0" y2="1199.9"/>
<line x1="360.4" y1="1126.4" x2="353.4" y2="1134.8"/>
<line x1="276.0" y1="1040.6" x2="267.2" y2="1047.1"/>
<line x1="213.3" y1="937.0" x2="203.2" y2="941.4"/>
<line x1="176.0" y1="821.3" x2="165.2" y2="823.2"/>
<line x1="166.3" y1="699.4" x2="155.4" y2="698.8"/>
<line x1="185.2" y1="578.1" x2="174.7" y2="574.9"/>
<line x1="231.7" y1="463.8" x2="222.3" y2="458.3"/>
<line x1="303.7" y1="362.8" x2="295.8" y2="355.3"/>
<line x1="397.5" y1="280.8" x2="391.5" y2="271.7"/>
<line x1="508.2" y1="222.4" x2="504.5" y2="212.2"/>
<line x1="630.0" y1="190.9" x2="628.7" y2="180.1"/>
<line x1="756.3" y1="188.4" x2="757.6" y2="177.6"/>
<line x1="880.4" y1="215.2" x2="884.1" y2="205.0"/>
<line x1="995.5" y1="270.2" x2="1001.5" y2="261.1"/>
<line x1="1095.2" y1="350.6" x2="1103.2" y2="343.1"/>
<line x1="1174.1" y1="452.3" x2="1183.6" y2="446.9"/>
<line x1="1227.6" y1="570.0" x2="1238.1" y2="566.9"/>
<line x1="1252.7" y1="697.5" x2="1263.6" y2="696.9"/>
<line x1="1247.6" y1="827.9" x2="1258.4" y2="829.8"/>
<line x1="1212.5" y1="954.2" x2="1222.5" y2="958.5"/>
<line x1="1148.8" y1="1069.4" x2="1157.6" y2="1076.0"/>
<line x1="1059.9" y1="1167.4" x2="1066.9" y2="1175.7"/>
<line x1="950.3" y1="1242.5" x2="955.2" y2="1252.2"/>
<line x1="825.8" y1="1290.5" x2="828.3" y2="1301.1"/>
<line x1="693.0" y1="1308.5" x2="693.0" y2="1319.4"/>
<line x1="559.0" y1="1295.4" x2="556.5" y2="1306.0"/>
<line x1="431.1" y1="1251.6" x2="426.2" y2="1261.3"/>
<line x1="316.3" y1="1179.1" x2="309.3" y2="1187.4"/>
<line x1="220.8" y1="1081.6" x2="212.1" y2="1088.1"/>
<line x1="150.2" y1="964.3" x2="140.2" y2="968.6"/>
<line x1="108.3" y1="833.2" x2="97.6" y2="835.1"/>
<line x1="97.7" y1="695.4" x2="86.9" y2="694.8"/>
<line x1="119.4" y1="558.4" x2="108.9" y2="555.2"/>
<line x1="172.2" y1="429.4" x2="162.8" y2="424.0"/>
<line x1="253.7" y1="315.7" x2="245.8" y2="308.2"/>
<line x1="359.8" y1="223.4" x2="353.8" y2="214.3"/>
<line x1="484.7" y1="157.8" x2="481.0" y2="147.6"/>
</g>
<g font-family="'DejaVu Sans Light','DejaVu Sans','Liberation Sans',sans-serif" font-weight="200" font-size="15.5" fill="#000" stroke="#000" stroke-width="0.42">
<text transform="translate(666.3,476.1) rotate(0.0)" textLength="65" lengthAdjust="spacing">01-Dec</text>
<text transform="translate(840.1,512.1) rotate(40.0)" textLength="65" lengthAdjust="spacing">04-Dec</text>
<text transform="translate(953.1,655.5) rotate(80.0)" textLength="65" lengthAdjust="spacing">07-Dec</text>
<text transform="translate(955.2,846.9) rotate(-60.0)" text-anchor="end" textLength="65" lengthAdjust="spacing">10-Dec</text>
<text transform="translate(822.2,995.0) rotate(-20.0)" text-anchor="end" textLength="65" lengthAdjust="spacing">13-Dec</text>
<text transform="translate(619.9,1023.4) rotate(20.0)" text-anchor="end" textLength="65" lengthAdjust="spacing">16-Dec</text>
<text transform="translate(442.2,912.3) rotate(60.0)" text-anchor="end" textLength="65" lengthAdjust="spacing">19-Dec</text>
<text transform="translate(385.0,708.6) rotate(280.0)" textLength="65" lengthAdjust="spacing">22-Dec</text>
<text transform="translate(465.4,510.3) rotate(320.0)" textLength="65" lengthAdjust="spacing">25-Dec</text>
<text transform="translate(663.2,407.3) rotate(0.0)" textLength="65" lengthAdjust="spacing">28-Dec</text>
<text transform="translate(882.1,457.4) rotate(40.0)" textLength="65" lengthAdjust="spacing">31-Dec</text>
<text transform="translate(1020.5,640.7) rotate(80.0)" textLength="64" lengthAdjust="spacing">03-Jan</text>
<text transform="translate(1016.2,879.0) rotate(-60.0)" text-anchor="end" textLength="64" lengthAdjust="spacing">06-Jan</text>
<text transform="translate(848.2,1058.8) rotate(-20.0)" text-anchor="end" textLength="64" lengthAdjust="spacing">09-Jan</text>
<text transform="translate(598.6,1089.1) rotate(20.0)" text-anchor="end" textLength="64" lengthAdjust="spacing">12-Jan</text>
<text transform="translate(383.7,948.8) rotate(60.0)" text-anchor="end" textLength="64" lengthAdjust="spacing">15-Jan</text>
<text transform="translate(316.7,698.9) rotate(280.0)" textLength="64" lengthAdjust="spacing">18-Jan</text>
<text transform="translate(419.3,458.9) rotate(320.0)" textLength="64" lengthAdjust="spacing">21-Jan</text>
<text transform="translate(656.9,338.9) rotate(0.0)" textLength="64" lengthAdjust="spacing">24-Jan</text>
<text transform="translate(921.2,400.9) rotate(40.0)" textLength="64" lengthAdjust="spacing">27-Jan</text>
<text transform="translate(1086.8,622.6) rotate(80.0)" textLength="64" lengthAdjust="spacing">30-Jan</text>
<text transform="translate(1078.6,907.7) rotate(-60.0)" text-anchor="end" textLength="65" lengthAdjust="spacing">02-Feb</text>
<text transform="translate(877.5,1121.0) rotate(-20.0)" text-anchor="end" textLength="65" lengthAdjust="spacing">05-Feb</text>
<text transform="translate(581.1,1155.5) rotate(20.0)" text-anchor="end" textLength="65" lengthAdjust="spacing">08-Feb</text>
<text transform="translate(327.6,988.5) rotate(60.0)" text-anchor="end" textLength="65" lengthAdjust="spacing">11-Feb</text>
<text transform="translate(248.2,693.3) rotate(280.0)" textLength="65" lengthAdjust="spacing">14-Feb</text>
<text transform="translate(370.5,410.6) rotate(320.0)" textLength="65" lengthAdjust="spacing">17-Feb</text>
<text transform="translate(650.6,270.5) rotate(0.0)" textLength="65" lengthAdjust="spacing">20-Feb</text>
<text transform="translate(960.3,344.5) rotate(40.0)" textLength="65" lengthAdjust="spacing">23-Feb</text>
<text transform="translate(1153.0,604.5) rotate(80.0)" textLength="65" lengthAdjust="spacing">26-Feb</text>
<text transform="translate(1141.0,936.5) rotate(-60.0)" text-anchor="end" textLength="65" lengthAdjust="spacing">29-Feb</text>
<text transform="translate(906.8,1183.1) rotate(-20.0)" text-anchor="end" textLength="65" lengthAdjust="spacing">03-Mar</text>
<text transform="translate(563.7,1221.9) rotate(20.0)" text-anchor="end" textLength="65" lengthAdjust="spacing">06-Mar</text>
<text transform="translate(271.5,1028.1) rotate(60.0)" text-anchor="end" textLength="65" lengthAdjust="spacing">09-Mar</text>
<text transform="translate(179.7,687.6) rotate(280.0)" textLength="65" lengthAdjust="spacing">12-Mar</text>
<text transform="translate(321.7,362.2) rotate(320.0)" textLength="65" lengthAdjust="spacing">15-Mar</text>
<text transform="translate(644.3,202.0) rotate(0.0)" textLength="65" lengthAdjust="spacing">18-Mar</text>
<text transform="translate(999.5,288.0) rotate(40.0)" textLength="65" lengthAdjust="spacing">21-Mar</text>
<text transform="translate(1219.3,586.4) rotate(80.0)" textLength="65" lengthAdjust="spacing">24-Mar</text>
<text transform="translate(1203.4,965.2) rotate(-60.0)" text-anchor="end" textLength="65" lengthAdjust="spacing">27-Mar</text>
<text transform="translate(936.1,1245.2) rotate(-20.0)" text-anchor="end" textLength="65" lengthAdjust="spacing">30-Mar</text>
<text transform="translate(546.2,1288.4) rotate(20.0)" text-anchor="end" textLength="65" lengthAdjust="spacing">02-Apr</text>
<text transform="translate(215.4,1067.8) rotate(60.0)" text-anchor="end" textLength="65" lengthAdjust="spacing">05-Apr</text>
<text transform="translate(111.3,681.9) rotate(280.0)" textLength="65" lengthAdjust="spacing">08-Apr</text>
</g>
<g font-family="'DejaVu Sans','Liberation Sans',sans-serif" font-weight="400" font-size="14" fill="#000" stroke="#000" stroke-width="0.5" text-anchor="middle" letter-spacing="0.2">
<text x="713.5" y="49.6">250</text>
<text x="713.5" y="71.9">190</text>
<text x="713.5" y="94.8">130</text>
</g>
<circle cx="41.8" cy="28" r="15" fill="#b0b0b0"/>
<circle cx="41.8" cy="84" r="14.3" fill="none" stroke="#b0b0b0" stroke-width="1.4"/>
<g font-family="'DejaVu Sans Light','DejaVu Sans','Liberation Sans',sans-serif" font-weight="200" stroke-width="0.4">
<text x="70.7" y="28" font-size="16" textLength="79.3" lengthAdjust="spacing" text-anchor="start" fill="#000" stroke="#000" >New Moon</text>
<text x="70.7" y="84" font-size="16" textLength="73.9" lengthAdjust="spacing" text-anchor="start" fill="#000" stroke="#000" >Full Moon</text>
<text x="1267" y="38.2" font-size="16.5" textLength="126.6" lengthAdjust="spacing" text-anchor="start" fill="#000" stroke="#000" >Period: 27 days</text>
<text x="5.4" y="1394.7" font-size="16" textLength="105" lengthAdjust="spacing" text-anchor="start" fill="#000" stroke="#000" >GI-UAF 2024</text>
<text x="1076" y="1395" font-size="15.5" textLength="317.7" lengthAdjust="spacing" text-anchor="start" fill="#000" stroke="#000" >Condegram plotted Apr 14 at 12:01 UT</text>
<text x="719" y="579.5" font-size="18" textLength="75.3" lengthAdjust="spacing" text-anchor="start" fill="#000" stroke="#000" >250 sfu</text>
<text x="719" y="648" font-size="18" textLength="62.4" lengthAdjust="spacing" text-anchor="start" fill="#000" stroke="#000" >70 sfu</text>
</g>
<g stroke="#000" shape-rendering="crispEdges">
<line x1="688" y1="573.5" x2="688" y2="642" stroke-width="2"/>
<line x1="671" y1="573.5" x2="707" y2="573.5" stroke-width="1"/>
<line x1="671" y1="641.5" x2="707" y2="641.5" stroke-width="1"/>
</g>
<g font-family="'DejaVu Serif','Liberation Serif',serif" font-style="italic" stroke-width="0">
<g transform="translate(695,727) scale(1.12,1)"><text x="0" y="0" font-size="31.5" textLength="243.7" lengthAdjust="spacing" text-anchor="middle" fill="#ff3030" stroke="#ff3030" >10.7 cm Solar</text></g>
<g transform="translate(692.5,758.6) scale(1.12,1)"><text x="0" y="0" font-size="31.5" textLength="192.0" lengthAdjust="spacing" text-anchor="middle" fill="#ff3030" stroke="#ff3030" >Radio Flux</text></g>
</g>
<g font-family="'DejaVu Sans Light','DejaVu Sans','Liberation Sans',sans-serif" font-weight="200" stroke-width="0.5">
<text x="692.8" y="804.3" font-size="33" textLength="108.4" lengthAdjust="spacing" text-anchor="middle" fill="#ff3030" stroke="#ff3030" >70 sfu</text>
<text x="692.9" y="885.7" font-size="29.5" textLength="243" lengthAdjust="spacing" text-anchor="middle" fill="#ff3030" stroke="#ff3030" >Latest: 20:00 UT</text>
<text x="692.9" y="911.4" font-size="27.5" textLength="203" lengthAdjust="spacing" text-anchor="middle" fill="#ff3030" stroke="#ff3030" >2024-Apr-13</text>
</g>
</svg>
</body></html>
